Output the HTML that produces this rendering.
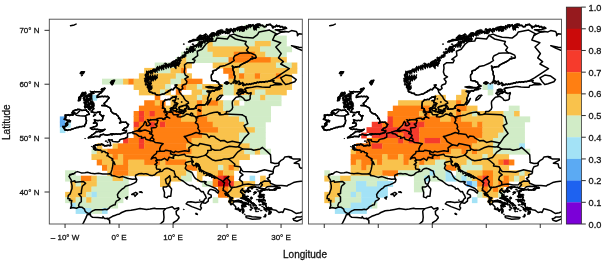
<!DOCTYPE html>
<html><head><meta charset="utf-8"><title>Map</title><style>html,body{margin:0;padding:0;background:#fff;overflow:hidden}body{width:602px;height:261px}</style></head><body>
<svg width="602" height="261" viewBox="0 0 602 261" style="display:block">
<defs><clipPath id="cp"><rect x="49.30" y="19.20" width="253.00" height="204.80"/></clipPath></defs>
<rect width="602" height="261" fill="#fff"/>
<g clip-path="url(#cp)" transform="translate(0.00,0)">
<g><rect x="244.32" y="24.79" width="21.38" height="5.89" fill="#D1ECC7"/>
<rect x="233.78" y="30.18" width="42.47" height="5.89" fill="#D1ECC7"/>
<rect x="212.70" y="35.57" width="74.09" height="5.89" fill="#D1ECC7"/>
<rect x="196.88" y="40.96" width="10.84" height="5.89" fill="#D1ECC7"/>
<rect x="207.43" y="40.96" width="5.57" height="5.89" fill="#F9C24C"/>
<rect x="212.70" y="40.96" width="42.47" height="5.89" fill="#D1ECC7"/>
<rect x="254.86" y="40.96" width="16.11" height="5.89" fill="#F9C24C"/>
<rect x="270.68" y="40.96" width="16.11" height="5.89" fill="#D1ECC7"/>
<rect x="186.34" y="46.34" width="21.38" height="5.89" fill="#D1ECC7"/>
<rect x="207.43" y="46.34" width="53.01" height="5.89" fill="#F9C24C"/>
<rect x="260.13" y="46.34" width="31.93" height="5.89" fill="#D1ECC7"/>
<rect x="181.07" y="51.73" width="31.93" height="5.89" fill="#D1ECC7"/>
<rect x="212.70" y="51.73" width="21.38" height="5.89" fill="#F9C24C"/>
<rect x="233.78" y="51.73" width="21.38" height="5.89" fill="#FF7F12"/>
<rect x="254.86" y="51.73" width="10.84" height="5.89" fill="#F9C24C"/>
<rect x="265.40" y="51.73" width="21.38" height="5.89" fill="#D1ECC7"/>
<rect x="175.80" y="57.12" width="5.57" height="5.89" fill="#D1ECC7"/>
<rect x="181.07" y="57.12" width="5.57" height="5.89" fill="#F9C24C"/>
<rect x="186.34" y="57.12" width="42.47" height="5.89" fill="#D1ECC7"/>
<rect x="228.51" y="57.12" width="42.47" height="5.89" fill="#FF7F12"/>
<rect x="270.68" y="57.12" width="16.11" height="5.89" fill="#F9C24C"/>
<rect x="154.72" y="62.51" width="21.38" height="5.89" fill="#D1ECC7"/>
<rect x="175.80" y="62.51" width="16.11" height="5.89" fill="#F9C24C"/>
<rect x="212.70" y="62.51" width="63.55" height="5.89" fill="#F9C24C"/>
<rect x="275.95" y="62.51" width="16.11" height="5.89" fill="#D1ECC7"/>
<rect x="291.76" y="62.51" width="5.57" height="5.89" fill="#F9C24C"/>
<rect x="144.18" y="67.90" width="10.84" height="5.89" fill="#F9C24C"/>
<rect x="154.72" y="67.90" width="16.11" height="5.89" fill="#D1ECC7"/>
<rect x="170.53" y="67.90" width="10.84" height="5.89" fill="#F9C24C"/>
<rect x="181.07" y="67.90" width="5.57" height="5.89" fill="#FF7F12"/>
<rect x="223.24" y="67.90" width="10.84" height="5.89" fill="#FF7F12"/>
<rect x="233.78" y="67.90" width="5.57" height="5.89" fill="#F9C24C"/>
<rect x="239.05" y="67.90" width="5.57" height="5.89" fill="#D1ECC7"/>
<rect x="244.32" y="67.90" width="53.01" height="5.89" fill="#F9C24C"/>
<rect x="138.90" y="73.29" width="37.20" height="5.89" fill="#F9C24C"/>
<rect x="175.80" y="73.29" width="10.84" height="5.89" fill="#D1ECC7"/>
<rect x="186.34" y="73.29" width="5.57" height="5.89" fill="#F9C24C"/>
<rect x="228.51" y="73.29" width="5.57" height="5.89" fill="#FF7F12"/>
<rect x="233.78" y="73.29" width="5.57" height="5.89" fill="#F9C24C"/>
<rect x="239.05" y="73.29" width="5.57" height="5.89" fill="#FF7F12"/>
<rect x="244.32" y="73.29" width="10.84" height="5.89" fill="#F9C24C"/>
<rect x="254.86" y="73.29" width="5.57" height="5.89" fill="#FF7F12"/>
<rect x="260.13" y="73.29" width="16.11" height="5.89" fill="#F9C24C"/>
<rect x="275.95" y="73.29" width="5.57" height="5.89" fill="#FF7F12"/>
<rect x="281.22" y="73.29" width="10.84" height="5.89" fill="#F9C24C"/>
<rect x="102.01" y="78.68" width="21.38" height="5.89" fill="#D1ECC7"/>
<rect x="123.09" y="78.68" width="5.57" height="5.89" fill="#F9C24C"/>
<rect x="128.36" y="78.68" width="5.57" height="5.89" fill="#FF7F12"/>
<rect x="133.63" y="78.68" width="37.20" height="5.89" fill="#F9C24C"/>
<rect x="170.53" y="78.68" width="10.84" height="5.89" fill="#D1ECC7"/>
<rect x="181.07" y="78.68" width="5.57" height="5.89" fill="#F9C24C"/>
<rect x="186.34" y="78.68" width="16.11" height="5.89" fill="#FF7F12"/>
<rect x="228.51" y="78.68" width="63.55" height="5.89" fill="#F9C24C"/>
<rect x="133.63" y="84.07" width="31.93" height="5.89" fill="#F9C24C"/>
<rect x="165.26" y="84.07" width="5.57" height="5.89" fill="#D1ECC7"/>
<rect x="175.80" y="84.07" width="5.57" height="5.89" fill="#F9C24C"/>
<rect x="181.07" y="84.07" width="5.57" height="5.89" fill="#FF7F12"/>
<rect x="186.34" y="84.07" width="10.84" height="5.89" fill="#F9C24C"/>
<rect x="196.88" y="84.07" width="5.57" height="5.89" fill="#D1ECC7"/>
<rect x="202.15" y="84.07" width="21.38" height="5.89" fill="#F9C24C"/>
<rect x="223.24" y="84.07" width="10.84" height="5.89" fill="#D1ECC7"/>
<rect x="233.78" y="84.07" width="58.28" height="5.89" fill="#F9C24C"/>
<rect x="138.90" y="89.46" width="21.38" height="5.89" fill="#F9C24C"/>
<rect x="159.99" y="89.46" width="5.57" height="5.89" fill="#D1ECC7"/>
<rect x="165.26" y="89.46" width="5.57" height="5.89" fill="#F9C24C"/>
<rect x="175.80" y="89.46" width="5.57" height="5.89" fill="#FF7F12"/>
<rect x="191.61" y="89.46" width="10.84" height="5.89" fill="#F9C24C"/>
<rect x="202.15" y="89.46" width="5.57" height="5.89" fill="#D1ECC7"/>
<rect x="207.43" y="89.46" width="16.11" height="5.89" fill="#F9C24C"/>
<rect x="223.24" y="89.46" width="10.84" height="5.89" fill="#D1ECC7"/>
<rect x="233.78" y="89.46" width="5.57" height="5.89" fill="#F9C24C"/>
<rect x="239.05" y="89.46" width="5.57" height="5.89" fill="#FF7F12"/>
<rect x="244.32" y="89.46" width="10.84" height="5.89" fill="#F9C24C"/>
<rect x="254.86" y="89.46" width="10.84" height="5.89" fill="#D1ECC7"/>
<rect x="265.40" y="89.46" width="21.38" height="5.89" fill="#F9C24C"/>
<rect x="91.47" y="94.85" width="5.57" height="5.89" fill="#A3E2F6"/>
<rect x="154.72" y="94.85" width="5.57" height="5.89" fill="#FF7F12"/>
<rect x="170.53" y="94.85" width="26.65" height="5.89" fill="#F9C24C"/>
<rect x="196.88" y="94.85" width="5.57" height="5.89" fill="#D1ECC7"/>
<rect x="202.15" y="94.85" width="16.11" height="5.89" fill="#F9C24C"/>
<rect x="239.05" y="94.85" width="21.38" height="5.89" fill="#D1ECC7"/>
<rect x="260.13" y="94.85" width="5.57" height="5.89" fill="#F9C24C"/>
<rect x="265.40" y="94.85" width="16.11" height="5.89" fill="#D1ECC7"/>
<rect x="144.18" y="100.24" width="10.84" height="5.89" fill="#FF7F12"/>
<rect x="154.72" y="100.24" width="5.57" height="5.89" fill="#F9C24C"/>
<rect x="159.99" y="100.24" width="5.57" height="5.89" fill="#FF7F12"/>
<rect x="170.53" y="100.24" width="26.65" height="5.89" fill="#F9C24C"/>
<rect x="196.88" y="100.24" width="5.57" height="5.89" fill="#FF7F12"/>
<rect x="202.15" y="100.24" width="5.57" height="5.89" fill="#F9C24C"/>
<rect x="207.43" y="100.24" width="10.84" height="5.89" fill="#FF7F12"/>
<rect x="217.97" y="100.24" width="5.57" height="5.89" fill="#F9C24C"/>
<rect x="223.24" y="100.24" width="10.84" height="5.89" fill="#D1ECC7"/>
<rect x="233.78" y="100.24" width="5.57" height="5.89" fill="#F9C24C"/>
<rect x="244.32" y="100.24" width="37.20" height="5.89" fill="#D1ECC7"/>
<rect x="138.90" y="105.62" width="26.65" height="5.89" fill="#FF7F12"/>
<rect x="165.26" y="105.62" width="31.93" height="5.89" fill="#F9C24C"/>
<rect x="196.88" y="105.62" width="5.57" height="5.89" fill="#FF7F12"/>
<rect x="202.15" y="105.62" width="21.38" height="5.89" fill="#F9C24C"/>
<rect x="223.24" y="105.62" width="47.74" height="5.89" fill="#D1ECC7"/>
<rect x="133.63" y="111.01" width="5.57" height="5.89" fill="#FF7F12"/>
<rect x="138.90" y="111.01" width="5.57" height="5.89" fill="#F63B2C"/>
<rect x="144.18" y="111.01" width="5.57" height="5.89" fill="#FF7F12"/>
<rect x="149.45" y="111.01" width="5.57" height="5.89" fill="#F63B2C"/>
<rect x="154.72" y="111.01" width="26.65" height="5.89" fill="#FF7F12"/>
<rect x="181.07" y="111.01" width="16.11" height="5.89" fill="#F9C24C"/>
<rect x="196.88" y="111.01" width="5.57" height="5.89" fill="#FF7F12"/>
<rect x="202.15" y="111.01" width="26.65" height="5.89" fill="#F9C24C"/>
<rect x="228.51" y="111.01" width="42.47" height="5.89" fill="#D1ECC7"/>
<rect x="59.84" y="116.40" width="5.57" height="5.89" fill="#5BAAF3"/>
<rect x="133.63" y="116.40" width="5.57" height="5.89" fill="#FF7F12"/>
<rect x="138.90" y="116.40" width="5.57" height="5.89" fill="#F63B2C"/>
<rect x="144.18" y="116.40" width="37.20" height="5.89" fill="#FF7F12"/>
<rect x="181.07" y="116.40" width="16.11" height="5.89" fill="#F9C24C"/>
<rect x="196.88" y="116.40" width="10.84" height="5.89" fill="#FF7F12"/>
<rect x="207.43" y="116.40" width="31.93" height="5.89" fill="#F9C24C"/>
<rect x="239.05" y="116.40" width="31.93" height="5.89" fill="#D1ECC7"/>
<rect x="59.84" y="121.79" width="5.57" height="5.89" fill="#5BAAF3"/>
<rect x="65.11" y="121.79" width="5.57" height="5.89" fill="#A3E2F6"/>
<rect x="133.63" y="121.79" width="5.57" height="5.89" fill="#F63B2C"/>
<rect x="138.90" y="121.79" width="10.84" height="5.89" fill="#FF7F12"/>
<rect x="149.45" y="121.79" width="5.57" height="5.89" fill="#F63B2C"/>
<rect x="154.72" y="121.79" width="5.57" height="5.89" fill="#FF7F12"/>
<rect x="159.99" y="121.79" width="5.57" height="5.89" fill="#F63B2C"/>
<rect x="165.26" y="121.79" width="47.74" height="5.89" fill="#FF7F12"/>
<rect x="212.70" y="121.79" width="31.93" height="5.89" fill="#F9C24C"/>
<rect x="244.32" y="121.79" width="21.38" height="5.89" fill="#D1ECC7"/>
<rect x="59.84" y="127.18" width="5.57" height="5.89" fill="#A3E2F6"/>
<rect x="133.63" y="127.18" width="84.63" height="5.89" fill="#FF7F12"/>
<rect x="217.97" y="127.18" width="37.20" height="5.89" fill="#F9C24C"/>
<rect x="254.86" y="127.18" width="10.84" height="5.89" fill="#D1ECC7"/>
<rect x="133.63" y="132.57" width="68.82" height="5.89" fill="#FF7F12"/>
<rect x="202.15" y="132.57" width="37.20" height="5.89" fill="#F9C24C"/>
<rect x="239.05" y="132.57" width="26.65" height="5.89" fill="#D1ECC7"/>
<rect x="123.09" y="137.96" width="5.57" height="5.89" fill="#F63B2C"/>
<rect x="128.36" y="137.96" width="10.84" height="5.89" fill="#FF7F12"/>
<rect x="138.90" y="137.96" width="5.57" height="5.89" fill="#F63B2C"/>
<rect x="144.18" y="137.96" width="47.74" height="5.89" fill="#FF7F12"/>
<rect x="191.61" y="137.96" width="47.74" height="5.89" fill="#F9C24C"/>
<rect x="239.05" y="137.96" width="26.65" height="5.89" fill="#D1ECC7"/>
<rect x="96.74" y="143.35" width="5.57" height="5.89" fill="#F9C24C"/>
<rect x="112.55" y="143.35" width="5.57" height="5.89" fill="#F9C24C"/>
<rect x="117.82" y="143.35" width="21.38" height="5.89" fill="#FF7F12"/>
<rect x="138.90" y="143.35" width="5.57" height="5.89" fill="#F63B2C"/>
<rect x="144.18" y="143.35" width="42.47" height="5.89" fill="#FF7F12"/>
<rect x="186.34" y="143.35" width="63.55" height="5.89" fill="#F9C24C"/>
<rect x="249.59" y="143.35" width="16.11" height="5.89" fill="#D1ECC7"/>
<rect x="91.47" y="148.74" width="5.57" height="5.89" fill="#D1ECC7"/>
<rect x="96.74" y="148.74" width="10.84" height="5.89" fill="#F9C24C"/>
<rect x="107.28" y="148.74" width="84.63" height="5.89" fill="#FF7F12"/>
<rect x="191.61" y="148.74" width="53.01" height="5.89" fill="#F9C24C"/>
<rect x="244.32" y="148.74" width="10.84" height="5.89" fill="#D1ECC7"/>
<rect x="254.86" y="148.74" width="5.57" height="5.89" fill="#F9C24C"/>
<rect x="260.13" y="148.74" width="10.84" height="5.89" fill="#D1ECC7"/>
<rect x="91.47" y="154.12" width="21.38" height="5.89" fill="#F9C24C"/>
<rect x="112.55" y="154.12" width="5.57" height="5.89" fill="#FF7F12"/>
<rect x="117.82" y="154.12" width="5.57" height="5.89" fill="#F9C24C"/>
<rect x="123.09" y="154.12" width="47.74" height="5.89" fill="#FF7F12"/>
<rect x="170.53" y="154.12" width="79.36" height="5.89" fill="#F9C24C"/>
<rect x="96.74" y="159.51" width="5.57" height="5.89" fill="#FF7F12"/>
<rect x="102.01" y="159.51" width="21.38" height="5.89" fill="#F9C24C"/>
<rect x="123.09" y="159.51" width="5.57" height="5.89" fill="#FF7F12"/>
<rect x="128.36" y="159.51" width="16.11" height="5.89" fill="#F9C24C"/>
<rect x="144.18" y="159.51" width="16.11" height="5.89" fill="#FF7F12"/>
<rect x="159.99" y="159.51" width="5.57" height="5.89" fill="#F9C24C"/>
<rect x="165.26" y="159.51" width="21.38" height="5.89" fill="#FF7F12"/>
<rect x="186.34" y="159.51" width="53.01" height="5.89" fill="#F9C24C"/>
<rect x="102.01" y="164.90" width="5.57" height="5.89" fill="#FF7F12"/>
<rect x="107.28" y="164.90" width="5.57" height="5.89" fill="#F9C24C"/>
<rect x="112.55" y="164.90" width="16.11" height="5.89" fill="#FF7F12"/>
<rect x="128.36" y="164.90" width="58.28" height="5.89" fill="#F9C24C"/>
<rect x="186.34" y="164.90" width="10.84" height="5.89" fill="#FF7F12"/>
<rect x="196.88" y="164.90" width="21.38" height="5.89" fill="#F9C24C"/>
<rect x="217.97" y="164.90" width="5.57" height="5.89" fill="#D1ECC7"/>
<rect x="223.24" y="164.90" width="5.57" height="5.89" fill="#F9C24C"/>
<rect x="228.51" y="164.90" width="5.57" height="5.89" fill="#FF7F12"/>
<rect x="233.78" y="164.90" width="5.57" height="5.89" fill="#F9C24C"/>
<rect x="65.11" y="170.29" width="10.84" height="5.89" fill="#D1ECC7"/>
<rect x="107.28" y="170.29" width="5.57" height="5.89" fill="#F9C24C"/>
<rect x="112.55" y="170.29" width="16.11" height="5.89" fill="#FF7F12"/>
<rect x="128.36" y="170.29" width="58.28" height="5.89" fill="#F9C24C"/>
<rect x="186.34" y="170.29" width="5.57" height="5.89" fill="#D1ECC7"/>
<rect x="196.88" y="170.29" width="21.38" height="5.89" fill="#F9C24C"/>
<rect x="217.97" y="170.29" width="5.57" height="5.89" fill="#FF7F12"/>
<rect x="223.24" y="170.29" width="10.84" height="5.89" fill="#F9C24C"/>
<rect x="65.11" y="175.68" width="16.11" height="5.89" fill="#D1ECC7"/>
<rect x="80.92" y="175.68" width="10.84" height="5.89" fill="#FF7F12"/>
<rect x="91.47" y="175.68" width="5.57" height="5.89" fill="#F9C24C"/>
<rect x="96.74" y="175.68" width="16.11" height="5.89" fill="#D1ECC7"/>
<rect x="112.55" y="175.68" width="10.84" height="5.89" fill="#F9C24C"/>
<rect x="123.09" y="175.68" width="5.57" height="5.89" fill="#D1ECC7"/>
<rect x="159.99" y="175.68" width="21.38" height="5.89" fill="#F9C24C"/>
<rect x="181.07" y="175.68" width="10.84" height="5.89" fill="#D1ECC7"/>
<rect x="196.88" y="175.68" width="5.57" height="5.89" fill="#F9C24C"/>
<rect x="212.70" y="175.68" width="5.57" height="5.89" fill="#FF7F12"/>
<rect x="217.97" y="175.68" width="5.57" height="5.89" fill="#F63B2C"/>
<rect x="223.24" y="175.68" width="5.57" height="5.89" fill="#CB0A0A"/>
<rect x="228.51" y="175.68" width="5.57" height="5.89" fill="#FF7F12"/>
<rect x="249.59" y="175.68" width="5.57" height="5.89" fill="#A3E2F6"/>
<rect x="260.13" y="175.68" width="5.57" height="5.89" fill="#F9C24C"/>
<rect x="70.38" y="181.07" width="5.57" height="5.89" fill="#F9C24C"/>
<rect x="75.65" y="181.07" width="5.57" height="5.89" fill="#D1ECC7"/>
<rect x="80.92" y="181.07" width="16.11" height="5.89" fill="#F9C24C"/>
<rect x="96.74" y="181.07" width="31.93" height="5.89" fill="#D1ECC7"/>
<rect x="159.99" y="181.07" width="10.84" height="5.89" fill="#F9C24C"/>
<rect x="202.15" y="181.07" width="10.84" height="5.89" fill="#D1ECC7"/>
<rect x="212.70" y="181.07" width="5.57" height="5.89" fill="#FF7F12"/>
<rect x="217.97" y="181.07" width="10.84" height="5.89" fill="#CB0A0A"/>
<rect x="228.51" y="181.07" width="5.57" height="5.89" fill="#F63B2C"/>
<rect x="233.78" y="181.07" width="21.38" height="5.89" fill="#F9C24C"/>
<rect x="260.13" y="181.07" width="10.84" height="5.89" fill="#F9C24C"/>
<rect x="70.38" y="186.46" width="21.38" height="5.89" fill="#F9C24C"/>
<rect x="91.47" y="186.46" width="37.20" height="5.89" fill="#D1ECC7"/>
<rect x="217.97" y="186.46" width="10.84" height="5.89" fill="#FF7F12"/>
<rect x="228.51" y="186.46" width="16.11" height="5.89" fill="#F9C24C"/>
<rect x="65.11" y="191.85" width="21.38" height="5.89" fill="#F9C24C"/>
<rect x="86.20" y="191.85" width="5.57" height="5.89" fill="#D1ECC7"/>
<rect x="91.47" y="191.85" width="5.57" height="5.89" fill="#A3E2F6"/>
<rect x="96.74" y="191.85" width="31.93" height="5.89" fill="#D1ECC7"/>
<rect x="217.97" y="191.85" width="10.84" height="5.89" fill="#FF7F12"/>
<rect x="228.51" y="191.85" width="16.11" height="5.89" fill="#F9C24C"/>
<rect x="65.11" y="197.24" width="5.57" height="5.89" fill="#D1ECC7"/>
<rect x="70.38" y="197.24" width="5.57" height="5.89" fill="#F9C24C"/>
<rect x="75.65" y="197.24" width="10.84" height="5.89" fill="#D1ECC7"/>
<rect x="86.20" y="197.24" width="5.57" height="5.89" fill="#F9C24C"/>
<rect x="91.47" y="197.24" width="31.93" height="5.89" fill="#D1ECC7"/>
<rect x="212.70" y="197.24" width="5.57" height="5.89" fill="#D1ECC7"/>
<rect x="228.51" y="197.24" width="5.57" height="5.89" fill="#F9C24C"/>
<rect x="70.38" y="202.63" width="5.57" height="5.89" fill="#A3E2F6"/>
<rect x="75.65" y="202.63" width="42.47" height="5.89" fill="#D1ECC7"/>
<rect x="75.65" y="208.02" width="16.11" height="5.89" fill="#A3E2F6"/>
<rect x="91.47" y="208.02" width="10.84" height="5.89" fill="#D1ECC7"/>
<rect x="102.01" y="208.02" width="5.57" height="5.89" fill="#A3E2F6"/></g>
<g fill="none" stroke="#000" stroke-width="1.5" stroke-linejoin="round" stroke-linecap="round"><path d="M136.1 178.9 L136.8 179.6 L136.2 181.8 L134.1 183.1 L130.9 184.6 L125.5 186.2 L123.9 188.1 L122.2 189.0 L119.0 192.0 L117.4 194.7 L117.9 197.4 L120.1 198.7 L118.5 200.1 L116.3 201.2 L115.5 203.0 L115.1 204.8 L113.6 205.0 L110.4 206.6 L108.8 208.4 L107.1 209.7 L105.0 209.2 L102.8 209.7 L100.1 209.8 L95.3 209.8 L92.6 210.9 L90.4 212.5 L90.2 212.9 L88.8 213.6 L86.4 212.5 L85.0 210.9 L84.5 209.2 L81.8 207.2 L79.1 207.1 L76.4 208.2 L72.6 207.6 L70.5 208.2 L71.6 205.5 L71.3 203.0 L71.8 200.6 L69.4 200.5 L70.0 199.0 L67.8 198.6 L68.3 195.5 L70.2 193.9 L71.0 191.2 L72.0 188.5 L72.1 185.8 L71.2 181.9 L71.3 180.1 L70.2 178.3 L69.0 176.4 L70.0 174.8 L73.7 173.8 L75.9 172.1 L77.5 171.6 L81.3 172.9 L85.0 172.8 L87.5 172.3 L91.0 173.2 L94.7 173.7 L98.5 173.3 L102.8 173.9 L108.2 174.1 L109.4 173.8 L110.9 172.9 L112.0 169.4 L112.5 166.9 L112.8 165.1 L113.1 162.1 L115.0 164.5 L113.9 161.8 L112.5 160.7 L112.8 158.9 L110.9 157.8 L109.3 157.0 L107.4 155.1 L108.2 153.7 L107.1 152.8 L105.3 152.4 L105.0 151.5 L102.3 151.3 L100.7 150.5 L96.9 149.7 L95.4 150.0 L93.5 148.7 L95.8 148.1 L94.7 147.0 L93.3 147.1 L93.7 145.8 L97.4 145.0 L100.1 144.4 L102.8 144.3 L104.4 145.9 L106.6 145.4 L108.2 145.4 L110.9 145.5 L110.4 144.4 L110.4 142.4 L109.0 140.8 L108.5 139.6 L110.4 140.0 L112.2 139.7 L112.0 140.8 L113.1 141.5 L117.7 142.0 L119.5 141.1 L119.5 140.8 L119.9 139.8 L122.2 138.9 L124.8 138.5 L127.6 137.0 L127.5 134.2 L127.5 133.4 L129.0 132.9 L131.8 132.5 L134.6 131.5 L136.2 130.9 L137.9 130.6 L141.6 130.7 L138.4 129.5 L140.0 128.4 L141.1 127.3 L143.3 125.2 L144.6 122.2 L145.9 122.3 L146.5 123.6 L146.2 125.2 L147.6 125.7 L149.2 125.2 L150.5 124.1 L149.2 122.8 L148.1 121.4 L148.1 121.0 L150.8 119.9 L152.4 119.8 L156.2 119.5 L157.8 120.3 L156.7 120.1 L157.0 118.7 L159.4 118.3 L162.1 118.2 L162.7 119.2 L163.7 119.5 L163.7 118.7 L165.1 119.0 L164.8 118.2 L165.9 117.3 L167.5 117.1 L169.7 118.2 L167.5 117.0 L166.7 115.9 L165.4 114.9 L167.5 113.9 L165.6 111.7 L165.6 110.1 L164.5 108.6 L162.6 108.1 L162.9 105.8 L162.8 103.6 L163.2 102.0 L165.4 99.7 L169.7 99.5 L172.6 97.2 L176.1 96.3 L175.9 98.0 L175.3 100.4 L172.9 100.4 L174.5 100.9 L174.5 102.5 L177.9 103.6 L176.7 105.0 L174.2 105.0 L174.0 106.6 L171.6 108.2 L170.2 108.5 L171.3 109.8 L170.2 110.9 L171.8 111.7 L169.9 112.2 L172.6 112.5 L172.9 113.9 L173.7 114.7 L176.7 114.7 L178.8 114.4 L177.2 116.3 L177.8 116.8 L180.7 117.0 L184.2 115.7 L186.4 114.1 L188.5 114.3 L189.6 114.9 L191.2 115.7 L193.1 115.7 L194.5 116.3 L195.8 117.0 L197.7 117.9 L196.1 117.1 L198.8 116.3 L202.8 115.6 L206.3 114.9 L209.8 113.4 L213.6 112.5 L217.6 112.1 L220.3 113.3 L218.4 112.5 L219.0 113.9 L219.5 114.7 L221.1 114.7 L223.6 114.5 L224.9 114.1 L226.3 113.1 L226.5 111.4 L229.5 111.4 L231.9 109.5 L232.7 107.4 L232.5 106.3 L232.2 103.1 L232.5 101.2 L235.2 98.2 L236.2 97.2 L240.8 96.3 L243.8 98.5 L244.6 100.1 L246.2 100.5 L248.6 100.1 L250.2 98.8 L250.2 95.7 L251.1 93.7 L251.1 93.0 L248.9 93.4 L247.0 93.1 L245.7 91.9 L245.7 90.7 L245.7 89.9 L245.1 88.5 L248.6 87.7 L252.4 87.2 L256.4 86.4 L258.1 86.4 L261.8 86.9 L265.6 87.2 L269.9 87.2 L270.5 85.6 L272.6 85.3 L275.3 84.5 L279.1 84.8 L281.8 84.6 L280.2 83.4 L275.3 83.1 L273.2 82.1 L274.0 80.4 L271.5 81.0 L268.8 81.3 L264.3 81.8 L261.3 82.1 L257.3 82.6 L253.5 83.3 L250.5 84.2 L245.7 84.5 L242.7 85.2 L244.0 84.0 L240.8 83.4 L238.9 81.8 L235.4 81.3 L234.3 79.9 L234.9 78.1 L234.9 76.1 L233.8 74.0 L234.1 72.0 L233.0 70.2 L232.7 68.1 L235.4 67.0 L239.2 66.4 L241.4 64.4 L243.5 63.5 L248.4 61.0 L250.8 59.0 L255.4 58.1 L256.2 57.3 L255.4 55.1 L251.3 53.2 L249.2 52.7 L246.7 53.1 L243.8 53.0 L239.7 53.2 L238.4 54.1 L234.9 55.7 L233.8 57.3 L233.5 58.9 L234.3 60.5 L231.1 62.7 L228.4 64.0 L225.2 65.4 L220.1 66.5 L217.6 68.6 L215.8 70.0 L212.5 71.3 L213.1 72.9 L211.4 75.0 L211.2 77.2 L211.7 79.1 L211.7 80.6 L213.9 80.7 L215.8 81.0 L218.2 82.3 L218.7 83.7 L220.3 85.5 L221.7 85.6 L218.2 87.2 L216.6 87.8 L219.3 88.3 L217.6 89.3 L215.8 90.1 L212.8 91.0 L210.6 91.0 L206.9 91.5 L210.1 92.0 L209.3 93.9 L208.7 96.3 L207.9 97.7 L207.7 98.9 L207.9 100.4 L207.2 102.2 L205.5 104.7 L203.1 105.0 L199.0 104.9 L197.4 105.5 L196.1 106.2 L195.5 107.4 L196.3 108.2 L193.4 108.8 L189.9 109.2 L188.1 109.1 L189.1 107.9 L188.5 106.9 L187.5 105.5 L186.1 104.2 L188.5 103.4 L188.3 102.2 L185.6 100.4 L184.2 98.5 L183.4 96.6 L181.8 95.0 L180.6 93.5 L179.4 92.0 L179.2 90.0 L178.8 89.1 L178.0 88.5 L176.4 87.3 L176.1 85.6 L176.9 84.8 L175.6 85.0 L175.6 86.6 L174.5 88.3 L173.2 89.4 L171.3 89.6 L169.7 90.3 L166.3 92.6 L164.3 93.7 L162.1 94.2 L159.4 94.9 L157.0 95.1 L154.8 93.7 L151.3 92.6 L148.9 91.1 L149.2 89.6 L150.8 89.6 L151.9 88.0 L149.7 88.0 L147.3 87.5 L147.6 85.6 L149.2 85.0 L151.3 83.7 L148.6 83.4 L147.6 82.1 L145.9 80.7 L145.9 78.8 L148.6 78.6 L154.0 78.0 L157.3 77.8 L151.3 77.5 L145.9 77.5 L145.9 75.6 L146.8 74.0 L146.8 72.4 L149.2 72.1 L152.1 70.9 L154.6 70.5 L157.5 69.4 L156.7 68.1 L160.8 67.5 L163.7 66.4 L166.4 65.4 L169.1 64.8 L171.6 64.6 L173.4 65.6 L175.1 65.7 L177.8 64.8 L179.9 63.2 L176.7 64.0 L172.9 64.0 L170.7 64.0 L172.9 62.1 L176.1 60.2 L181.0 60.1 L178.3 58.9 L179.6 58.0 L183.7 56.5 L184.8 54.7 L186.9 53.0 L186.9 51.9 L189.1 50.8 L195.0 50.3 L189.1 49.2 L191.8 47.0 L194.5 46.0 L196.6 45.0 L202.0 45.1 L198.8 43.0 L202.5 41.4 L206.9 41.1 L205.2 39.8 L212.8 38.8 L207.4 38.4 L207.9 36.8 L211.7 35.7 L214.9 34.9 L217.1 33.6 L221.1 32.2 L224.1 31.4 L227.9 33.6 L226.8 30.1 L232.2 30.3 L233.8 29.3 L237.6 29.3 L242.4 30.1 L244.3 30.5 L243.0 28.4 L246.7 26.8 L251.6 25.2 L255.4 26.0 L253.8 28.7 L257.5 27.4 L258.1 24.4 L262.4 25.5 L264.5 27.1 L268.3 24.4 L271.5 25.2 L272.6 27.6 L276.4 25.7 L281.8 26.8 L286.6 28.3 L281.8 29.8 L275.3 29.8 L278.5 30.9 L281.0 31.8 L285.0 31.4 L288.8 31.9 L291.5 30.6 L296.3 31.4 L297.4 33.3 L297.4 35.7 L299.0 33.8 L305.0 34.6"/>
<path d="M136.1 178.9 L135.4 176.4 L135.7 175.3 L137.9 174.3 L138.9 173.7 L141.6 173.4 L143.8 173.9 L145.1 173.8 L146.2 173.7 L147.8 174.2 L149.2 174.9 L151.1 175.4 L152.4 175.6 L154.8 174.8 L156.7 172.9 L158.2 172.1 L159.4 171.6 L161.0 171.5 L162.4 171.1 L163.5 169.6 L164.8 168.8 L167.1 168.3 L169.1 168.8 L172.0 170.2 L174.1 171.1 L174.5 172.9 L175.6 176.2 L178.3 177.7 L179.1 179.1 L182.5 180.7 L184.9 182.5 L187.0 184.2 L189.3 185.4 L192.2 185.5 L194.5 186.9 L195.8 187.5 L196.2 188.9 L198.6 188.4 L199.8 190.1 L201.4 191.8 L203.2 191.6 L204.2 193.6 L205.4 195.5 L206.3 197.9 L204.7 199.1 L203.4 201.7 L203.6 203.0 L205.6 203.2 L208.2 201.2 L208.5 198.5 L211.3 197.0 L211.2 195.2 L207.9 193.6 L208.5 191.5 L210.1 189.6 L211.7 189.5 L215.5 190.7 L216.0 191.7 L218.0 193.1 L218.7 191.2 L215.8 188.5 L209.9 185.9 L206.7 184.9 L204.8 183.3 L206.2 181.9 L204.7 181.5 L201.5 181.7 L199.8 181.2 L195.6 178.7 L193.9 176.4 L191.9 172.5 L186.8 170.1 L185.2 168.2 L186.4 165.3 L185.3 164.0 L185.8 162.6 L189.6 161.6 L191.9 160.9 L193.2 161.6 L193.0 162.1 L191.8 162.4 L192.3 164.5 L193.7 165.8 L195.3 165.1 L195.8 163.4 L196.8 163.3 L199.3 165.1 L199.3 166.7 L201.0 169.8 L204.7 171.9 L207.7 173.1 L210.6 174.2 L212.9 175.6 L216.6 177.7 L219.0 179.1 L221.9 180.7 L223.3 181.9 L224.6 182.8 L223.8 184.9 L223.8 187.1 L223.0 189.0 L223.8 190.1 L223.0 190.4 L225.5 191.5 L226.8 192.7 L226.8 193.6 L228.1 194.7 L229.5 196.6 L230.8 197.7 L232.7 198.2 L230.8 198.2 L232.2 200.6 L234.1 201.2 L236.7 200.6 L239.7 200.6 L242.4 201.7 L243.5 202.5 L243.0 203.2 L239.7 202.0 L236.1 201.4 L234.1 201.7 L232.7 203.6 L233.8 204.7 L235.7 206.8 L235.7 208.7 L236.0 209.2 L237.3 209.5 L238.1 208.1 L239.5 209.8 L240.2 211.4 L240.7 209.5 L241.9 209.2 L244.0 211.1 L243.2 209.8 L242.4 207.6 L241.6 205.5 L241.9 205.2 L243.8 206.3 L245.7 205.7 L245.1 204.9 L243.8 204.7 L243.0 203.3 L244.9 202.9 L246.4 203.2 L248.5 204.7 L248.4 202.7 L248.6 202.0 L246.2 200.4 L244.6 199.3 L241.9 198.5 L240.5 198.1 L242.7 197.4 L242.7 195.5 L244.9 196.6 L244.0 197.4 L244.6 195.2 L242.4 193.6 L240.8 192.0 L240.8 190.5 L242.6 188.8 L242.2 189.8 L244.9 192.4 L246.7 190.9 L248.3 192.3 L247.8 190.4 L250.5 191.3 L248.4 190.1 L247.6 188.5 L250.5 187.0 L253.8 186.9 L258.4 187.5 L259.4 188.1 L263.5 188.8 L260.2 190.4 L260.2 191.7 L261.3 191.2 L262.8 189.8 L265.1 188.8 L267.2 186.8 L271.3 186.2 L275.1 186.6 L275.8 185.4 L270.5 183.2 L269.9 181.9 L270.1 181.3 L267.2 178.5 L268.5 177.7 L269.4 177.4 L269.5 174.8 L272.5 173.8 L273.2 172.9 L273.2 171.4 L273.4 169.5 L274.8 166.7 L278.5 165.6 L279.1 164.2 L278.8 162.6 L280.7 160.7 L283.4 159.1 L284.7 157.1 L288.8 156.4 L291.5 157.0 L289.3 157.2 L293.1 158.9 L296.3 159.1 L300.1 159.1 L300.1 160.2 L294.2 163.2 L296.9 163.4 L298.9 164.0 L299.6 167.2 L300.9 168.3 L303.1 167.7 L305.5 166.1"/>
<path d="M305.0 181.2 L301.0 181.3 L296.9 181.8 L293.5 182.6 L290.4 184.2 L288.2 185.0 L286.9 186.1 L281.8 185.5 L278.5 185.6 L276.1 185.4 L275.4 186.5 L280.2 188.0 L277.5 188.1 L276.8 188.5 L274.2 189.1 L276.1 189.7 L274.7 190.0 L269.8 190.1 L269.1 189.3 L266.1 189.8 L262.9 190.1 L261.3 191.2 L260.2 192.0 L259.5 194.8 L264.0 194.4 L262.9 195.7 L263.9 197.0 L263.2 199.2 L265.3 200.5 L262.9 200.4 L261.0 199.3 L260.8 201.1 L262.4 202.2 L265.9 203.5 L265.9 206.3 L266.8 208.0 L271.5 207.9 L266.4 209.8 L271.4 209.0 L273.2 209.8 L275.8 210.2 L278.8 212.5 L281.5 211.9 L282.9 212.5 L284.5 208.8 L287.7 209.5 L291.5 210.6 L296.0 213.4 L300.1 212.7 L302.3 211.9 L305.5 209.8"/>
<path d="M82.1 224.9 L83.4 222.9 L85.9 217.9 L86.5 216.4 L87.1 214.7 L87.7 214.7 L90.4 214.1 L90.4 215.7 L92.6 217.3 L97.8 217.6 L102.8 217.9 L103.1 217.3 L103.0 216.6 L104.4 218.4 L107.1 218.4 L109.0 218.4 L112.5 216.3 L115.5 215.2 L117.4 214.4 L119.5 213.9 L121.7 212.5 L126.0 210.8 L130.9 210.3 L135.4 209.4 L140.0 208.6 L146.5 209.5 L150.1 209.1 L154.4 208.2 L156.2 208.8 L160.9 208.7 L164.5 208.7 L166.2 208.4 L172.2 206.7 L174.5 209.0 L178.6 207.7 L178.8 209.0 L176.1 211.4 L176.4 214.5 L178.6 216.3 L179.1 217.7 L177.1 220.4 L173.4 222.7 L173.2 225.4"/>
<path d="M88.3 137.7 L92.0 137.3 L96.4 136.2 L99.6 136.8 L100.4 134.9 L103.4 134.3 L105.8 135.1 L108.5 134.9 L112.0 133.8 L114.7 134.1 L120.3 134.1 L124.1 133.1 L126.5 131.9 L126.5 130.7 L122.8 130.3 L123.9 128.7 L126.0 127.6 L127.6 126.8 L128.4 124.6 L126.0 122.3 L121.7 122.2 L119.5 123.0 L120.9 121.4 L120.1 119.2 L118.5 118.4 L119.8 118.7 L117.9 116.0 L115.8 113.9 L112.5 113.1 L111.2 111.2 L110.4 108.2 L108.2 106.9 L105.0 105.5 L101.8 105.8 L103.9 105.2 L105.0 104.2 L103.9 103.4 L105.8 102.0 L107.7 99.6 L109.3 97.7 L107.7 96.6 L100.7 96.5 L96.9 97.4 L97.4 95.5 L102.8 91.5 L100.7 91.8 L92.0 91.7 L91.5 93.7 L87.7 95.8 L88.3 98.8 L85.6 102.0 L89.4 103.4 L88.3 105.8 L88.8 109.3 L91.2 106.9 L92.9 106.0 L93.7 108.5 L91.2 111.7 L95.3 112.8 L100.1 111.7 L99.6 113.9 L101.8 116.0 L103.6 115.5 L102.6 118.7 L102.3 120.3 L96.4 120.6 L94.2 119.8 L95.3 121.4 L93.4 123.0 L96.9 123.0 L96.9 125.7 L93.7 127.1 L90.4 127.9 L91.8 129.2 L95.8 129.2 L98.5 129.5 L102.3 130.3 L105.0 129.2 L103.4 130.6 L101.2 131.6 L96.4 131.6 L94.5 133.3 L92.0 135.1 L88.3 137.7"/>
<path d="M85.6 116.0 L86.1 119.2 L86.4 121.9 L84.5 126.3 L81.5 126.5 L78.0 127.3 L74.3 128.4 L70.5 129.8 L66.2 130.3 L64.0 128.7 L62.9 126.8 L66.2 126.0 L67.8 124.1 L65.6 124.1 L68.6 121.1 L70.5 121.1 L64.6 119.5 L65.6 117.4 L65.1 115.2 L72.6 114.9 L74.8 113.3 L71.8 112.8 L74.3 110.4 L79.1 109.3 L81.8 110.4 L86.1 110.1 L88.0 112.0 L89.4 114.1 L87.2 114.9 L85.6 116.0"/>
<path d="M85.3 116.0 L82.9 116.0 L79.7 115.7 L76.4 115.2 L75.1 114.1 L77.5 113.1 L78.8 111.7 L79.7 110.9"/>
<path d="M112.0 84.8 L113.1 83.1 L114.7 80.2 L112.0 81.0 L110.4 82.6 L112.0 84.8"/>
<path d="M101.2 89.9 L103.9 90.1 L105.0 88.3 L101.8 88.8 L101.2 89.9"/>
<path d="M81.3 96.3 L85.6 93.7 L85.6 92.3 L81.8 93.7 L80.7 95.3 L81.3 96.3"/>
<path d="M79.1 99.8 L80.2 98.2 L80.2 96.9 L78.8 97.4 L79.1 99.8"/>
<path d="M86.7 100.1 L86.1 97.7 L83.4 98.0 L85.0 99.6 L86.7 100.1"/>
<path d="M85.0 104.2 L88.3 103.4 L85.6 102.5 L85.0 104.2"/>
<path d="M85.0 107.9 L86.4 106.3 L84.5 106.6 L85.0 107.9"/>
<path d="M93.4 116.2 L95.6 114.9 L94.7 114.4 L93.4 116.2"/>
<path d="M110.6 134.5 L113.1 134.3 L112.0 135.0 L110.6 134.5"/>
<path d="M80.2 73.4 L82.9 73.4 L84.5 71.8 L81.3 71.8 L80.2 73.4"/>
<path d="M70.5 25.7 L74.3 24.9 L76.1 24.1"/>
<path d="M131.7 194.4 L135.7 192.3 L137.6 193.6 L135.4 195.8 L133.6 194.4 L131.7 194.4"/>
<path d="M139.5 192.0 L142.2 192.5 L141.1 191.7 L139.5 192.0"/>
<path d="M125.5 197.9 L127.6 196.9 L126.8 198.2 L125.5 197.9"/>
<path d="M169.7 175.8 L170.5 180.1 L168.6 184.5 L166.4 183.6 L165.4 179.3 L168.0 177.4 L169.4 176.1 L169.7 175.8"/>
<path d="M168.6 185.3 L171.6 189.0 L170.7 196.3 L168.0 196.3 L167.0 197.9 L164.3 196.9 L164.5 192.5 L163.2 188.8 L163.2 186.9 L166.4 186.9 L168.6 185.3"/>
<path d="M203.4 201.3 L200.9 204.4 L200.4 206.6 L201.5 207.9 L200.4 209.9 L196.6 208.4 L191.8 206.6 L186.1 203.9 L187.7 202.0 L191.0 201.7 L195.5 202.5 L199.8 202.0 L203.4 201.3"/>
<path d="M196.1 214.1 L197.4 214.4 L196.6 213.6 L196.1 214.1"/>
<path d="M245.9 216.0 L248.9 216.0 L252.1 216.7 L257.8 217.2 L260.8 217.6 L259.7 218.7 L252.4 219.3 L246.2 217.6 L245.9 216.0"/>
<path d="M243.0 197.9 L245.4 197.4 L249.2 199.5 L251.3 202.0 L251.3 203.0 L248.4 200.6 L246.2 200.1 L243.0 197.9"/>
<path d="M268.6 214.1 L271.0 211.1 L270.5 213.0 L268.6 214.1"/>
<path d="M258.3 196.3 L261.3 195.5 L262.4 197.1 L259.7 197.4 L258.3 196.3"/>
<path d="M258.6 199.5 L259.9 199.8 L259.1 201.7 L258.6 199.5"/>
<path d="M262.4 204.1 L264.8 204.1 L263.5 204.7 L262.4 204.1"/>
<path d="M254.0 192.8 L256.2 192.3 L255.4 193.1 L254.0 192.8"/>
<path d="M251.3 188.2 L252.4 188.0 L252.1 188.8 L251.3 188.2"/>
<path d="M255.9 207.6 L257.0 207.4 L256.4 208.4 L255.9 207.6"/>
<path d="M252.1 203.0 L253.5 203.9 L252.7 203.6 L252.1 203.0"/>
<path d="M264.3 209.5 L266.1 208.8 L265.1 209.2 L264.3 209.5"/>
<path d="M265.1 216.5 L265.6 214.4 L265.3 215.7 L265.1 216.5"/>
<path d="M229.0 201.7 L230.6 202.2 L229.8 200.4 L229.0 201.7"/>
<path d="M224.9 193.3 L226.5 193.1 L227.3 195.2 L226.0 194.7 L224.9 193.3"/>
<path d="M230.3 203.6 L231.9 204.3 L231.1 204.7 L230.3 203.6"/>
<path d="M242.4 211.9 L243.2 212.7 L242.7 213.0 L242.4 211.9"/>
<path d="M293.1 218.7 L295.3 218.1 L296.3 217.1 L300.1 217.1 L305.0 215.4 L302.3 218.9 L300.1 219.9 L296.9 221.3 L293.9 220.3 L293.1 218.7"/>
<path d="M171.8 108.5 L175.6 107.9 L177.2 109.5 L176.1 110.9 L173.4 110.6 L171.8 108.5"/>
<path d="M178.8 107.4 L182.1 106.0 L185.3 105.2 L186.9 106.0 L186.9 107.9 L184.8 109.0 L185.8 109.8 L183.7 110.6 L182.1 110.1 L179.4 110.1 L178.8 107.4"/>
<path d="M178.3 112.0 L182.6 111.4 L184.5 112.2 L183.1 113.5 L180.4 113.1 L178.3 112.0"/>
<path d="M198.2 110.6 L198.5 109.5 L200.7 110.4 L200.4 111.2 L198.2 110.6"/>
<path d="M189.9 114.4 L191.2 112.9 L192.6 113.6 L192.8 114.9 L191.0 115.2 L189.9 114.4"/>
<path d="M207.4 104.7 L208.7 102.5 L211.2 98.5 L209.8 101.5 L207.4 104.7"/>
<path d="M216.6 100.4 L217.1 98.2 L219.8 95.5 L222.2 95.3 L220.3 98.2 L218.2 99.8 L216.6 100.4"/>
<path d="M236.8 93.4 L237.6 92.3 L240.8 91.5 L244.6 92.0 L243.0 93.1 L240.8 93.7 L238.4 95.1 L238.7 93.9 L236.8 93.4"/>
<path d="M238.1 90.1 L240.8 89.1 L243.2 90.1 L240.8 91.2 L238.1 90.1"/>
<path d="M224.4 83.1 L226.8 82.1 L229.0 82.9 L226.8 84.0 L224.4 83.1"/>
<path d="M164.3 65.4 L167.5 64.6 L168.6 65.4 L165.4 65.9 L164.3 65.4"/>
<path d="M188.5 41.9 L192.3 40.3 L196.1 39.5 L199.8 38.7 L203.1 38.4 L204.7 39.0 L199.8 40.0 L194.5 40.6 L190.7 41.6 L188.5 41.9"/>
<path d="M197.2 37.9 L199.8 35.7 L203.1 35.7 L205.8 34.1 L205.2 36.3 L203.6 37.9 L200.9 37.6 L197.2 37.9"/>
<path d="M203.1 38.4 L206.3 36.3 L209.6 37.1 L207.9 38.4 L203.1 38.4"/>
<path d="M209.6 35.2 L213.3 32.8 L216.0 33.6 L213.9 34.9 L209.6 35.2"/>
<path d="M216.6 32.2 L219.8 30.3 L221.9 31.4 L219.3 32.5 L216.6 32.2"/>
<path d="M237.6 27.6 L241.9 26.6 L244.6 27.4 L240.8 28.2 L237.6 27.6"/>
<path d="M255.4 24.9 L258.1 24.0 L260.2 25.1 L257.0 25.3 L255.4 24.9"/>
<path d="M305.5 47.8 L299.0 47.3 L291.5 45.7 L296.9 48.4 L302.3 50.5 L305.5 51.1"/>
<path d="M285.6 84.5 L288.8 83.7 L294.7 81.8 L296.3 79.6 L291.5 76.1 L285.6 75.1 L280.7 77.8 L282.9 81.5 L285.6 84.5"/>
<path d="M305.0 77.8 L303.3 75.6 L305.5 72.4"/>
<path d="M217.6 87.7 L213.9 87.2 L210.1 86.6 L205.8 86.9 L208.5 87.7 L212.2 88.0 L216.0 88.0"/>
<path d="M71.2 181.9 L74.8 180.7 L75.3 182.3 L80.2 181.8 L83.4 181.5 L85.6 183.4 L82.3 186.3 L81.5 190.4 L81.3 193.6 L78.6 193.9 L81.3 196.9 L81.3 201.7 L79.7 202.8 L78.6 205.2 L79.1 207.1"/>
<path d="M109.4 173.8 L111.5 174.5 L111.2 175.6 L115.0 176.1 L119.0 177.4 L122.8 176.6 L126.8 178.0 L128.4 178.5 L132.5 179.3 L136.1 178.9"/>
<path d="M159.4 171.6 L160.5 169.6 L156.7 169.1 L156.2 167.2 L156.7 165.1 L154.8 164.5 L157.3 162.6 L155.7 160.7 L157.0 160.1"/>
<path d="M157.0 160.1 L155.7 157.5 L152.7 158.0 L151.1 159.0 L151.9 157.5 L153.8 155.4 L156.2 153.7 L156.7 152.4 L156.7 151.6 L160.0 151.2"/>
<path d="M160.0 151.2 L159.7 148.9 L161.0 145.7 L163.2 143.7 L159.4 143.0 L155.4 142.6 L153.3 141.0"/>
<path d="M153.3 141.0 L150.3 140.5 L150.0 139.2 L151.9 137.3 L154.0 139.2 L153.3 141.0"/>
<path d="M150.3 140.5 L145.9 139.2 L145.1 137.3 L141.4 138.2 L141.6 136.5 L138.9 136.2 L136.2 134.1 L133.0 133.5 L132.7 132.3"/>
<path d="M137.2 130.7 L140.0 131.6 L141.9 130.7 L144.9 130.0 L145.9 130.3 L150.3 131.9 L149.5 133.5 L151.3 134.1"/>
<path d="M151.3 134.1 L153.0 135.4 L152.1 137.4"/>
<path d="M151.3 134.1 L151.9 131.6 L151.3 128.1 L155.7 127.6 L157.0 126.0 L155.1 124.1 L157.0 123.8 L157.8 120.6"/>
<path d="M165.6 111.7 L169.9 112.2"/>
<path d="M195.8 117.0 L196.6 120.3 L195.3 122.8 L197.7 124.1 L198.5 127.1 L197.7 128.4 L199.8 131.1 L198.9 133.4"/>
<path d="M198.9 133.4 L196.1 132.5 L191.8 134.3 L186.4 136.0 L184.2 136.5 L186.4 138.6 L188.0 141.6 L193.4 144.8"/>
<path d="M193.4 144.8 L191.5 145.9 L188.8 147.8 L189.1 149.7 L189.1 151.6 L184.8 150.8 L178.3 152.1 L175.3 151.3 L174.0 152.7 L170.7 151.3"/>
<path d="M170.7 151.3 L167.5 150.5 L165.4 150.2 L164.3 151.2 L160.0 151.2"/>
<path d="M170.7 151.3 L170.5 153.7 L173.7 155.1 L175.4 155.0"/>
<path d="M175.4 155.0 L173.2 156.7 L173.7 158.3 L169.1 157.2 L167.5 160.5 L164.5 158.3 L161.3 160.0 L157.0 160.1"/>
<path d="M175.4 155.0 L178.3 155.5 L184.5 154.3 L185.8 155.9 L192.8 156.9"/>
<path d="M192.8 156.9 L191.2 158.6 L192.3 160.5 L193.2 161.8"/>
<path d="M192.8 156.9 L197.4 157.5 L203.4 155.9 L205.8 155.0"/>
<path d="M205.8 155.0 L207.9 152.1 L207.7 150.5 L211.2 150.2 L211.4 148.9"/>
<path d="M211.4 148.9 L210.4 145.7"/>
<path d="M210.4 145.7 L205.8 144.8 L199.8 143.5 L198.2 145.7 L193.4 144.8"/>
<path d="M198.9 133.4 L201.5 133.8 L206.9 134.6 L209.0 137.6 L210.6 136.0 L214.4 136.5 L216.0 138.1 L220.6 140.8"/>
<path d="M220.6 140.8 L224.1 140.5 L227.3 142.4 L232.2 141.3 L240.5 143.1"/>
<path d="M211.4 148.9 L214.9 150.2 L220.3 150.0 L224.6 147.8 L229.5 146.2 L236.0 147.0 L238.4 146.7"/>
<path d="M238.4 146.7 L240.5 143.1"/>
<path d="M238.4 146.7 L242.4 148.9"/>
<path d="M242.4 148.9 L237.6 152.1 L233.3 157.5 L228.4 158.9"/>
<path d="M228.4 158.9 L224.1 158.9 L220.9 160.1"/>
<path d="M220.9 160.1 L215.5 160.7 L212.2 159.7 L208.5 157.1"/>
<path d="M208.5 157.1 L205.8 155.0"/>
<path d="M228.7 176.6 L225.7 178.5 L223.6 180.7 L223.4 182.0"/>
<path d="M228.7 176.6 L227.3 178.0 L229.8 181.2 L230.0 182.0"/>
<path d="M230.0 182.0 L229.2 183.9 L230.6 187.1 L232.2 187.4"/>
<path d="M232.2 187.4 L230.6 190.4 L228.4 192.3 L226.8 193.6"/>
<path d="M232.2 187.4 L236.5 186.9 L240.8 185.8 L242.7 184.7"/>
<path d="M242.7 184.7 L242.4 181.8 L239.5 179.6"/>
<path d="M239.5 179.6 L240.3 176.6 L243.0 174.8 L239.7 172.1 L241.2 169.4"/>
<path d="M241.2 169.4 L240.0 166.7 L234.3 166.1 L234.9 164.2 L231.1 161.0 L228.4 158.9"/>
<path d="M241.2 169.4 L243.0 171.5 L251.1 171.8 L256.4 172.3 L264.5 169.7 L273.2 171.8"/>
<path d="M242.7 184.7 L248.4 183.9 L253.8 185.0 L259.1 184.7 L261.0 182.8"/>
<path d="M261.0 182.8 L264.5 181.0 L270.1 181.3"/>
<path d="M261.0 182.8 L262.4 184.7 L260.8 186.6 L259.4 188.1"/>
<path d="M242.4 148.9 L251.1 149.2 L253.8 150.2 L260.2 148.9 L262.4 147.5"/>
<path d="M262.4 147.5 L267.2 151.6 L270.5 154.8 L271.0 162.5"/>
<path d="M271.0 162.5 L274.8 163.4 L278.8 163.2"/>
<path d="M224.9 114.1 L241.9 114.7"/>
<path d="M241.9 114.7 L245.7 116.8"/>
<path d="M245.7 116.8 L247.8 123.6 L244.0 125.7 L246.5 130.0"/>
<path d="M246.5 130.0 L248.9 133.5 L244.6 137.6 L241.4 142.4 L240.5 143.1"/>
<path d="M268.8 81.3 L275.3 77.8 L289.3 68.6 L280.7 64.0 L283.4 61.6 L278.5 57.8 L281.2 53.5 L275.8 47.0 L280.7 42.7 L272.6 40.0 L274.8 35.4"/>
<path d="M274.8 35.4 L281.2 32.2 L285.0 31.4"/>
<path d="M274.8 35.4 L276.9 34.1 L269.9 30.3 L269.4 29.9 L259.1 31.9 L257.5 34.6 L253.2 37.9 L243.0 37.3 L237.6 35.7 L233.8 34.1 L229.8 35.4"/>
<path d="M229.8 35.4 L235.4 39.0 L246.2 41.4 L245.1 44.1 L248.4 47.6 L246.5 50.3 L249.2 53.0"/>
<path d="M229.8 35.4 L227.3 39.0 L216.8 38.1 L215.5 41.1 L209.0 41.6 L205.8 44.3 L202.0 49.2 L197.2 51.3 L197.7 55.7 L192.6 59.4 L195.0 60.2 L193.9 62.7 L187.5 62.7 L184.5 64.8 L184.8 68.1 L184.2 72.1 L185.3 75.1 L188.3 76.9 L184.8 78.8 L186.9 81.5 L186.4 83.7 L182.9 85.0 L182.1 86.4 L182.9 88.3 L180.7 90.1 L179.4 89.1"/>
<path d="M107.1 218.4 L109.6 220.3 L109.8 224.9"/>
<path d="M165.4 208.7 L163.5 211.1 L164.0 217.3 L163.5 221.1 L159.4 224.9"/>
<path d="M149.2 91.6 L150.1 89.1 L151.9 85.8 L150.8 89.0 L150.3 85.4 L148.5 87.9 L148.9 87.7 L147.1 84.3 L150.3 86.8 L150.0 84.0 L151.7 80.5 L149.9 84.3 L150.9 81.6 L147.1 82.7 L148.4 79.4 L145.7 80.7 L146.2 81.4 L147.2 77.3 L148.9 81.0 L149.6 77.3 L151.1 81.0 L151.9 78.1 L153.2 80.9 L154.0 77.1 L155.3 80.0 L156.2 77.8 L157.4 74.8 L156.0 78.5 L155.0 74.9 L153.6 79.0 L152.7 74.8 L151.3 79.0 L150.3 75.2 L149.2 78.8 L148.1 75.2 L147.0 79.0 L149.0 77.5 L145.8 75.5 L148.6 74.0 L146.7 72.0 L148.3 75.4 L148.9 71.4 L151.1 74.1 L151.0 70.8 L152.6 73.3 L153.2 70.1 L155.3 72.5 L155.2 69.2 L157.4 72.2 L156.3 70.1 L157.1 70.7 L157.5 66.4 L159.1 70.7 L159.6 66.1 L161.7 70.0 L161.7 66.9 L163.8 69.6 L163.2 65.0 L166.2 68.7 L166.3 64.4 L168.3 67.8 L169.1 64.5 L170.7 67.6 L172.0 63.7 L171.5 66.9 L173.4 65.5 L176.0 68.5 L175.9 63.8 L178.8 66.2 L178.1 63.0 L179.4 61.0 L178.9 63.7 L177.2 61.7 L176.7 65.3 L175.4 61.0 L174.2 64.1 L172.9 61.4 L171.8 64.1 L172.6 66.1 L171.5 62.6 L172.9 62.1" stroke-width="1.25"/>
<path d="M149.2 90.2 L149.7 88.9 L151.9 87.1 L150.8 89.0 L149.9 87.3 L148.2 89.2 L148.2 87.6 L147.3 84.7 L149.6 85.6 L149.6 83.3 L151.4 83.1 L149.8 85.1 L149.1 83.0 L146.8 82.9 L147.4 80.7 L144.7 80.7 L146.0 79.2 L147.2 77.7 L148.7 79.1 L149.6 77.7 L150.9 79.0 L151.7 76.9 L153.0 78.6 L153.9 76.6 L155.2 78.9 L156.1 76.6 L157.3 77.0 L156.0 78.6 L154.9 77.4 L153.6 79.2 L152.5 77.1 L151.3 78.4 L150.3 76.6 L149.2 78.9 L148.1 77.2 L147.0 78.5 L146.3 77.5 L145.1 75.2 L146.9 74.0 L146.6 71.2 L148.0 72.6 L148.8 71.1 L150.3 72.0 L150.8 70.5 L152.2 71.1 L153.1 69.2 L154.8 71.2 L155.1 69.0 L156.6 70.0 L156.8 69.9 L156.8 68.3 L157.6 66.9 L158.8 68.0 L159.6 66.7 L160.9 67.8 L161.4 66.3 L163.0 67.5 L163.3 65.4 L165.3 66.4 L166.2 64.3 L167.9 65.7 L169.0 63.4 L170.4 65.1 L172.0 63.8 L172.2 65.6 L173.5 64.6 L175.3 66.5 L176.1 64.5 L178.3 65.5 L178.4 63.4 L179.8 62.6 L179.1 64.6 L177.6 63.3 L176.7 65.5 L175.4 63.3 L174.2 64.9 L172.9 63.4 L171.8 65.3 L170.9 64.1 L171.3 62.4 L172.9 62.1" stroke-width="1.25"/>
<path d="M173.5 63.2 L174.0 61.5 L175.8 62.1 L176.1 60.3 L177.4 61.3 L178.6 60.0 L179.8 62.0 L180.8 60.6 L180.3 58.0 L178.3 58.9 L180.2 59.4 L180.6 57.5 L182.1 58.3 L182.7 56.9 L184.7 57.1 L183.7 55.3 L185.9 56.1 L185.5 53.4 L188.6 53.0 L186.9 51.9 L188.6 52.5 L189.0 50.4 L190.4 52.4 L191.4 50.0 L192.8 52.3 L193.8 50.4 L195.3 48.7 L193.9 50.5 L193.3 48.5 L192.0 49.7 L191.3 48.1 L190.1 49.3 L190.2 50.6 L189.6 48.0 L191.8 48.9 L191.7 46.9 L193.8 48.2 L194.3 45.6 L196.3 47.1 L196.6 45.0" stroke-width="1.25"/>
<path d="M173.1 62.5 L173.7 61.0 L175.3 61.3 L176.1 59.5 L177.4 60.8 L178.5 59.7 L179.8 60.7 L180.8 60.6 L179.8 59.3 L178.1 58.6 L179.8 58.3 L180.5 57.2 L181.8 57.5 L182.5 56.3 L184.1 56.7 L183.6 55.2 L184.9 54.9 L185.6 53.6 L187.2 53.0 L186.6 51.4 L188.2 51.8 L189.0 50.1 L190.3 51.3 L191.4 50.0 L192.7 50.9 L193.8 49.9 L195.1 50.0 L193.9 50.5 L193.1 49.5 L191.9 50.3 L191.1 49.2 L190.0 49.9 L189.3 49.5 L189.7 48.1 L191.2 48.2 L191.5 46.5 L193.3 46.9 L194.2 45.3 L195.6 45.7 L196.6 45.0" stroke-width="1.25"/>
<path d="M196.6 47.1 L197.7 44.0 L198.7 47.4 L199.9 43.8 L200.9 47.4 L201.3 46.2 L201.7 43.3 L199.5 44.3 L199.8 45.3 L199.3 41.7 L201.6 44.5 L201.5 41.6 L202.7 43.3 L203.6 40.9 L204.8 43.2 L205.7 40.3 L207.7 40.1 L205.8 40.7 L205.5 41.4 L206.2 38.3 L207.7 41.8 L208.4 39.0 L209.8 41.5 L210.6 38.8 L212.0 41.0 L212.8 39.1 L211.8 37.4 L210.5 39.9 L209.7 37.0 L208.4 38.9 L209.8 39.2 L207.6 35.6 L209.7 38.0 L210.1 34.8 L212.2 37.7 L212.5 34.5 L214.2 36.7 L214.2 33.8 L217.2 36.1 L216.7 32.3 L218.9 35.6 L219.0 32.4 L220.7 34.2 L221.1 31.9 L222.5 33.4 L223.1 31.5 L223.3 32.9 L225.5 31.2 L225.3 33.6 L227.4 32.2 L229.5 33.1 L227.0 32.5 L229.4 30.5 L226.8 29.3 L227.8 31.8 L229.0 29.4 L229.9 32.4 L231.1 30.1 L233.6 32.5 L233.8 29.1 L235.1 31.5 L236.3 28.1 L237.4 30.6 L239.0 28.3 L239.7 31.4 L241.4 29.0 L242.1 31.3 L244.2 30.6 L244.9 28.6 L242.4 27.2 L244.5 29.4 L244.4 26.6 L246.8 29.5 L246.3 25.5 L248.2 28.1 L248.5 25.6 L250.3 27.7 L250.3 24.5 L251.3 26.6 L253.1 24.4 L253.6 28.0 L256.4 26.6 L253.7 26.2 L255.4 28.5 L254.2 30.0 L254.5 27.9 L256.3 30.0 L256.1 26.5 L259.2 27.7 L256.4 26.1 L259.9 25.7 L258.1 24.4" stroke-width="1.25"/>
<path d="M196.6 45.5 L197.7 44.0 L198.8 45.7 L199.9 44.0 L200.9 45.5 L201.4 46.1 L201.2 44.0 L199.3 44.6 L199.0 43.6 L199.3 41.5 L200.8 42.5 L201.3 41.1 L202.6 42.0 L203.6 40.4 L204.7 41.9 L205.7 40.4 L207.4 40.5 L205.7 40.9 L205.3 40.4 L206.2 38.8 L207.4 39.6 L208.3 38.4 L209.6 39.4 L210.5 38.4 L211.8 39.3 L212.7 39.4 L211.7 38.5 L210.6 39.2 L209.6 37.9 L208.4 39.1 L207.6 38.5 L207.8 36.2 L209.4 37.2 L210.2 35.2 L211.9 36.4 L212.5 34.3 L214.0 35.6 L214.5 34.2 L216.2 34.6 L216.9 32.9 L218.3 33.7 L218.7 31.8 L220.3 33.0 L220.9 31.2 L222.3 32.6 L222.8 30.6 L223.8 31.9 L225.5 31.2 L225.9 32.7 L227.3 32.3 L228.6 33.4 L226.7 32.6 L227.7 31.1 L226.8 29.3 L227.9 30.6 L229.0 29.5 L230.0 30.9 L231.2 29.2 L232.3 30.5 L233.8 28.3 L235.1 29.5 L236.3 28.1 L237.5 29.5 L238.9 28.8 L239.9 30.4 L241.4 28.9 L242.4 30.2 L243.6 31.0 L244.2 29.1 L242.7 27.8 L244.2 28.6 L244.6 26.9 L246.0 27.6 L246.5 26.0 L247.8 26.6 L248.4 25.4 L249.8 26.3 L250.3 24.6 L251.5 25.7 L253.0 24.8 L254.0 26.3 L256.0 26.4 L254.2 26.5 L254.8 28.1 L254.0 29.3 L254.5 27.8 L255.8 28.5 L256.3 27.0 L258.0 27.4 L256.7 26.2 L258.5 25.5 L258.1 24.4" stroke-width="1.25"/>
<path d="M257.8 25.4 L259.8 23.7 L260.7 25.9 L262.7 25.0 L263.2 26.6 L264.0 26.3 L266.2 26.8 L266.5 24.5 L268.1 25.1 L270.2 23.8 L271.0 25.5 L273.0 26.0 L273.1 28.5 L273.5 26.3 L275.5 27.1 L276.6 24.8 L277.6 26.6 L279.3 25.5 L280.2 27.6 L282.0 26.2 L283.1 28.3 L285.3 26.9 L286.6 28.3" stroke-width="1.25"/>
<path d="M157.3 94.6 L155.7 94.7 L155.1 92.9 L153.0 93.5 L151.7 92.0 L149.8 92.3 L149.3 91.2 L149.2 89.6" stroke-width="1.25"/>
<path d="M179.6 89.8 L178.4 89.7 L178.2 88.3 L175.8 87.4 L176.4 85.8 L177.0 85.2 L174.8 85.0 L175.9 86.9 L174.1 87.8 L173.2 90.0 L171.1 89.1 L170.0 90.8 L168.3 90.7 L167.8 92.4 L166.1 92.3 L164.4 94.0 L162.1 94.2" stroke-width="1.25"/>
<path d="M90.1 91.1 L93.0 93.0 L90.8 92.4 L91.6 96.0 L89.0 93.7 L89.4 96.5 L85.1 96.3 L88.7 96.7 L86.0 98.2 L89.5 99.8 L86.6 98.8 L87.9 101.2 L84.4 99.7 L86.0 100.7 L85.7 104.6 L87.8 101.9 L87.9 104.5 L90.1 103.7 L86.9 103.7 L90.4 105.4 L86.3 107.3 L90.5 107.8 L90.1 110.6 L88.3 107.1 L91.4 108.6 L90.7 105.9 L92.9 106.0" stroke-width="1.25"/>
<path d="M92.5 91.8 L94.2 93.3 L91.6 93.8 L91.8 96.3 L89.9 95.2 L89.9 97.5 L88.3 95.7 L91.0 96.2 L89.0 97.6 L90.3 100.4 L88.2 100.1 L88.9 102.0 L86.3 101.2 L86.4 99.6 L86.7 102.0 L88.3 100.2 L88.5 102.8 L91.8 104.4 L89.6 104.9 L90.9 105.4 L89.1 106.8 L91.6 107.7 L88.5 109.0 L88.0 106.8 L90.2 107.4 L90.1 104.6 L92.9 106.0" stroke-width="1.25"/>
<path d="M66.6 129.7 L64.7 130.0 L64.7 128.3 L62.8 126.3 L64.8 127.2 L65.5 125.4 L67.8 123.3 L65.3 123.8 L67.1 123.6 L67.2 121.7 L68.6 121.6 L70.2 122.1 L69.3 119.8 L67.4 120.7 L66.3 119.0 L63.9 119.2 L66.2 117.2 L65.1 114.7 L66.6 115.9 L68.1 114.5 L69.7 115.8 L71.1 114.2 L72.9 115.3 L73.2 113.4 L75.0 112.3 L73.1 114.0 L72.4 113.3 L72.8 111.3 L74.3 110.4" stroke-width="1.25"/>
<path d="M243.4 85.9 L243.9 85.0 L242.7 82.3 L240.2 84.2 L239.1 80.8 L237.0 82.6 L236.0 80.8 L234.3 79.9" stroke-width="1.25"/>
<path d="M220.3 86.1 L222.0 86.3 L219.6 85.7 L218.3 87.6 L216.5 88.2 L218.0 87.5 L219.0 87.8 L218.0 90.1 L215.5 89.4 L214.5 91.3 L212.8 90.2 L210.7 91.7 L208.7 90.8 L207.0 90.9 L208.4 92.2 L211.0 92.4 L209.3 93.9" stroke-width="1.25"/>
<path d="M195.7 164.8 L198.2 163.9 L197.0 165.1 L199.7 166.5 L198.6 169.1 L200.9 170.0 L201.4 172.0 L203.4 171.4 L203.8 174.0 L206.1 172.8 L206.9 175.1 L209.1 173.9 L209.7 175.8 L211.8 174.9 L211.7 177.7 L214.3 176.1 L214.5 178.4 L216.6 177.7" stroke-width="1.25"/>
<path d="M259.5 195.2 L260.9 194.0 L262.6 195.2 L264.6 195.0 L262.5 195.9 L264.3 197.2 L262.8 199.8 L265.3 201.2 L263.2 199.9 L261.7 199.4 L260.4 201.5 L262.6 201.5 L264.0 203.2 L266.3 203.5 L265.0 204.9 L266.3 206.0 L266.9 208.5 L268.4 207.2 L270.0 208.6 L271.7 208.3 L270.0 207.8 L269.2 209.5 L267.6 208.9 L266.3 209.1 L268.1 209.9 L269.6 208.7 L271.4 209.0" stroke-width="1.25"/>
<path d="M100.8 149.8 L98.7 150.3 L96.8 149.1 L95.3 150.2 L93.7 149.3 L95.6 148.3 L94.7 146.4 L92.8 147.0 L93.8 146.4 L95.4 144.7 L97.5 145.4 L98.7 144.3 L100.2 145.0 L101.5 144.0 L102.6 144.6 L104.4 145.6 L106.6 146.0 L108.2 145.4" stroke-width="1.25"/>
<path d="M243.2 197.4 L242.9 195.0 L244.5 196.2 L243.6 197.3 L244.9 194.8 L243.1 194.9 L242.7 193.3 L240.2 192.0 L241.0 190.7 L242.6 188.8" stroke-width="1.25"/>
<path d="M235.1 209.0 L236.1 208.5 L238.1 209.9 L238.5 207.8 L238.8 210.1 L239.5 211.2 L240.8 210.2 L242.1 209.0 L242.8 210.4 L243.6 211.4 L243.9 209.5 L242.0 207.8 L242.1 205.9 L242.1 204.8 L244.0 207.1 L244.9 206.2 L245.2 204.4 L243.0 205.1 L243.0 203.7 L245.0 202.1 L245.9 203.8 L247.7 203.6 L248.5 204.7" stroke-width="1.25"/>
<path d="M243.1 198.3 L245.7 196.8 L246.4 198.5 L248.1 198.5 L248.8 199.9 L250.6 200.4 L250.8 202.0 L251.3 203.0" stroke-width="1.25"/>
<path d="M85.2 116.1 L86.1 117.6 L85.8 119.3 L86.8 120.5 L86.0 121.8 L86.2 123.6 L84.7 124.6 L84.5 126.6 L83.0 125.9 L81.6 126.9 L79.7 126.4 L78.2 127.8 L76.6 127.2 L75.6 128.4 L74.2 128.2 L73.1 129.1 L71.6 128.8 L70.5 130.0 L69.0 129.5 L67.7 130.6 L66.3 130.1 L64.8 129.9 L64.2 128.6 L62.8 126.3 L64.7 126.9 L66.0 125.8 L67.4 125.4 L67.8 124.6 L65.8 124.3 L66.3 122.8 L67.8 122.3 L68.6 120.6 L70.6 120.7 L69.1 121.4 L68.2 120.3 L66.8 120.5 L65.9 119.4 L64.2 119.3 L65.4 118.6 L65.1 117.5 L65.1 115.7 L66.3 114.8 L67.6 115.4 L68.9 114.6 L70.1 115.4 L71.4 114.5 L72.9 115.3 L73.5 113.8 L74.8 113.1 L73.3 113.3 L72.1 113.1 L72.7 111.2 L74.3 110.7 L75.4 109.6 L76.8 110.2 L77.8 109.0 L78.9 109.7 L80.6 109.5 L81.8 110.6 L83.2 110.0 L84.7 110.4 L86.5 109.7 L86.7 111.4 L88.4 111.7 L88.5 113.2 L89.5 114.6 L87.1 114.7 L85.6 116.0" stroke-width="1.25"/>
<path d="M88.3 138.2 L89.5 137.4 L90.8 137.7 L92.0 137.0 L93.6 137.4 L94.8 136.2 L96.3 136.7 L98.0 136.3 L99.9 136.9 L100.4 134.7 L101.9 134.9 L103.5 134.0 L104.5 134.9 L105.8 134.9 L107.2 135.4 L108.4 134.5 L109.7 134.8 L110.7 133.8 L111.9 134.3 L113.4 133.7 L114.7 134.5 L116.1 133.6 L117.5 134.4 L118.9 133.8 L120.5 134.6 L121.5 133.4 L122.9 133.6 L124.0 132.9 L125.6 133.0 L126.1 131.9 L126.6 130.2 L125.2 131.0 L124.1 130.0 L122.3 130.0 L124.0 129.0 L124.8 127.8 L126.2 128.0 L127.2 126.6 L128.8 124.3 L126.9 123.8 L126.0 121.9 L124.6 122.5 L123.1 122.0 L121.8 122.5 L119.7 123.2 L120.6 121.5 L120.2 119.0 L118.5 118.2 L120.2 118.5 L118.6 117.5 L118.2 115.8 L116.7 115.1 L115.8 113.6 L114.0 114.0 L112.9 112.8 L110.8 111.3 L111.0 109.6 L110.1 108.6 L109.4 107.3 L108.1 107.2 L106.8 105.7 L105.0 105.9 L103.3 105.3 L101.6 105.4 L104.3 105.6 L104.7 104.5 L104.1 103.6 L105.6 101.9 L107.0 101.0 L107.5 99.4 L108.7 98.8 L109.0 98.1 L107.7 96.1 L106.3 96.9 L104.9 96.1 L103.5 96.9 L102.1 96.0 L100.8 96.9 L99.3 96.5 L98.2 97.4 L97.3 97.5 L97.3 95.3 L98.8 95.0 L99.3 93.5 L100.9 93.4 L101.6 92.1 L102.8 91.0 L100.7 92.1 L99.4 91.5 L98.2 91.9 L97.0 91.5 L95.7 92.1 L94.5 91.2 L93.3 92.0 L91.8 91.6 L91.7 93.9 L90.0 93.9 L89.2 95.4 L87.2 95.9 L88.5 97.2 L88.1 98.6 L87.7 100.1 L86.1 100.6 L85.7 101.6 L86.7 102.7 L88.2 102.5 L89.1 103.3 L89.1 104.7 L87.9 105.8 L89.1 107.4 L89.2 109.6 L89.8 107.9 L91.4 107.2 L93.1 106.0 L92.8 107.4 L94.1 108.8 L92.6 109.4 L92.4 110.9 L91.1 112.1 L92.7 111.8 L93.8 112.9 L95.2 112.4 L96.6 113.0 L97.6 111.9 L99.0 112.2 L100.4 111.8 L99.5 114.0 L101.0 114.6 L101.9 116.5 L104.1 115.6 L102.8 117.0 L102.8 118.7 L102.3 119.8 L100.8 120.9 L99.3 120.2 L97.9 120.9 L96.4 120.4 L94.6 119.5 L95.0 121.1 L94.5 122.4 L93.4 123.4 L95.1 122.6 L96.6 123.0 L97.4 124.4 L96.8 125.4 L95.4 126.6 L93.6 126.7 L92.2 127.9 L90.2 128.1 L91.8 128.9 L93.1 129.8 L94.5 128.8 L95.8 129.6 L97.2 129.0 L98.5 129.7 L99.8 129.5 L101.0 130.3 L102.1 129.9 L103.7 130.0 L105.2 129.4 L103.3 130.4 L102.5 131.5 L101.2 131.4 L100.0 132.2 L98.8 131.1 L97.6 131.9 L96.2 131.4 L95.7 132.8 L94.3 133.0 L93.4 134.4 L91.8 134.7 L91.0 136.3 L89.3 136.6 L88.3 137.7" stroke-width="1.25"/>
<path d="M165.8 111.7 L165.2 110.4 L164.6 108.4 L162.2 108.1 L163.2 107.0 L162.4 105.8 L163.1 103.7 L162.9 101.7 L164.4 101.0 L165.3 99.4 L166.8 100.0 L168.2 99.0 L169.9 99.8 L170.3 98.3 L171.9 98.2 L172.6 96.9 L174.5 97.3 L176.7 96.4 L175.5 97.9 L175.8 99.2 L175.3 100.0 L174.1 100.8 L172.7 100.9 L175.0 100.9 L174.4 102.9 L176.3 102.7 L177.6 103.4 L176.7 105.2 L175.5 104.7 L174.8 105.1 L173.7 106.1 L172.9 107.7 L171.4 107.7 L170.5 108.2 L171.1 109.6 L170.4 110.4 L171.7 111.3 L169.9 112.2" stroke-width="1.25"/>
<path d="M179.0 107.7 L180.3 106.3 L182.2 106.6 L183.6 105.4 L185.2 105.5 L187.1 106.0 L186.8 107.7 L185.9 108.7 L184.6 109.2 L186.0 110.2 L183.9 110.1 L182.1 110.6 L180.7 109.7 L179.0 110.2 L179.6 108.6 L178.8 107.4" stroke-width="1.25"/>
<path d="M171.9 108.8 L173.0 107.9 L174.4 108.4 L175.8 107.7 L177.0 109.4 L176.1 111.1 L174.8 110.4 L173.2 110.8 L172.9 109.3 L171.8 108.5" stroke-width="1.25"/>
<path d="M178.3 112.4 L179.7 111.5 L181.2 112.0 L182.8 111.0 L184.3 112.1 L183.1 113.8 L181.9 112.9 L180.2 113.5 L179.5 112.3 L178.3 112.0" stroke-width="1.25"/>
<path d="M219.9 66.3 L219.1 67.8 L217.4 68.3 L215.9 70.3 L214.0 70.3 L212.8 71.2 L212.9 72.8 L212.5 74.1 L211.3 74.9 L211.4 77.2 L211.4 79.1 L211.7 80.1 L213.8 81.0 L215.9 80.7 L216.7 82.1 L218.6 82.2 L218.4 83.9 L219.7 84.4 L220.3 85.5" stroke-width="1.25"/>
<path d="M209.0 93.9 L209.2 95.2 L208.5 96.2 L208.1 97.7 L207.3 99.0 L208.1 100.5 L207.0 102.0 L206.5 103.5 L205.5 104.3 L204.3 105.2 L203.1 104.8 L201.7 105.2 L200.4 104.7 L199.1 105.1 L197.3 105.2 L196.2 106.2 L195.4 107.5 L196.4 108.4 L194.8 108.4 L193.4 109.1 L191.6 108.8 L189.9 109.3 L188.1 109.1" stroke-width="1.25"/>
<path d="M234.5 80.0 L234.6 78.1 L235.1 76.0 L234.0 75.2 L234.1 74.0 L233.9 72.1 L233.2 70.2 L232.6 67.7 L234.2 67.7 L235.4 66.6 L236.7 67.2 L237.9 66.3 L239.5 66.8 L240.0 65.1 L241.5 64.7 L243.4 63.2 L244.8 63.1 L245.8 62.1 L247.3 61.9 L248.2 60.8 L249.8 60.3 L250.7 58.7 L252.4 59.0 L253.7 57.9 L255.6 58.3 L256.2 57.3" stroke-width="1.25"/>
<path d="M251.0 92.5 L248.8 93.7 L247.4 92.7 L245.3 91.9 L246.1 90.7 L245.0 90.1 L245.2 88.8 L246.8 87.7 L248.6 87.7" stroke-width="1.25"/>
<path d="M268.8 80.9 L267.4 81.9 L265.8 81.3 L264.3 82.4 L262.7 81.6 L261.4 82.6 L259.9 81.6 L258.7 82.8 L257.1 81.9 L256.1 83.4 L254.6 82.6 L253.6 83.8 L251.8 83.3 L250.5 84.6 L249.3 83.6 L248.1 84.8 L246.8 83.7 L245.8 85.1 L244.1 84.6 L242.7 85.2" stroke-width="1.25"/>
<path d="M93.8 147.2 L93.6 145.6 L95.0 145.9 L96.1 145.0 L97.5 145.5 L98.7 144.4 L100.2 144.9 L101.5 144.1 L102.5 144.7 L104.4 145.6 L106.6 145.6 L108.2 145.1 L109.6 145.8 L110.9 145.5" stroke-width="1.25"/>
<path d="M69.4 176.6 L69.8 174.3 L71.3 174.7 L72.4 173.7 L73.7 173.8" stroke-width="1.25"/>
<path d="M237.1 93.7 L237.5 92.1 L239.3 92.2 L240.9 91.2 L242.0 92.2 L243.4 91.6 L244.4 91.8 L243.1 93.5 L240.7 93.4 L239.8 94.8 L238.8 95.2 L238.5 94.3 L236.8 93.4" stroke-width="1.25"/>
<path d="M238.2 90.3 L239.3 89.2 L240.7 89.3 L242.2 89.2 L243.1 89.7 L242.2 91.1 L240.9 91.0 L239.4 91.0 L238.1 90.1" stroke-width="1.25"/>
<path d="M226.4 194.1 L228.5 194.4 L229.2 196.9 L231.0 197.3 L232.7 197.7 L231.4 197.9 L231.2 199.6 L232.3 200.3 L234.1 201.5 L235.3 200.7 L236.7 201.1 L238.2 200.0 L239.6 200.9 L241.3 200.7 L242.3 201.9 L243.5 202.5" stroke-width="1.25"/>
<path d="M242.4 188.7 L242.5 189.5 L242.9 190.8 L244.2 191.2 L245.2 192.8 L247.0 190.7 L248.8 192.1 L248.0 189.9 L249.0 191.4 L250.4 191.5 L249.7 190.3 L248.0 190.3 L247.8 188.9 L248.9 187.4 L250.5 187.6 L252.1 186.5 L253.7 187.4 L255.4 186.6 L256.8 187.7 L258.7 187.0 L259.4 188.1" stroke-width="1.25"/>
<path d="M275.3 186.9 L276.7 186.6 L277.7 187.7 L279.1 187.0 L280.1 187.7 L278.8 188.4 L277.3 187.8 L276.8 188.8 L275.4 188.3 L274.4 188.6 L276.0 189.2 L274.7 190.4 L273.4 189.5 L272.2 190.3 L271.0 189.7 L269.5 190.4 L269.1 189.1 L267.7 190.0 L266.1 189.5 L264.6 190.3 L262.8 189.9 L261.6 191.6 L260.0 191.9 L260.1 193.5 L259.5 194.8" stroke-width="1.25"/>
<g fill="#000" stroke-width="0.7"><ellipse cx="245.4" cy="196.5" rx="0.8" ry="0.6"/><ellipse cx="246.7" cy="196.7" rx="0.9" ry="0.6"/><ellipse cx="247.8" cy="196.3" rx="0.7" ry="0.6"/><ellipse cx="251.3" cy="198.1" rx="1.1" ry="1.3"/><ellipse cx="252.9" cy="203.6" rx="1.5" ry="1.0"/><ellipse cx="254.6" cy="204.9" rx="1.0" ry="0.8"/><ellipse cx="255.8" cy="205.7" rx="0.7" ry="0.6"/><ellipse cx="253.2" cy="205.8" rx="0.7" ry="0.7"/><ellipse cx="250.1" cy="204.8" rx="0.7" ry="0.8"/><ellipse cx="250.6" cy="206.0" rx="0.6" ry="0.8"/><ellipse cx="251.1" cy="207.4" rx="0.6" ry="0.6"/><ellipse cx="252.1" cy="208.3" rx="0.6" ry="0.7"/><ellipse cx="250.6" cy="209.8" rx="0.9" ry="0.7"/><ellipse cx="254.7" cy="207.9" rx="0.9" ry="0.9"/><ellipse cx="256.4" cy="207.9" rx="1.0" ry="1.2"/><ellipse cx="255.5" cy="209.7" rx="0.6" ry="0.7"/><ellipse cx="258.6" cy="209.1" rx="1.1" ry="0.6"/><ellipse cx="256.1" cy="211.4" rx="0.7" ry="0.7"/><ellipse cx="257.9" cy="211.6" rx="0.5" ry="0.4"/><ellipse cx="261.0" cy="210.6" rx="0.9" ry="0.5"/><ellipse cx="259.9" cy="204.9" rx="1.3" ry="0.6"/><ellipse cx="263.5" cy="204.2" rx="1.4" ry="0.7"/><ellipse cx="262.1" cy="206.4" rx="0.5" ry="0.5"/><ellipse cx="263.7" cy="207.4" rx="0.5" ry="0.6"/><ellipse cx="264.4" cy="208.2" rx="0.6" ry="0.6"/><ellipse cx="265.1" cy="209.1" rx="1.3" ry="0.6"/><ellipse cx="265.4" cy="210.4" rx="0.5" ry="0.5"/><ellipse cx="266.4" cy="211.2" rx="0.5" ry="0.5"/><ellipse cx="269.0" cy="210.3" rx="0.5" ry="0.5"/><ellipse cx="269.9" cy="212.5" rx="1.3" ry="1.9"/><ellipse cx="265.3" cy="215.7" rx="0.6" ry="1.5"/><ellipse cx="264.0" cy="216.8" rx="0.6" ry="0.4"/><ellipse cx="259.4" cy="200.6" rx="1.0" ry="1.7"/><ellipse cx="256.9" cy="199.7" rx="0.5" ry="0.4"/><ellipse cx="260.5" cy="196.3" rx="2.0" ry="1.3"/><ellipse cx="255.1" cy="192.5" rx="1.3" ry="1.0"/><ellipse cx="253.8" cy="194.6" rx="0.4" ry="0.4"/><ellipse cx="257.0" cy="189.5" rx="0.8" ry="0.6"/><ellipse cx="251.9" cy="188.2" rx="0.9" ry="0.9"/><ellipse cx="258.3" cy="191.1" rx="1.0" ry="0.6"/><ellipse cx="259.4" cy="192.9" rx="0.5" ry="0.5"/><ellipse cx="242.9" cy="212.2" rx="0.7" ry="1.0"/><ellipse cx="244.6" cy="214.3" rx="0.4" ry="0.4"/><ellipse cx="245.7" cy="204.2" rx="0.6" ry="0.6"/><ellipse cx="245.5" cy="206.4" rx="0.8" ry="0.4"/><ellipse cx="243.8" cy="206.8" rx="0.4" ry="0.4"/><ellipse cx="230.3" cy="198.9" rx="0.7" ry="1.2"/><ellipse cx="229.8" cy="201.4" rx="1.2" ry="1.4"/><ellipse cx="230.6" cy="200.6" rx="0.4" ry="0.8"/><ellipse cx="231.1" cy="204.0" rx="0.9" ry="0.8"/><ellipse cx="226.0" cy="194.2" rx="1.0" ry="1.6"/><ellipse cx="227.9" cy="196.3" rx="0.4" ry="0.4"/><ellipse cx="197.7" cy="164.7" rx="0.9" ry="1.0"/><ellipse cx="196.6" cy="165.9" rx="0.7" ry="1.8"/><ellipse cx="198.5" cy="166.3" rx="0.6" ry="0.6"/><ellipse cx="199.8" cy="167.7" rx="0.7" ry="1.4"/><ellipse cx="199.8" cy="170.4" rx="0.6" ry="1.5"/><ellipse cx="208.7" cy="174.1" rx="1.4" ry="0.6"/><ellipse cx="209.0" cy="175.0" rx="1.8" ry="0.5"/><ellipse cx="210.1" cy="176.1" rx="1.4" ry="0.5"/><ellipse cx="206.0" cy="175.6" rx="0.6" ry="0.5"/><ellipse cx="213.6" cy="177.2" rx="1.2" ry="0.4"/><ellipse cx="85.0" cy="98.8" rx="1.6" ry="1.6"/><ellipse cx="82.9" cy="94.2" rx="1.6" ry="2.2"/><ellipse cx="79.7" cy="98.5" rx="1.0" ry="2.2"/><ellipse cx="86.7" cy="103.4" rx="1.4" ry="1.0"/><ellipse cx="85.6" cy="107.1" rx="1.0" ry="1.0"/><ellipse cx="90.7" cy="108.0" rx="0.7" ry="1.0"/><ellipse cx="84.0" cy="100.7" rx="0.6" ry="0.5"/><ellipse cx="85.0" cy="105.5" rx="0.5" ry="0.6"/><ellipse cx="78.6" cy="100.5" rx="0.5" ry="0.5"/><ellipse cx="82.1" cy="72.9" rx="1.8" ry="1.5"/><ellipse cx="81.8" cy="75.6" rx="0.6" ry="0.6"/><ellipse cx="102.3" cy="89.6" rx="1.3" ry="1.0"/><ellipse cx="104.4" cy="88.3" rx="0.8" ry="0.6"/><ellipse cx="112.3" cy="82.6" rx="1.3" ry="2.4"/><ellipse cx="113.9" cy="80.7" rx="0.6" ry="0.9"/><ellipse cx="145.9" cy="84.2" rx="0.8" ry="1.3"/><ellipse cx="145.4" cy="81.5" rx="0.7" ry="1.2"/><ellipse cx="144.9" cy="78.8" rx="0.7" ry="0.8"/><ellipse cx="145.9" cy="74.5" rx="0.8" ry="0.8"/><ellipse cx="149.2" cy="71.8" rx="0.9" ry="0.6"/><ellipse cx="154.0" cy="69.4" rx="1.0" ry="0.6"/><ellipse cx="162.1" cy="65.9" rx="1.2" ry="0.7"/><ellipse cx="166.4" cy="65.1" rx="1.6" ry="0.8"/><ellipse cx="165.4" cy="63.5" rx="1.2" ry="0.6"/><ellipse cx="178.3" cy="57.8" rx="0.8" ry="0.8"/><ellipse cx="182.6" cy="55.7" rx="0.7" ry="0.8"/><ellipse cx="184.8" cy="52.4" rx="0.8" ry="1.0"/><ellipse cx="186.9" cy="49.2" rx="0.9" ry="0.9"/><ellipse cx="190.7" cy="47.0" rx="0.8" ry="0.8"/><ellipse cx="192.8" cy="44.3" rx="0.7" ry="0.7"/><ellipse cx="183.7" cy="44.1" rx="0.5" ry="0.4"/><ellipse cx="190.1" cy="41.4" rx="1.3" ry="0.8"/><ellipse cx="193.9" cy="40.0" rx="1.6" ry="0.9"/><ellipse cx="198.2" cy="39.2" rx="1.7" ry="1.0"/><ellipse cx="200.4" cy="36.5" rx="1.7" ry="1.8"/><ellipse cx="204.7" cy="37.1" rx="1.8" ry="1.6"/><ellipse cx="205.8" cy="34.6" rx="1.0" ry="0.9"/><ellipse cx="212.8" cy="33.8" rx="2.2" ry="1.3"/><ellipse cx="218.7" cy="31.4" rx="1.6" ry="1.0"/><ellipse cx="221.4" cy="30.1" rx="1.3" ry="0.7"/><ellipse cx="226.8" cy="29.3" rx="1.2" ry="0.7"/><ellipse cx="230.6" cy="29.0" rx="0.9" ry="0.6"/><ellipse cx="238.7" cy="28.2" rx="1.2" ry="0.7"/><ellipse cx="242.4" cy="27.1" rx="1.8" ry="0.8"/><ellipse cx="247.8" cy="26.6" rx="1.0" ry="0.7"/><ellipse cx="248.9" cy="24.9" rx="0.8" ry="0.5"/><ellipse cx="257.5" cy="24.7" rx="1.6" ry="0.7"/><ellipse cx="176.1" cy="106.3" rx="0.6" ry="0.8"/><ellipse cx="176.7" cy="111.7" rx="0.8" ry="0.7"/><ellipse cx="175.6" cy="111.4" rx="0.4" ry="0.4"/><ellipse cx="185.3" cy="111.2" rx="0.8" ry="0.6"/><ellipse cx="181.5" cy="102.0" rx="0.6" ry="0.5"/><ellipse cx="178.0" cy="98.9" rx="0.5" ry="0.4"/><ellipse cx="164.8" cy="108.7" rx="0.3" ry="0.5"/><ellipse cx="236.0" cy="83.1" rx="1.3" ry="0.9"/><ellipse cx="233.3" cy="82.6" rx="1.0" ry="0.8"/><ellipse cx="231.1" cy="83.7" rx="0.8" ry="0.6"/><ellipse cx="239.2" cy="84.2" rx="1.2" ry="0.7"/><ellipse cx="226.8" cy="82.9" rx="2.0" ry="1.4"/><ellipse cx="233.8" cy="81.3" rx="0.7" ry="0.6"/><ellipse cx="232.7" cy="66.7" rx="0.8" ry="0.6"/><ellipse cx="232.2" cy="65.9" rx="0.5" ry="0.4"/><ellipse cx="252.1" cy="57.0" rx="0.6" ry="0.5"/><ellipse cx="219.8" cy="86.9" rx="0.7" ry="0.8"/><ellipse cx="220.9" cy="88.5" rx="0.6" ry="0.7"/><ellipse cx="219.3" cy="89.6" rx="0.5" ry="0.5"/><ellipse cx="213.9" cy="91.2" rx="0.5" ry="0.4"/><ellipse cx="222.5" cy="95.3" rx="0.4" ry="0.4"/><ellipse cx="244.0" cy="91.8" rx="0.6" ry="0.5"/><ellipse cx="244.9" cy="89.6" rx="0.4" ry="0.4"/><ellipse cx="174.5" cy="177.0" rx="1.0" ry="0.5"/><ellipse cx="183.7" cy="209.4" rx="0.4" ry="0.3"/><ellipse cx="199.6" cy="200.1" rx="0.4" ry="0.3"/><ellipse cx="195.8" cy="213.3" rx="0.4" ry="0.3"/><ellipse cx="126.8" cy="199.0" rx="0.4" ry="0.3"/><ellipse cx="134.9" cy="196.6" rx="0.3" ry="0.2"/><ellipse cx="106.6" cy="141.1" rx="0.4" ry="0.3"/><ellipse cx="107.4" cy="142.4" rx="0.5" ry="0.3"/><ellipse cx="105.3" cy="141.1" rx="0.3" ry="0.3"/><ellipse cx="101.8" cy="152.5" rx="0.5" ry="0.3"/><ellipse cx="112.0" cy="158.6" rx="0.5" ry="0.3"/><ellipse cx="112.0" cy="160.0" rx="0.5" ry="0.4"/><ellipse cx="106.9" cy="155.9" rx="0.3" ry="0.3"/><ellipse cx="91.5" cy="146.5" rx="0.3" ry="0.2"/><ellipse cx="85.0" cy="138.5" rx="0.3" ry="0.2"/><ellipse cx="145.1" cy="121.4" rx="0.4" ry="0.6"/><ellipse cx="147.6" cy="119.8" rx="0.8" ry="0.3"/><ellipse cx="150.3" cy="119.5" rx="0.5" ry="0.3"/><ellipse cx="164.0" cy="111.7" rx="0.3" ry="0.7"/><ellipse cx="164.8" cy="112.8" rx="0.4" ry="0.4"/><ellipse cx="164.3" cy="110.4" rx="0.3" ry="0.4"/><path d="M85.6 95.0 L90.4 94.2 L92.0 97.2 L92.3 100.4 L94.2 103.1 L94.5 106.3 L92.0 108.7 L88.3 109.0 L87.2 106.3 L84.5 104.2 L83.4 102.5 L86.1 100.4 L82.9 98.8 L84.0 96.6Z"/><path d="M80.2 96.3 L82.3 93.4 L85.6 92.0 L86.4 93.9 L84.0 95.8Z"/><path d="M78.0 100.9 L78.8 96.9 L81.3 96.9 L80.5 100.4Z"/><path d="M242.7 197.7 L245.1 197.1 L247.8 198.7 L250.0 200.4 L251.6 202.0 L251.6 203.0 L249.4 201.7 L246.7 200.4 L244.6 199.3Z"/><path d="M242.7 195.0 L244.0 194.7 L245.1 196.3 L243.8 197.5 L243.2 196.3Z"/><path d="M244.6 190.9 L245.4 192.3 L247.0 191.2 L248.1 192.3 L248.6 190.4 L250.5 191.3 L248.9 189.6 L246.7 189.8Z"/><path d="M245.9 203.0 L247.0 202.5 L248.9 204.7 L247.8 204.4Z"/></g>
<g fill="#fff" stroke="none"><circle cx="88.8" cy="97.4" r="0.5"/><circle cx="89.4" cy="101.7" r="0.5"/><circle cx="90.7" cy="105.2" r="0.5"/><circle cx="85.6" cy="98.0" r="0.4"/><circle cx="87.2" cy="103.1" r="0.4"/><circle cx="91.2" cy="100.1" r="0.4"/></g></g>
</g>
<rect x="49.30" y="19.20" width="253.00" height="204.80" fill="none" stroke="#4a4a4a" stroke-width="0.9"/>
<g clip-path="url(#cp)" transform="translate(259.20,0)">
<g><rect x="223.24" y="84.07" width="5.57" height="5.89" fill="#D1ECC7"/>
<rect x="228.51" y="84.07" width="5.57" height="5.89" fill="#A3E2F6"/>
<rect x="202.15" y="89.46" width="5.57" height="5.89" fill="#F9C24C"/>
<rect x="228.51" y="89.46" width="5.57" height="5.89" fill="#D1ECC7"/>
<rect x="175.80" y="94.85" width="10.84" height="5.89" fill="#F9C24C"/>
<rect x="196.88" y="94.85" width="10.84" height="5.89" fill="#F9C24C"/>
<rect x="138.90" y="100.24" width="58.28" height="5.89" fill="#F9C24C"/>
<rect x="196.88" y="100.24" width="5.57" height="5.89" fill="#FF7F12"/>
<rect x="202.15" y="100.24" width="5.57" height="5.89" fill="#F9C24C"/>
<rect x="133.63" y="105.62" width="37.20" height="5.89" fill="#FF7F12"/>
<rect x="170.53" y="105.62" width="26.65" height="5.89" fill="#F9C24C"/>
<rect x="196.88" y="105.62" width="10.84" height="5.89" fill="#FF7F12"/>
<rect x="207.43" y="105.62" width="10.84" height="5.89" fill="#F9C24C"/>
<rect x="249.59" y="105.62" width="10.84" height="5.89" fill="#D1ECC7"/>
<rect x="128.36" y="111.01" width="31.93" height="5.89" fill="#FF7F12"/>
<rect x="159.99" y="111.01" width="5.57" height="5.89" fill="#F9C24C"/>
<rect x="165.26" y="111.01" width="5.57" height="5.89" fill="#FF7F12"/>
<rect x="170.53" y="111.01" width="26.65" height="5.89" fill="#F9C24C"/>
<rect x="196.88" y="111.01" width="5.57" height="5.89" fill="#FF7F12"/>
<rect x="202.15" y="111.01" width="10.84" height="5.89" fill="#F9C24C"/>
<rect x="212.70" y="111.01" width="5.57" height="5.89" fill="#D1ECC7"/>
<rect x="217.97" y="111.01" width="26.65" height="5.89" fill="#F9C24C"/>
<rect x="244.32" y="111.01" width="10.84" height="5.89" fill="#D1ECC7"/>
<rect x="254.86" y="111.01" width="5.57" height="5.89" fill="#F9C24C"/>
<rect x="128.36" y="116.40" width="5.57" height="5.89" fill="#F63B2C"/>
<rect x="133.63" y="116.40" width="47.74" height="5.89" fill="#FF7F12"/>
<rect x="181.07" y="116.40" width="10.84" height="5.89" fill="#F9C24C"/>
<rect x="191.61" y="116.40" width="10.84" height="5.89" fill="#FF7F12"/>
<rect x="202.15" y="116.40" width="42.47" height="5.89" fill="#F9C24C"/>
<rect x="244.32" y="116.40" width="26.65" height="5.89" fill="#D1ECC7"/>
<rect x="112.55" y="121.79" width="10.84" height="5.89" fill="#F63B2C"/>
<rect x="123.09" y="121.79" width="5.57" height="5.89" fill="#FF7F12"/>
<rect x="128.36" y="121.79" width="5.57" height="5.89" fill="#F63B2C"/>
<rect x="133.63" y="121.79" width="10.84" height="5.89" fill="#FF7F12"/>
<rect x="144.18" y="121.79" width="21.38" height="5.89" fill="#F63B2C"/>
<rect x="165.26" y="121.79" width="47.74" height="5.89" fill="#FF7F12"/>
<rect x="212.70" y="121.79" width="5.57" height="5.89" fill="#F9C24C"/>
<rect x="217.97" y="121.79" width="5.57" height="5.89" fill="#FF7F12"/>
<rect x="223.24" y="121.79" width="21.38" height="5.89" fill="#F9C24C"/>
<rect x="244.32" y="121.79" width="21.38" height="5.89" fill="#D1ECC7"/>
<rect x="107.28" y="127.18" width="53.01" height="5.89" fill="#F63B2C"/>
<rect x="159.99" y="127.18" width="63.55" height="5.89" fill="#FF7F12"/>
<rect x="223.24" y="127.18" width="21.38" height="5.89" fill="#F9C24C"/>
<rect x="244.32" y="127.18" width="21.38" height="5.89" fill="#D1ECC7"/>
<rect x="102.01" y="132.57" width="5.57" height="5.89" fill="#F63B2C"/>
<rect x="112.55" y="132.57" width="26.65" height="5.89" fill="#F63B2C"/>
<rect x="138.90" y="132.57" width="5.57" height="5.89" fill="#FF7F12"/>
<rect x="144.18" y="132.57" width="16.11" height="5.89" fill="#F63B2C"/>
<rect x="159.99" y="132.57" width="63.55" height="5.89" fill="#FF7F12"/>
<rect x="223.24" y="132.57" width="16.11" height="5.89" fill="#F9C24C"/>
<rect x="239.05" y="132.57" width="26.65" height="5.89" fill="#D1ECC7"/>
<rect x="107.28" y="137.96" width="31.93" height="5.89" fill="#FF7F12"/>
<rect x="138.90" y="137.96" width="5.57" height="5.89" fill="#F63B2C"/>
<rect x="144.18" y="137.96" width="5.57" height="5.89" fill="#FF7F12"/>
<rect x="149.45" y="137.96" width="10.84" height="5.89" fill="#F63B2C"/>
<rect x="159.99" y="137.96" width="5.57" height="5.89" fill="#FF7F12"/>
<rect x="165.26" y="137.96" width="16.11" height="5.89" fill="#F63B2C"/>
<rect x="181.07" y="137.96" width="37.20" height="5.89" fill="#FF7F12"/>
<rect x="217.97" y="137.96" width="16.11" height="5.89" fill="#F9C24C"/>
<rect x="233.78" y="137.96" width="31.93" height="5.89" fill="#D1ECC7"/>
<rect x="96.74" y="143.35" width="16.11" height="5.89" fill="#FF7F12"/>
<rect x="112.55" y="143.35" width="10.84" height="5.89" fill="#F63B2C"/>
<rect x="123.09" y="143.35" width="89.90" height="5.89" fill="#FF7F12"/>
<rect x="212.70" y="143.35" width="21.38" height="5.89" fill="#F9C24C"/>
<rect x="233.78" y="143.35" width="26.65" height="5.89" fill="#D1ECC7"/>
<rect x="260.13" y="143.35" width="5.57" height="5.89" fill="#A3E2F6"/>
<rect x="91.47" y="148.74" width="5.57" height="5.89" fill="#F9C24C"/>
<rect x="96.74" y="148.74" width="95.17" height="5.89" fill="#FF7F12"/>
<rect x="191.61" y="148.74" width="10.84" height="5.89" fill="#F9C24C"/>
<rect x="202.15" y="148.74" width="5.57" height="5.89" fill="#FF7F12"/>
<rect x="207.43" y="148.74" width="5.57" height="5.89" fill="#F9C24C"/>
<rect x="212.70" y="148.74" width="5.57" height="5.89" fill="#FF7F12"/>
<rect x="217.97" y="148.74" width="16.11" height="5.89" fill="#F9C24C"/>
<rect x="233.78" y="148.74" width="37.20" height="5.89" fill="#D1ECC7"/>
<rect x="91.47" y="154.12" width="31.93" height="5.89" fill="#FF7F12"/>
<rect x="123.09" y="154.12" width="5.57" height="5.89" fill="#F9C24C"/>
<rect x="128.36" y="154.12" width="10.84" height="5.89" fill="#FF7F12"/>
<rect x="138.90" y="154.12" width="5.57" height="5.89" fill="#F9C24C"/>
<rect x="144.18" y="154.12" width="37.20" height="5.89" fill="#FF7F12"/>
<rect x="181.07" y="154.12" width="42.47" height="5.89" fill="#F9C24C"/>
<rect x="223.24" y="154.12" width="5.57" height="5.89" fill="#D1ECC7"/>
<rect x="228.51" y="154.12" width="21.38" height="5.89" fill="#F9C24C"/>
<rect x="91.47" y="159.51" width="5.57" height="5.89" fill="#FF7F12"/>
<rect x="96.74" y="159.51" width="5.57" height="5.89" fill="#F9C24C"/>
<rect x="102.01" y="159.51" width="10.84" height="5.89" fill="#FF7F12"/>
<rect x="112.55" y="159.51" width="5.57" height="5.89" fill="#F9C24C"/>
<rect x="117.82" y="159.51" width="5.57" height="5.89" fill="#FF7F12"/>
<rect x="123.09" y="159.51" width="21.38" height="5.89" fill="#F9C24C"/>
<rect x="144.18" y="159.51" width="5.57" height="5.89" fill="#FF7F12"/>
<rect x="149.45" y="159.51" width="10.84" height="5.89" fill="#F9C24C"/>
<rect x="159.99" y="159.51" width="5.57" height="5.89" fill="#FF7F12"/>
<rect x="165.26" y="159.51" width="10.84" height="5.89" fill="#F9C24C"/>
<rect x="175.80" y="159.51" width="10.84" height="5.89" fill="#D1ECC7"/>
<rect x="186.34" y="159.51" width="21.38" height="5.89" fill="#F9C24C"/>
<rect x="207.43" y="159.51" width="5.57" height="5.89" fill="#D1ECC7"/>
<rect x="212.70" y="159.51" width="26.65" height="5.89" fill="#F9C24C"/>
<rect x="239.05" y="159.51" width="5.57" height="5.89" fill="#FF7F12"/>
<rect x="244.32" y="159.51" width="5.57" height="5.89" fill="#F63B2C"/>
<rect x="249.59" y="159.51" width="5.57" height="5.89" fill="#FF7F12"/>
<rect x="91.47" y="164.90" width="10.84" height="5.89" fill="#F9C24C"/>
<rect x="102.01" y="164.90" width="5.57" height="5.89" fill="#FF7F12"/>
<rect x="107.28" y="164.90" width="53.01" height="5.89" fill="#F9C24C"/>
<rect x="159.99" y="164.90" width="26.65" height="5.89" fill="#D1ECC7"/>
<rect x="186.34" y="164.90" width="10.84" height="5.89" fill="#FF7F12"/>
<rect x="196.88" y="164.90" width="5.57" height="5.89" fill="#F9C24C"/>
<rect x="202.15" y="164.90" width="21.38" height="5.89" fill="#D1ECC7"/>
<rect x="223.24" y="164.90" width="26.65" height="5.89" fill="#F9C24C"/>
<rect x="65.11" y="170.29" width="5.57" height="5.89" fill="#D1ECC7"/>
<rect x="91.47" y="170.29" width="31.93" height="5.89" fill="#F9C24C"/>
<rect x="123.09" y="170.29" width="16.11" height="5.89" fill="#FF7F12"/>
<rect x="138.90" y="170.29" width="31.93" height="5.89" fill="#D1ECC7"/>
<rect x="170.53" y="170.29" width="5.57" height="5.89" fill="#A3E2F6"/>
<rect x="175.80" y="170.29" width="10.84" height="5.89" fill="#D1ECC7"/>
<rect x="186.34" y="170.29" width="5.57" height="5.89" fill="#A3E2F6"/>
<rect x="196.88" y="170.29" width="10.84" height="5.89" fill="#D1ECC7"/>
<rect x="207.43" y="170.29" width="16.11" height="5.89" fill="#F9C24C"/>
<rect x="223.24" y="170.29" width="10.84" height="5.89" fill="#FF7F12"/>
<rect x="233.78" y="170.29" width="26.65" height="5.89" fill="#F9C24C"/>
<rect x="260.13" y="170.29" width="5.57" height="5.89" fill="#D1ECC7"/>
<rect x="265.40" y="170.29" width="5.57" height="5.89" fill="#F9C24C"/>
<rect x="65.11" y="175.68" width="5.57" height="5.89" fill="#F9C24C"/>
<rect x="70.38" y="175.68" width="10.84" height="5.89" fill="#D1ECC7"/>
<rect x="80.92" y="175.68" width="10.84" height="5.89" fill="#F9C24C"/>
<rect x="91.47" y="175.68" width="37.20" height="5.89" fill="#D1ECC7"/>
<rect x="154.72" y="175.68" width="10.84" height="5.89" fill="#D1ECC7"/>
<rect x="165.26" y="175.68" width="5.57" height="5.89" fill="#A3E2F6"/>
<rect x="170.53" y="175.68" width="16.11" height="5.89" fill="#D1ECC7"/>
<rect x="186.34" y="175.68" width="10.84" height="5.89" fill="#A3E2F6"/>
<rect x="196.88" y="175.68" width="5.57" height="5.89" fill="#D1ECC7"/>
<rect x="202.15" y="175.68" width="5.57" height="5.89" fill="#A3E2F6"/>
<rect x="207.43" y="175.68" width="5.57" height="5.89" fill="#D1ECC7"/>
<rect x="212.70" y="175.68" width="5.57" height="5.89" fill="#F9C24C"/>
<rect x="217.97" y="175.68" width="5.57" height="5.89" fill="#FF7F12"/>
<rect x="223.24" y="175.68" width="5.57" height="5.89" fill="#F63B2C"/>
<rect x="228.51" y="175.68" width="5.57" height="5.89" fill="#FF7F12"/>
<rect x="233.78" y="175.68" width="10.84" height="5.89" fill="#F9C24C"/>
<rect x="244.32" y="175.68" width="5.57" height="5.89" fill="#FF7F12"/>
<rect x="249.59" y="175.68" width="5.57" height="5.89" fill="#F9C24C"/>
<rect x="254.86" y="175.68" width="5.57" height="5.89" fill="#D1ECC7"/>
<rect x="260.13" y="175.68" width="5.57" height="5.89" fill="#F9C24C"/>
<rect x="70.38" y="181.07" width="10.84" height="5.89" fill="#F9C24C"/>
<rect x="80.92" y="181.07" width="16.11" height="5.89" fill="#D1ECC7"/>
<rect x="96.74" y="181.07" width="10.84" height="5.89" fill="#A3E2F6"/>
<rect x="107.28" y="181.07" width="10.84" height="5.89" fill="#D1ECC7"/>
<rect x="117.82" y="181.07" width="16.11" height="5.89" fill="#A3E2F6"/>
<rect x="154.72" y="181.07" width="10.84" height="5.89" fill="#D1ECC7"/>
<rect x="207.43" y="181.07" width="5.57" height="5.89" fill="#5BAAF3"/>
<rect x="212.70" y="181.07" width="5.57" height="5.89" fill="#A3E2F6"/>
<rect x="217.97" y="181.07" width="5.57" height="5.89" fill="#FF7F12"/>
<rect x="223.24" y="181.07" width="5.57" height="5.89" fill="#F63B2C"/>
<rect x="228.51" y="181.07" width="5.57" height="5.89" fill="#FF7F12"/>
<rect x="233.78" y="181.07" width="5.57" height="5.89" fill="#F9C24C"/>
<rect x="239.05" y="181.07" width="10.84" height="5.89" fill="#FF7F12"/>
<rect x="260.13" y="181.07" width="10.84" height="5.89" fill="#F9C24C"/>
<rect x="70.38" y="186.46" width="10.84" height="5.89" fill="#F9C24C"/>
<rect x="80.92" y="186.46" width="16.11" height="5.89" fill="#D1ECC7"/>
<rect x="96.74" y="186.46" width="31.93" height="5.89" fill="#A3E2F6"/>
<rect x="154.72" y="186.46" width="10.84" height="5.89" fill="#D1ECC7"/>
<rect x="217.97" y="186.46" width="5.57" height="5.89" fill="#F9C24C"/>
<rect x="223.24" y="186.46" width="5.57" height="5.89" fill="#FF7F12"/>
<rect x="228.51" y="186.46" width="5.57" height="5.89" fill="#F9C24C"/>
<rect x="233.78" y="186.46" width="5.57" height="5.89" fill="#FF7F12"/>
<rect x="239.05" y="186.46" width="5.57" height="5.89" fill="#F9C24C"/>
<rect x="65.11" y="191.85" width="16.11" height="5.89" fill="#F9C24C"/>
<rect x="80.92" y="191.85" width="10.84" height="5.89" fill="#D1ECC7"/>
<rect x="91.47" y="191.85" width="5.57" height="5.89" fill="#A3E2F6"/>
<rect x="96.74" y="191.85" width="5.57" height="5.89" fill="#D1ECC7"/>
<rect x="102.01" y="191.85" width="26.65" height="5.89" fill="#A3E2F6"/>
<rect x="217.97" y="191.85" width="5.57" height="5.89" fill="#D1ECC7"/>
<rect x="223.24" y="191.85" width="16.11" height="5.89" fill="#F9C24C"/>
<rect x="239.05" y="191.85" width="5.57" height="5.89" fill="#D1ECC7"/>
<rect x="65.11" y="197.24" width="10.84" height="5.89" fill="#F9C24C"/>
<rect x="75.65" y="197.24" width="26.65" height="5.89" fill="#D1ECC7"/>
<rect x="102.01" y="197.24" width="16.11" height="5.89" fill="#A3E2F6"/>
<rect x="212.70" y="197.24" width="5.57" height="5.89" fill="#A3E2F6"/>
<rect x="228.51" y="197.24" width="5.57" height="5.89" fill="#F9C24C"/>
<rect x="70.38" y="202.63" width="21.38" height="5.89" fill="#D1ECC7"/>
<rect x="91.47" y="202.63" width="21.38" height="5.89" fill="#A3E2F6"/>
<rect x="112.55" y="202.63" width="5.57" height="5.89" fill="#D1ECC7"/>
<rect x="75.65" y="208.02" width="31.93" height="5.89" fill="#A3E2F6"/></g>
<g fill="none" stroke="#000" stroke-width="1.5" stroke-linejoin="round" stroke-linecap="round"><path d="M136.1 178.9 L136.8 179.6 L136.2 181.8 L134.1 183.1 L130.9 184.6 L125.5 186.2 L123.9 188.1 L122.2 189.0 L119.0 192.0 L117.4 194.7 L117.9 197.4 L120.1 198.7 L118.5 200.1 L116.3 201.2 L115.5 203.0 L115.1 204.8 L113.6 205.0 L110.4 206.6 L108.8 208.4 L107.1 209.7 L105.0 209.2 L102.8 209.7 L100.1 209.8 L95.3 209.8 L92.6 210.9 L90.4 212.5 L90.2 212.9 L88.8 213.6 L86.4 212.5 L85.0 210.9 L84.5 209.2 L81.8 207.2 L79.1 207.1 L76.4 208.2 L72.6 207.6 L70.5 208.2 L71.6 205.5 L71.3 203.0 L71.8 200.6 L69.4 200.5 L70.0 199.0 L67.8 198.6 L68.3 195.5 L70.2 193.9 L71.0 191.2 L72.0 188.5 L72.1 185.8 L71.2 181.9 L71.3 180.1 L70.2 178.3 L69.0 176.4 L70.0 174.8 L73.7 173.8 L75.9 172.1 L77.5 171.6 L81.3 172.9 L85.0 172.8 L87.5 172.3 L91.0 173.2 L94.7 173.7 L98.5 173.3 L102.8 173.9 L108.2 174.1 L109.4 173.8 L110.9 172.9 L112.0 169.4 L112.5 166.9 L112.8 165.1 L113.1 162.1 L115.0 164.5 L113.9 161.8 L112.5 160.7 L112.8 158.9 L110.9 157.8 L109.3 157.0 L107.4 155.1 L108.2 153.7 L107.1 152.8 L105.3 152.4 L105.0 151.5 L102.3 151.3 L100.7 150.5 L96.9 149.7 L95.4 150.0 L93.5 148.7 L95.8 148.1 L94.7 147.0 L93.3 147.1 L93.7 145.8 L97.4 145.0 L100.1 144.4 L102.8 144.3 L104.4 145.9 L106.6 145.4 L108.2 145.4 L110.9 145.5 L110.4 144.4 L110.4 142.4 L109.0 140.8 L108.5 139.6 L110.4 140.0 L112.2 139.7 L112.0 140.8 L113.1 141.5 L117.7 142.0 L119.5 141.1 L119.5 140.8 L119.9 139.8 L122.2 138.9 L124.8 138.5 L127.6 137.0 L127.5 134.2 L127.5 133.4 L129.0 132.9 L131.8 132.5 L134.6 131.5 L136.2 130.9 L137.9 130.6 L141.6 130.7 L138.4 129.5 L140.0 128.4 L141.1 127.3 L143.3 125.2 L144.6 122.2 L145.9 122.3 L146.5 123.6 L146.2 125.2 L147.6 125.7 L149.2 125.2 L150.5 124.1 L149.2 122.8 L148.1 121.4 L148.1 121.0 L150.8 119.9 L152.4 119.8 L156.2 119.5 L157.8 120.3 L156.7 120.1 L157.0 118.7 L159.4 118.3 L162.1 118.2 L162.7 119.2 L163.7 119.5 L163.7 118.7 L165.1 119.0 L164.8 118.2 L165.9 117.3 L167.5 117.1 L169.7 118.2 L167.5 117.0 L166.7 115.9 L165.4 114.9 L167.5 113.9 L165.6 111.7 L165.6 110.1 L164.5 108.6 L162.6 108.1 L162.9 105.8 L162.8 103.6 L163.2 102.0 L165.4 99.7 L169.7 99.5 L172.6 97.2 L176.1 96.3 L175.9 98.0 L175.3 100.4 L172.9 100.4 L174.5 100.9 L174.5 102.5 L177.9 103.6 L176.7 105.0 L174.2 105.0 L174.0 106.6 L171.6 108.2 L170.2 108.5 L171.3 109.8 L170.2 110.9 L171.8 111.7 L169.9 112.2 L172.6 112.5 L172.9 113.9 L173.7 114.7 L176.7 114.7 L178.8 114.4 L177.2 116.3 L177.8 116.8 L180.7 117.0 L184.2 115.7 L186.4 114.1 L188.5 114.3 L189.6 114.9 L191.2 115.7 L193.1 115.7 L194.5 116.3 L195.8 117.0 L197.7 117.9 L196.1 117.1 L198.8 116.3 L202.8 115.6 L206.3 114.9 L209.8 113.4 L213.6 112.5 L217.6 112.1 L220.3 113.3 L218.4 112.5 L219.0 113.9 L219.5 114.7 L221.1 114.7 L223.6 114.5 L224.9 114.1 L226.3 113.1 L226.5 111.4 L229.5 111.4 L231.9 109.5 L232.7 107.4 L232.5 106.3 L232.2 103.1 L232.5 101.2 L235.2 98.2 L236.2 97.2 L240.8 96.3 L243.8 98.5 L244.6 100.1 L246.2 100.5 L248.6 100.1 L250.2 98.8 L250.2 95.7 L251.1 93.7 L251.1 93.0 L248.9 93.4 L247.0 93.1 L245.7 91.9 L245.7 90.7 L245.7 89.9 L245.1 88.5 L248.6 87.7 L252.4 87.2 L256.4 86.4 L258.1 86.4 L261.8 86.9 L265.6 87.2 L269.9 87.2 L270.5 85.6 L272.6 85.3 L275.3 84.5 L279.1 84.8 L281.8 84.6 L280.2 83.4 L275.3 83.1 L273.2 82.1 L274.0 80.4 L271.5 81.0 L268.8 81.3 L264.3 81.8 L261.3 82.1 L257.3 82.6 L253.5 83.3 L250.5 84.2 L245.7 84.5 L242.7 85.2 L244.0 84.0 L240.8 83.4 L238.9 81.8 L235.4 81.3 L234.3 79.9 L234.9 78.1 L234.9 76.1 L233.8 74.0 L234.1 72.0 L233.0 70.2 L232.7 68.1 L235.4 67.0 L239.2 66.4 L241.4 64.4 L243.5 63.5 L248.4 61.0 L250.8 59.0 L255.4 58.1 L256.2 57.3 L255.4 55.1 L251.3 53.2 L249.2 52.7 L246.7 53.1 L243.8 53.0 L239.7 53.2 L238.4 54.1 L234.9 55.7 L233.8 57.3 L233.5 58.9 L234.3 60.5 L231.1 62.7 L228.4 64.0 L225.2 65.4 L220.1 66.5 L217.6 68.6 L215.8 70.0 L212.5 71.3 L213.1 72.9 L211.4 75.0 L211.2 77.2 L211.7 79.1 L211.7 80.6 L213.9 80.7 L215.8 81.0 L218.2 82.3 L218.7 83.7 L220.3 85.5 L221.7 85.6 L218.2 87.2 L216.6 87.8 L219.3 88.3 L217.6 89.3 L215.8 90.1 L212.8 91.0 L210.6 91.0 L206.9 91.5 L210.1 92.0 L209.3 93.9 L208.7 96.3 L207.9 97.7 L207.7 98.9 L207.9 100.4 L207.2 102.2 L205.5 104.7 L203.1 105.0 L199.0 104.9 L197.4 105.5 L196.1 106.2 L195.5 107.4 L196.3 108.2 L193.4 108.8 L189.9 109.2 L188.1 109.1 L189.1 107.9 L188.5 106.9 L187.5 105.5 L186.1 104.2 L188.5 103.4 L188.3 102.2 L185.6 100.4 L184.2 98.5 L183.4 96.6 L181.8 95.0 L180.6 93.5 L179.4 92.0 L179.2 90.0 L178.8 89.1 L178.0 88.5 L176.4 87.3 L176.1 85.6 L176.9 84.8 L175.6 85.0 L175.6 86.6 L174.5 88.3 L173.2 89.4 L171.3 89.6 L169.7 90.3 L166.3 92.6 L164.3 93.7 L162.1 94.2 L159.4 94.9 L157.0 95.1 L154.8 93.7 L151.3 92.6 L148.9 91.1 L149.2 89.6 L150.8 89.6 L151.9 88.0 L149.7 88.0 L147.3 87.5 L147.6 85.6 L149.2 85.0 L151.3 83.7 L148.6 83.4 L147.6 82.1 L145.9 80.7 L145.9 78.8 L148.6 78.6 L154.0 78.0 L157.3 77.8 L151.3 77.5 L145.9 77.5 L145.9 75.6 L146.8 74.0 L146.8 72.4 L149.2 72.1 L152.1 70.9 L154.6 70.5 L157.5 69.4 L156.7 68.1 L160.8 67.5 L163.7 66.4 L166.4 65.4 L169.1 64.8 L171.6 64.6 L173.4 65.6 L175.1 65.7 L177.8 64.8 L179.9 63.2 L176.7 64.0 L172.9 64.0 L170.7 64.0 L172.9 62.1 L176.1 60.2 L181.0 60.1 L178.3 58.9 L179.6 58.0 L183.7 56.5 L184.8 54.7 L186.9 53.0 L186.9 51.9 L189.1 50.8 L195.0 50.3 L189.1 49.2 L191.8 47.0 L194.5 46.0 L196.6 45.0 L202.0 45.1 L198.8 43.0 L202.5 41.4 L206.9 41.1 L205.2 39.8 L212.8 38.8 L207.4 38.4 L207.9 36.8 L211.7 35.7 L214.9 34.9 L217.1 33.6 L221.1 32.2 L224.1 31.4 L227.9 33.6 L226.8 30.1 L232.2 30.3 L233.8 29.3 L237.6 29.3 L242.4 30.1 L244.3 30.5 L243.0 28.4 L246.7 26.8 L251.6 25.2 L255.4 26.0 L253.8 28.7 L257.5 27.4 L258.1 24.4 L262.4 25.5 L264.5 27.1 L268.3 24.4 L271.5 25.2 L272.6 27.6 L276.4 25.7 L281.8 26.8 L286.6 28.3 L281.8 29.8 L275.3 29.8 L278.5 30.9 L281.0 31.8 L285.0 31.4 L288.8 31.9 L291.5 30.6 L296.3 31.4 L297.4 33.3 L297.4 35.7 L299.0 33.8 L305.0 34.6"/>
<path d="M136.1 178.9 L135.4 176.4 L135.7 175.3 L137.9 174.3 L138.9 173.7 L141.6 173.4 L143.8 173.9 L145.1 173.8 L146.2 173.7 L147.8 174.2 L149.2 174.9 L151.1 175.4 L152.4 175.6 L154.8 174.8 L156.7 172.9 L158.2 172.1 L159.4 171.6 L161.0 171.5 L162.4 171.1 L163.5 169.6 L164.8 168.8 L167.1 168.3 L169.1 168.8 L172.0 170.2 L174.1 171.1 L174.5 172.9 L175.6 176.2 L178.3 177.7 L179.1 179.1 L182.5 180.7 L184.9 182.5 L187.0 184.2 L189.3 185.4 L192.2 185.5 L194.5 186.9 L195.8 187.5 L196.2 188.9 L198.6 188.4 L199.8 190.1 L201.4 191.8 L203.2 191.6 L204.2 193.6 L205.4 195.5 L206.3 197.9 L204.7 199.1 L203.4 201.7 L203.6 203.0 L205.6 203.2 L208.2 201.2 L208.5 198.5 L211.3 197.0 L211.2 195.2 L207.9 193.6 L208.5 191.5 L210.1 189.6 L211.7 189.5 L215.5 190.7 L216.0 191.7 L218.0 193.1 L218.7 191.2 L215.8 188.5 L209.9 185.9 L206.7 184.9 L204.8 183.3 L206.2 181.9 L204.7 181.5 L201.5 181.7 L199.8 181.2 L195.6 178.7 L193.9 176.4 L191.9 172.5 L186.8 170.1 L185.2 168.2 L186.4 165.3 L185.3 164.0 L185.8 162.6 L189.6 161.6 L191.9 160.9 L193.2 161.6 L193.0 162.1 L191.8 162.4 L192.3 164.5 L193.7 165.8 L195.3 165.1 L195.8 163.4 L196.8 163.3 L199.3 165.1 L199.3 166.7 L201.0 169.8 L204.7 171.9 L207.7 173.1 L210.6 174.2 L212.9 175.6 L216.6 177.7 L219.0 179.1 L221.9 180.7 L223.3 181.9 L224.6 182.8 L223.8 184.9 L223.8 187.1 L223.0 189.0 L223.8 190.1 L223.0 190.4 L225.5 191.5 L226.8 192.7 L226.8 193.6 L228.1 194.7 L229.5 196.6 L230.8 197.7 L232.7 198.2 L230.8 198.2 L232.2 200.6 L234.1 201.2 L236.7 200.6 L239.7 200.6 L242.4 201.7 L243.5 202.5 L243.0 203.2 L239.7 202.0 L236.1 201.4 L234.1 201.7 L232.7 203.6 L233.8 204.7 L235.7 206.8 L235.7 208.7 L236.0 209.2 L237.3 209.5 L238.1 208.1 L239.5 209.8 L240.2 211.4 L240.7 209.5 L241.9 209.2 L244.0 211.1 L243.2 209.8 L242.4 207.6 L241.6 205.5 L241.9 205.2 L243.8 206.3 L245.7 205.7 L245.1 204.9 L243.8 204.7 L243.0 203.3 L244.9 202.9 L246.4 203.2 L248.5 204.7 L248.4 202.7 L248.6 202.0 L246.2 200.4 L244.6 199.3 L241.9 198.5 L240.5 198.1 L242.7 197.4 L242.7 195.5 L244.9 196.6 L244.0 197.4 L244.6 195.2 L242.4 193.6 L240.8 192.0 L240.8 190.5 L242.6 188.8 L242.2 189.8 L244.9 192.4 L246.7 190.9 L248.3 192.3 L247.8 190.4 L250.5 191.3 L248.4 190.1 L247.6 188.5 L250.5 187.0 L253.8 186.9 L258.4 187.5 L259.4 188.1 L263.5 188.8 L260.2 190.4 L260.2 191.7 L261.3 191.2 L262.8 189.8 L265.1 188.8 L267.2 186.8 L271.3 186.2 L275.1 186.6 L275.8 185.4 L270.5 183.2 L269.9 181.9 L270.1 181.3 L267.2 178.5 L268.5 177.7 L269.4 177.4 L269.5 174.8 L272.5 173.8 L273.2 172.9 L273.2 171.4 L273.4 169.5 L274.8 166.7 L278.5 165.6 L279.1 164.2 L278.8 162.6 L280.7 160.7 L283.4 159.1 L284.7 157.1 L288.8 156.4 L291.5 157.0 L289.3 157.2 L293.1 158.9 L296.3 159.1 L300.1 159.1 L300.1 160.2 L294.2 163.2 L296.9 163.4 L298.9 164.0 L299.6 167.2 L300.9 168.3 L303.1 167.7 L305.5 166.1"/>
<path d="M305.0 181.2 L301.0 181.3 L296.9 181.8 L293.5 182.6 L290.4 184.2 L288.2 185.0 L286.9 186.1 L281.8 185.5 L278.5 185.6 L276.1 185.4 L275.4 186.5 L280.2 188.0 L277.5 188.1 L276.8 188.5 L274.2 189.1 L276.1 189.7 L274.7 190.0 L269.8 190.1 L269.1 189.3 L266.1 189.8 L262.9 190.1 L261.3 191.2 L260.2 192.0 L259.5 194.8 L264.0 194.4 L262.9 195.7 L263.9 197.0 L263.2 199.2 L265.3 200.5 L262.9 200.4 L261.0 199.3 L260.8 201.1 L262.4 202.2 L265.9 203.5 L265.9 206.3 L266.8 208.0 L271.5 207.9 L266.4 209.8 L271.4 209.0 L273.2 209.8 L275.8 210.2 L278.8 212.5 L281.5 211.9 L282.9 212.5 L284.5 208.8 L287.7 209.5 L291.5 210.6 L296.0 213.4 L300.1 212.7 L302.3 211.9 L305.5 209.8"/>
<path d="M82.1 224.9 L83.4 222.9 L85.9 217.9 L86.5 216.4 L87.1 214.7 L87.7 214.7 L90.4 214.1 L90.4 215.7 L92.6 217.3 L97.8 217.6 L102.8 217.9 L103.1 217.3 L103.0 216.6 L104.4 218.4 L107.1 218.4 L109.0 218.4 L112.5 216.3 L115.5 215.2 L117.4 214.4 L119.5 213.9 L121.7 212.5 L126.0 210.8 L130.9 210.3 L135.4 209.4 L140.0 208.6 L146.5 209.5 L150.1 209.1 L154.4 208.2 L156.2 208.8 L160.9 208.7 L164.5 208.7 L166.2 208.4 L172.2 206.7 L174.5 209.0 L178.6 207.7 L178.8 209.0 L176.1 211.4 L176.4 214.5 L178.6 216.3 L179.1 217.7 L177.1 220.4 L173.4 222.7 L173.2 225.4"/>
<path d="M88.3 137.7 L92.0 137.3 L96.4 136.2 L99.6 136.8 L100.4 134.9 L103.4 134.3 L105.8 135.1 L108.5 134.9 L112.0 133.8 L114.7 134.1 L120.3 134.1 L124.1 133.1 L126.5 131.9 L126.5 130.7 L122.8 130.3 L123.9 128.7 L126.0 127.6 L127.6 126.8 L128.4 124.6 L126.0 122.3 L121.7 122.2 L119.5 123.0 L120.9 121.4 L120.1 119.2 L118.5 118.4 L119.8 118.7 L117.9 116.0 L115.8 113.9 L112.5 113.1 L111.2 111.2 L110.4 108.2 L108.2 106.9 L105.0 105.5 L101.8 105.8 L103.9 105.2 L105.0 104.2 L103.9 103.4 L105.8 102.0 L107.7 99.6 L109.3 97.7 L107.7 96.6 L100.7 96.5 L96.9 97.4 L97.4 95.5 L102.8 91.5 L100.7 91.8 L92.0 91.7 L91.5 93.7 L87.7 95.8 L88.3 98.8 L85.6 102.0 L89.4 103.4 L88.3 105.8 L88.8 109.3 L91.2 106.9 L92.9 106.0 L93.7 108.5 L91.2 111.7 L95.3 112.8 L100.1 111.7 L99.6 113.9 L101.8 116.0 L103.6 115.5 L102.6 118.7 L102.3 120.3 L96.4 120.6 L94.2 119.8 L95.3 121.4 L93.4 123.0 L96.9 123.0 L96.9 125.7 L93.7 127.1 L90.4 127.9 L91.8 129.2 L95.8 129.2 L98.5 129.5 L102.3 130.3 L105.0 129.2 L103.4 130.6 L101.2 131.6 L96.4 131.6 L94.5 133.3 L92.0 135.1 L88.3 137.7"/>
<path d="M85.6 116.0 L86.1 119.2 L86.4 121.9 L84.5 126.3 L81.5 126.5 L78.0 127.3 L74.3 128.4 L70.5 129.8 L66.2 130.3 L64.0 128.7 L62.9 126.8 L66.2 126.0 L67.8 124.1 L65.6 124.1 L68.6 121.1 L70.5 121.1 L64.6 119.5 L65.6 117.4 L65.1 115.2 L72.6 114.9 L74.8 113.3 L71.8 112.8 L74.3 110.4 L79.1 109.3 L81.8 110.4 L86.1 110.1 L88.0 112.0 L89.4 114.1 L87.2 114.9 L85.6 116.0"/>
<path d="M85.3 116.0 L82.9 116.0 L79.7 115.7 L76.4 115.2 L75.1 114.1 L77.5 113.1 L78.8 111.7 L79.7 110.9"/>
<path d="M112.0 84.8 L113.1 83.1 L114.7 80.2 L112.0 81.0 L110.4 82.6 L112.0 84.8"/>
<path d="M101.2 89.9 L103.9 90.1 L105.0 88.3 L101.8 88.8 L101.2 89.9"/>
<path d="M81.3 96.3 L85.6 93.7 L85.6 92.3 L81.8 93.7 L80.7 95.3 L81.3 96.3"/>
<path d="M79.1 99.8 L80.2 98.2 L80.2 96.9 L78.8 97.4 L79.1 99.8"/>
<path d="M86.7 100.1 L86.1 97.7 L83.4 98.0 L85.0 99.6 L86.7 100.1"/>
<path d="M85.0 104.2 L88.3 103.4 L85.6 102.5 L85.0 104.2"/>
<path d="M85.0 107.9 L86.4 106.3 L84.5 106.6 L85.0 107.9"/>
<path d="M93.4 116.2 L95.6 114.9 L94.7 114.4 L93.4 116.2"/>
<path d="M110.6 134.5 L113.1 134.3 L112.0 135.0 L110.6 134.5"/>
<path d="M80.2 73.4 L82.9 73.4 L84.5 71.8 L81.3 71.8 L80.2 73.4"/>
<path d="M70.5 25.7 L74.3 24.9 L76.1 24.1"/>
<path d="M131.7 194.4 L135.7 192.3 L137.6 193.6 L135.4 195.8 L133.6 194.4 L131.7 194.4"/>
<path d="M139.5 192.0 L142.2 192.5 L141.1 191.7 L139.5 192.0"/>
<path d="M125.5 197.9 L127.6 196.9 L126.8 198.2 L125.5 197.9"/>
<path d="M169.7 175.8 L170.5 180.1 L168.6 184.5 L166.4 183.6 L165.4 179.3 L168.0 177.4 L169.4 176.1 L169.7 175.8"/>
<path d="M168.6 185.3 L171.6 189.0 L170.7 196.3 L168.0 196.3 L167.0 197.9 L164.3 196.9 L164.5 192.5 L163.2 188.8 L163.2 186.9 L166.4 186.9 L168.6 185.3"/>
<path d="M203.4 201.3 L200.9 204.4 L200.4 206.6 L201.5 207.9 L200.4 209.9 L196.6 208.4 L191.8 206.6 L186.1 203.9 L187.7 202.0 L191.0 201.7 L195.5 202.5 L199.8 202.0 L203.4 201.3"/>
<path d="M196.1 214.1 L197.4 214.4 L196.6 213.6 L196.1 214.1"/>
<path d="M245.9 216.0 L248.9 216.0 L252.1 216.7 L257.8 217.2 L260.8 217.6 L259.7 218.7 L252.4 219.3 L246.2 217.6 L245.9 216.0"/>
<path d="M243.0 197.9 L245.4 197.4 L249.2 199.5 L251.3 202.0 L251.3 203.0 L248.4 200.6 L246.2 200.1 L243.0 197.9"/>
<path d="M268.6 214.1 L271.0 211.1 L270.5 213.0 L268.6 214.1"/>
<path d="M258.3 196.3 L261.3 195.5 L262.4 197.1 L259.7 197.4 L258.3 196.3"/>
<path d="M258.6 199.5 L259.9 199.8 L259.1 201.7 L258.6 199.5"/>
<path d="M262.4 204.1 L264.8 204.1 L263.5 204.7 L262.4 204.1"/>
<path d="M254.0 192.8 L256.2 192.3 L255.4 193.1 L254.0 192.8"/>
<path d="M251.3 188.2 L252.4 188.0 L252.1 188.8 L251.3 188.2"/>
<path d="M255.9 207.6 L257.0 207.4 L256.4 208.4 L255.9 207.6"/>
<path d="M252.1 203.0 L253.5 203.9 L252.7 203.6 L252.1 203.0"/>
<path d="M264.3 209.5 L266.1 208.8 L265.1 209.2 L264.3 209.5"/>
<path d="M265.1 216.5 L265.6 214.4 L265.3 215.7 L265.1 216.5"/>
<path d="M229.0 201.7 L230.6 202.2 L229.8 200.4 L229.0 201.7"/>
<path d="M224.9 193.3 L226.5 193.1 L227.3 195.2 L226.0 194.7 L224.9 193.3"/>
<path d="M230.3 203.6 L231.9 204.3 L231.1 204.7 L230.3 203.6"/>
<path d="M242.4 211.9 L243.2 212.7 L242.7 213.0 L242.4 211.9"/>
<path d="M293.1 218.7 L295.3 218.1 L296.3 217.1 L300.1 217.1 L305.0 215.4 L302.3 218.9 L300.1 219.9 L296.9 221.3 L293.9 220.3 L293.1 218.7"/>
<path d="M171.8 108.5 L175.6 107.9 L177.2 109.5 L176.1 110.9 L173.4 110.6 L171.8 108.5"/>
<path d="M178.8 107.4 L182.1 106.0 L185.3 105.2 L186.9 106.0 L186.9 107.9 L184.8 109.0 L185.8 109.8 L183.7 110.6 L182.1 110.1 L179.4 110.1 L178.8 107.4"/>
<path d="M178.3 112.0 L182.6 111.4 L184.5 112.2 L183.1 113.5 L180.4 113.1 L178.3 112.0"/>
<path d="M198.2 110.6 L198.5 109.5 L200.7 110.4 L200.4 111.2 L198.2 110.6"/>
<path d="M189.9 114.4 L191.2 112.9 L192.6 113.6 L192.8 114.9 L191.0 115.2 L189.9 114.4"/>
<path d="M207.4 104.7 L208.7 102.5 L211.2 98.5 L209.8 101.5 L207.4 104.7"/>
<path d="M216.6 100.4 L217.1 98.2 L219.8 95.5 L222.2 95.3 L220.3 98.2 L218.2 99.8 L216.6 100.4"/>
<path d="M236.8 93.4 L237.6 92.3 L240.8 91.5 L244.6 92.0 L243.0 93.1 L240.8 93.7 L238.4 95.1 L238.7 93.9 L236.8 93.4"/>
<path d="M238.1 90.1 L240.8 89.1 L243.2 90.1 L240.8 91.2 L238.1 90.1"/>
<path d="M224.4 83.1 L226.8 82.1 L229.0 82.9 L226.8 84.0 L224.4 83.1"/>
<path d="M164.3 65.4 L167.5 64.6 L168.6 65.4 L165.4 65.9 L164.3 65.4"/>
<path d="M188.5 41.9 L192.3 40.3 L196.1 39.5 L199.8 38.7 L203.1 38.4 L204.7 39.0 L199.8 40.0 L194.5 40.6 L190.7 41.6 L188.5 41.9"/>
<path d="M197.2 37.9 L199.8 35.7 L203.1 35.7 L205.8 34.1 L205.2 36.3 L203.6 37.9 L200.9 37.6 L197.2 37.9"/>
<path d="M203.1 38.4 L206.3 36.3 L209.6 37.1 L207.9 38.4 L203.1 38.4"/>
<path d="M209.6 35.2 L213.3 32.8 L216.0 33.6 L213.9 34.9 L209.6 35.2"/>
<path d="M216.6 32.2 L219.8 30.3 L221.9 31.4 L219.3 32.5 L216.6 32.2"/>
<path d="M237.6 27.6 L241.9 26.6 L244.6 27.4 L240.8 28.2 L237.6 27.6"/>
<path d="M255.4 24.9 L258.1 24.0 L260.2 25.1 L257.0 25.3 L255.4 24.9"/>
<path d="M305.5 47.8 L299.0 47.3 L291.5 45.7 L296.9 48.4 L302.3 50.5 L305.5 51.1"/>
<path d="M285.6 84.5 L288.8 83.7 L294.7 81.8 L296.3 79.6 L291.5 76.1 L285.6 75.1 L280.7 77.8 L282.9 81.5 L285.6 84.5"/>
<path d="M305.0 77.8 L303.3 75.6 L305.5 72.4"/>
<path d="M217.6 87.7 L213.9 87.2 L210.1 86.6 L205.8 86.9 L208.5 87.7 L212.2 88.0 L216.0 88.0"/>
<path d="M71.2 181.9 L74.8 180.7 L75.3 182.3 L80.2 181.8 L83.4 181.5 L85.6 183.4 L82.3 186.3 L81.5 190.4 L81.3 193.6 L78.6 193.9 L81.3 196.9 L81.3 201.7 L79.7 202.8 L78.6 205.2 L79.1 207.1"/>
<path d="M109.4 173.8 L111.5 174.5 L111.2 175.6 L115.0 176.1 L119.0 177.4 L122.8 176.6 L126.8 178.0 L128.4 178.5 L132.5 179.3 L136.1 178.9"/>
<path d="M159.4 171.6 L160.5 169.6 L156.7 169.1 L156.2 167.2 L156.7 165.1 L154.8 164.5 L157.3 162.6 L155.7 160.7 L157.0 160.1"/>
<path d="M157.0 160.1 L155.7 157.5 L152.7 158.0 L151.1 159.0 L151.9 157.5 L153.8 155.4 L156.2 153.7 L156.7 152.4 L156.7 151.6 L160.0 151.2"/>
<path d="M160.0 151.2 L159.7 148.9 L161.0 145.7 L163.2 143.7 L159.4 143.0 L155.4 142.6 L153.3 141.0"/>
<path d="M153.3 141.0 L150.3 140.5 L150.0 139.2 L151.9 137.3 L154.0 139.2 L153.3 141.0"/>
<path d="M150.3 140.5 L145.9 139.2 L145.1 137.3 L141.4 138.2 L141.6 136.5 L138.9 136.2 L136.2 134.1 L133.0 133.5 L132.7 132.3"/>
<path d="M137.2 130.7 L140.0 131.6 L141.9 130.7 L144.9 130.0 L145.9 130.3 L150.3 131.9 L149.5 133.5 L151.3 134.1"/>
<path d="M151.3 134.1 L153.0 135.4 L152.1 137.4"/>
<path d="M151.3 134.1 L151.9 131.6 L151.3 128.1 L155.7 127.6 L157.0 126.0 L155.1 124.1 L157.0 123.8 L157.8 120.6"/>
<path d="M165.6 111.7 L169.9 112.2"/>
<path d="M195.8 117.0 L196.6 120.3 L195.3 122.8 L197.7 124.1 L198.5 127.1 L197.7 128.4 L199.8 131.1 L198.9 133.4"/>
<path d="M198.9 133.4 L196.1 132.5 L191.8 134.3 L186.4 136.0 L184.2 136.5 L186.4 138.6 L188.0 141.6 L193.4 144.8"/>
<path d="M193.4 144.8 L191.5 145.9 L188.8 147.8 L189.1 149.7 L189.1 151.6 L184.8 150.8 L178.3 152.1 L175.3 151.3 L174.0 152.7 L170.7 151.3"/>
<path d="M170.7 151.3 L167.5 150.5 L165.4 150.2 L164.3 151.2 L160.0 151.2"/>
<path d="M170.7 151.3 L170.5 153.7 L173.7 155.1 L175.4 155.0"/>
<path d="M175.4 155.0 L173.2 156.7 L173.7 158.3 L169.1 157.2 L167.5 160.5 L164.5 158.3 L161.3 160.0 L157.0 160.1"/>
<path d="M175.4 155.0 L178.3 155.5 L184.5 154.3 L185.8 155.9 L192.8 156.9"/>
<path d="M192.8 156.9 L191.2 158.6 L192.3 160.5 L193.2 161.8"/>
<path d="M192.8 156.9 L197.4 157.5 L203.4 155.9 L205.8 155.0"/>
<path d="M205.8 155.0 L207.9 152.1 L207.7 150.5 L211.2 150.2 L211.4 148.9"/>
<path d="M211.4 148.9 L210.4 145.7"/>
<path d="M210.4 145.7 L205.8 144.8 L199.8 143.5 L198.2 145.7 L193.4 144.8"/>
<path d="M198.9 133.4 L201.5 133.8 L206.9 134.6 L209.0 137.6 L210.6 136.0 L214.4 136.5 L216.0 138.1 L220.6 140.8"/>
<path d="M220.6 140.8 L224.1 140.5 L227.3 142.4 L232.2 141.3 L240.5 143.1"/>
<path d="M211.4 148.9 L214.9 150.2 L220.3 150.0 L224.6 147.8 L229.5 146.2 L236.0 147.0 L238.4 146.7"/>
<path d="M238.4 146.7 L240.5 143.1"/>
<path d="M238.4 146.7 L242.4 148.9"/>
<path d="M242.4 148.9 L237.6 152.1 L233.3 157.5 L228.4 158.9"/>
<path d="M228.4 158.9 L224.1 158.9 L220.9 160.1"/>
<path d="M220.9 160.1 L215.5 160.7 L212.2 159.7 L208.5 157.1"/>
<path d="M208.5 157.1 L205.8 155.0"/>
<path d="M228.7 176.6 L225.7 178.5 L223.6 180.7 L223.4 182.0"/>
<path d="M228.7 176.6 L227.3 178.0 L229.8 181.2 L230.0 182.0"/>
<path d="M230.0 182.0 L229.2 183.9 L230.6 187.1 L232.2 187.4"/>
<path d="M232.2 187.4 L230.6 190.4 L228.4 192.3 L226.8 193.6"/>
<path d="M232.2 187.4 L236.5 186.9 L240.8 185.8 L242.7 184.7"/>
<path d="M242.7 184.7 L242.4 181.8 L239.5 179.6"/>
<path d="M239.5 179.6 L240.3 176.6 L243.0 174.8 L239.7 172.1 L241.2 169.4"/>
<path d="M241.2 169.4 L240.0 166.7 L234.3 166.1 L234.9 164.2 L231.1 161.0 L228.4 158.9"/>
<path d="M241.2 169.4 L243.0 171.5 L251.1 171.8 L256.4 172.3 L264.5 169.7 L273.2 171.8"/>
<path d="M242.7 184.7 L248.4 183.9 L253.8 185.0 L259.1 184.7 L261.0 182.8"/>
<path d="M261.0 182.8 L264.5 181.0 L270.1 181.3"/>
<path d="M261.0 182.8 L262.4 184.7 L260.8 186.6 L259.4 188.1"/>
<path d="M242.4 148.9 L251.1 149.2 L253.8 150.2 L260.2 148.9 L262.4 147.5"/>
<path d="M262.4 147.5 L267.2 151.6 L270.5 154.8 L271.0 162.5"/>
<path d="M271.0 162.5 L274.8 163.4 L278.8 163.2"/>
<path d="M224.9 114.1 L241.9 114.7"/>
<path d="M241.9 114.7 L245.7 116.8"/>
<path d="M245.7 116.8 L247.8 123.6 L244.0 125.7 L246.5 130.0"/>
<path d="M246.5 130.0 L248.9 133.5 L244.6 137.6 L241.4 142.4 L240.5 143.1"/>
<path d="M268.8 81.3 L275.3 77.8 L289.3 68.6 L280.7 64.0 L283.4 61.6 L278.5 57.8 L281.2 53.5 L275.8 47.0 L280.7 42.7 L272.6 40.0 L274.8 35.4"/>
<path d="M274.8 35.4 L281.2 32.2 L285.0 31.4"/>
<path d="M274.8 35.4 L276.9 34.1 L269.9 30.3 L269.4 29.9 L259.1 31.9 L257.5 34.6 L253.2 37.9 L243.0 37.3 L237.6 35.7 L233.8 34.1 L229.8 35.4"/>
<path d="M229.8 35.4 L235.4 39.0 L246.2 41.4 L245.1 44.1 L248.4 47.6 L246.5 50.3 L249.2 53.0"/>
<path d="M229.8 35.4 L227.3 39.0 L216.8 38.1 L215.5 41.1 L209.0 41.6 L205.8 44.3 L202.0 49.2 L197.2 51.3 L197.7 55.7 L192.6 59.4 L195.0 60.2 L193.9 62.7 L187.5 62.7 L184.5 64.8 L184.8 68.1 L184.2 72.1 L185.3 75.1 L188.3 76.9 L184.8 78.8 L186.9 81.5 L186.4 83.7 L182.9 85.0 L182.1 86.4 L182.9 88.3 L180.7 90.1 L179.4 89.1"/>
<path d="M107.1 218.4 L109.6 220.3 L109.8 224.9"/>
<path d="M165.4 208.7 L163.5 211.1 L164.0 217.3 L163.5 221.1 L159.4 224.9"/>
<path d="M149.2 91.6 L150.1 89.1 L151.9 85.8 L150.8 89.0 L150.3 85.4 L148.5 87.9 L148.9 87.7 L147.1 84.3 L150.3 86.8 L150.0 84.0 L151.7 80.5 L149.9 84.3 L150.9 81.6 L147.1 82.7 L148.4 79.4 L145.7 80.7 L146.2 81.4 L147.2 77.3 L148.9 81.0 L149.6 77.3 L151.1 81.0 L151.9 78.1 L153.2 80.9 L154.0 77.1 L155.3 80.0 L156.2 77.8 L157.4 74.8 L156.0 78.5 L155.0 74.9 L153.6 79.0 L152.7 74.8 L151.3 79.0 L150.3 75.2 L149.2 78.8 L148.1 75.2 L147.0 79.0 L149.0 77.5 L145.8 75.5 L148.6 74.0 L146.7 72.0 L148.3 75.4 L148.9 71.4 L151.1 74.1 L151.0 70.8 L152.6 73.3 L153.2 70.1 L155.3 72.5 L155.2 69.2 L157.4 72.2 L156.3 70.1 L157.1 70.7 L157.5 66.4 L159.1 70.7 L159.6 66.1 L161.7 70.0 L161.7 66.9 L163.8 69.6 L163.2 65.0 L166.2 68.7 L166.3 64.4 L168.3 67.8 L169.1 64.5 L170.7 67.6 L172.0 63.7 L171.5 66.9 L173.4 65.5 L176.0 68.5 L175.9 63.8 L178.8 66.2 L178.1 63.0 L179.4 61.0 L178.9 63.7 L177.2 61.7 L176.7 65.3 L175.4 61.0 L174.2 64.1 L172.9 61.4 L171.8 64.1 L172.6 66.1 L171.5 62.6 L172.9 62.1" stroke-width="1.25"/>
<path d="M149.2 90.2 L149.7 88.9 L151.9 87.1 L150.8 89.0 L149.9 87.3 L148.2 89.2 L148.2 87.6 L147.3 84.7 L149.6 85.6 L149.6 83.3 L151.4 83.1 L149.8 85.1 L149.1 83.0 L146.8 82.9 L147.4 80.7 L144.7 80.7 L146.0 79.2 L147.2 77.7 L148.7 79.1 L149.6 77.7 L150.9 79.0 L151.7 76.9 L153.0 78.6 L153.9 76.6 L155.2 78.9 L156.1 76.6 L157.3 77.0 L156.0 78.6 L154.9 77.4 L153.6 79.2 L152.5 77.1 L151.3 78.4 L150.3 76.6 L149.2 78.9 L148.1 77.2 L147.0 78.5 L146.3 77.5 L145.1 75.2 L146.9 74.0 L146.6 71.2 L148.0 72.6 L148.8 71.1 L150.3 72.0 L150.8 70.5 L152.2 71.1 L153.1 69.2 L154.8 71.2 L155.1 69.0 L156.6 70.0 L156.8 69.9 L156.8 68.3 L157.6 66.9 L158.8 68.0 L159.6 66.7 L160.9 67.8 L161.4 66.3 L163.0 67.5 L163.3 65.4 L165.3 66.4 L166.2 64.3 L167.9 65.7 L169.0 63.4 L170.4 65.1 L172.0 63.8 L172.2 65.6 L173.5 64.6 L175.3 66.5 L176.1 64.5 L178.3 65.5 L178.4 63.4 L179.8 62.6 L179.1 64.6 L177.6 63.3 L176.7 65.5 L175.4 63.3 L174.2 64.9 L172.9 63.4 L171.8 65.3 L170.9 64.1 L171.3 62.4 L172.9 62.1" stroke-width="1.25"/>
<path d="M173.5 63.2 L174.0 61.5 L175.8 62.1 L176.1 60.3 L177.4 61.3 L178.6 60.0 L179.8 62.0 L180.8 60.6 L180.3 58.0 L178.3 58.9 L180.2 59.4 L180.6 57.5 L182.1 58.3 L182.7 56.9 L184.7 57.1 L183.7 55.3 L185.9 56.1 L185.5 53.4 L188.6 53.0 L186.9 51.9 L188.6 52.5 L189.0 50.4 L190.4 52.4 L191.4 50.0 L192.8 52.3 L193.8 50.4 L195.3 48.7 L193.9 50.5 L193.3 48.5 L192.0 49.7 L191.3 48.1 L190.1 49.3 L190.2 50.6 L189.6 48.0 L191.8 48.9 L191.7 46.9 L193.8 48.2 L194.3 45.6 L196.3 47.1 L196.6 45.0" stroke-width="1.25"/>
<path d="M173.1 62.5 L173.7 61.0 L175.3 61.3 L176.1 59.5 L177.4 60.8 L178.5 59.7 L179.8 60.7 L180.8 60.6 L179.8 59.3 L178.1 58.6 L179.8 58.3 L180.5 57.2 L181.8 57.5 L182.5 56.3 L184.1 56.7 L183.6 55.2 L184.9 54.9 L185.6 53.6 L187.2 53.0 L186.6 51.4 L188.2 51.8 L189.0 50.1 L190.3 51.3 L191.4 50.0 L192.7 50.9 L193.8 49.9 L195.1 50.0 L193.9 50.5 L193.1 49.5 L191.9 50.3 L191.1 49.2 L190.0 49.9 L189.3 49.5 L189.7 48.1 L191.2 48.2 L191.5 46.5 L193.3 46.9 L194.2 45.3 L195.6 45.7 L196.6 45.0" stroke-width="1.25"/>
<path d="M196.6 47.1 L197.7 44.0 L198.7 47.4 L199.9 43.8 L200.9 47.4 L201.3 46.2 L201.7 43.3 L199.5 44.3 L199.8 45.3 L199.3 41.7 L201.6 44.5 L201.5 41.6 L202.7 43.3 L203.6 40.9 L204.8 43.2 L205.7 40.3 L207.7 40.1 L205.8 40.7 L205.5 41.4 L206.2 38.3 L207.7 41.8 L208.4 39.0 L209.8 41.5 L210.6 38.8 L212.0 41.0 L212.8 39.1 L211.8 37.4 L210.5 39.9 L209.7 37.0 L208.4 38.9 L209.8 39.2 L207.6 35.6 L209.7 38.0 L210.1 34.8 L212.2 37.7 L212.5 34.5 L214.2 36.7 L214.2 33.8 L217.2 36.1 L216.7 32.3 L218.9 35.6 L219.0 32.4 L220.7 34.2 L221.1 31.9 L222.5 33.4 L223.1 31.5 L223.3 32.9 L225.5 31.2 L225.3 33.6 L227.4 32.2 L229.5 33.1 L227.0 32.5 L229.4 30.5 L226.8 29.3 L227.8 31.8 L229.0 29.4 L229.9 32.4 L231.1 30.1 L233.6 32.5 L233.8 29.1 L235.1 31.5 L236.3 28.1 L237.4 30.6 L239.0 28.3 L239.7 31.4 L241.4 29.0 L242.1 31.3 L244.2 30.6 L244.9 28.6 L242.4 27.2 L244.5 29.4 L244.4 26.6 L246.8 29.5 L246.3 25.5 L248.2 28.1 L248.5 25.6 L250.3 27.7 L250.3 24.5 L251.3 26.6 L253.1 24.4 L253.6 28.0 L256.4 26.6 L253.7 26.2 L255.4 28.5 L254.2 30.0 L254.5 27.9 L256.3 30.0 L256.1 26.5 L259.2 27.7 L256.4 26.1 L259.9 25.7 L258.1 24.4" stroke-width="1.25"/>
<path d="M196.6 45.5 L197.7 44.0 L198.8 45.7 L199.9 44.0 L200.9 45.5 L201.4 46.1 L201.2 44.0 L199.3 44.6 L199.0 43.6 L199.3 41.5 L200.8 42.5 L201.3 41.1 L202.6 42.0 L203.6 40.4 L204.7 41.9 L205.7 40.4 L207.4 40.5 L205.7 40.9 L205.3 40.4 L206.2 38.8 L207.4 39.6 L208.3 38.4 L209.6 39.4 L210.5 38.4 L211.8 39.3 L212.7 39.4 L211.7 38.5 L210.6 39.2 L209.6 37.9 L208.4 39.1 L207.6 38.5 L207.8 36.2 L209.4 37.2 L210.2 35.2 L211.9 36.4 L212.5 34.3 L214.0 35.6 L214.5 34.2 L216.2 34.6 L216.9 32.9 L218.3 33.7 L218.7 31.8 L220.3 33.0 L220.9 31.2 L222.3 32.6 L222.8 30.6 L223.8 31.9 L225.5 31.2 L225.9 32.7 L227.3 32.3 L228.6 33.4 L226.7 32.6 L227.7 31.1 L226.8 29.3 L227.9 30.6 L229.0 29.5 L230.0 30.9 L231.2 29.2 L232.3 30.5 L233.8 28.3 L235.1 29.5 L236.3 28.1 L237.5 29.5 L238.9 28.8 L239.9 30.4 L241.4 28.9 L242.4 30.2 L243.6 31.0 L244.2 29.1 L242.7 27.8 L244.2 28.6 L244.6 26.9 L246.0 27.6 L246.5 26.0 L247.8 26.6 L248.4 25.4 L249.8 26.3 L250.3 24.6 L251.5 25.7 L253.0 24.8 L254.0 26.3 L256.0 26.4 L254.2 26.5 L254.8 28.1 L254.0 29.3 L254.5 27.8 L255.8 28.5 L256.3 27.0 L258.0 27.4 L256.7 26.2 L258.5 25.5 L258.1 24.4" stroke-width="1.25"/>
<path d="M257.8 25.4 L259.8 23.7 L260.7 25.9 L262.7 25.0 L263.2 26.6 L264.0 26.3 L266.2 26.8 L266.5 24.5 L268.1 25.1 L270.2 23.8 L271.0 25.5 L273.0 26.0 L273.1 28.5 L273.5 26.3 L275.5 27.1 L276.6 24.8 L277.6 26.6 L279.3 25.5 L280.2 27.6 L282.0 26.2 L283.1 28.3 L285.3 26.9 L286.6 28.3" stroke-width="1.25"/>
<path d="M157.3 94.6 L155.7 94.7 L155.1 92.9 L153.0 93.5 L151.7 92.0 L149.8 92.3 L149.3 91.2 L149.2 89.6" stroke-width="1.25"/>
<path d="M179.6 89.8 L178.4 89.7 L178.2 88.3 L175.8 87.4 L176.4 85.8 L177.0 85.2 L174.8 85.0 L175.9 86.9 L174.1 87.8 L173.2 90.0 L171.1 89.1 L170.0 90.8 L168.3 90.7 L167.8 92.4 L166.1 92.3 L164.4 94.0 L162.1 94.2" stroke-width="1.25"/>
<path d="M90.1 91.1 L93.0 93.0 L90.8 92.4 L91.6 96.0 L89.0 93.7 L89.4 96.5 L85.1 96.3 L88.7 96.7 L86.0 98.2 L89.5 99.8 L86.6 98.8 L87.9 101.2 L84.4 99.7 L86.0 100.7 L85.7 104.6 L87.8 101.9 L87.9 104.5 L90.1 103.7 L86.9 103.7 L90.4 105.4 L86.3 107.3 L90.5 107.8 L90.1 110.6 L88.3 107.1 L91.4 108.6 L90.7 105.9 L92.9 106.0" stroke-width="1.25"/>
<path d="M92.5 91.8 L94.2 93.3 L91.6 93.8 L91.8 96.3 L89.9 95.2 L89.9 97.5 L88.3 95.7 L91.0 96.2 L89.0 97.6 L90.3 100.4 L88.2 100.1 L88.9 102.0 L86.3 101.2 L86.4 99.6 L86.7 102.0 L88.3 100.2 L88.5 102.8 L91.8 104.4 L89.6 104.9 L90.9 105.4 L89.1 106.8 L91.6 107.7 L88.5 109.0 L88.0 106.8 L90.2 107.4 L90.1 104.6 L92.9 106.0" stroke-width="1.25"/>
<path d="M66.6 129.7 L64.7 130.0 L64.7 128.3 L62.8 126.3 L64.8 127.2 L65.5 125.4 L67.8 123.3 L65.3 123.8 L67.1 123.6 L67.2 121.7 L68.6 121.6 L70.2 122.1 L69.3 119.8 L67.4 120.7 L66.3 119.0 L63.9 119.2 L66.2 117.2 L65.1 114.7 L66.6 115.9 L68.1 114.5 L69.7 115.8 L71.1 114.2 L72.9 115.3 L73.2 113.4 L75.0 112.3 L73.1 114.0 L72.4 113.3 L72.8 111.3 L74.3 110.4" stroke-width="1.25"/>
<path d="M243.4 85.9 L243.9 85.0 L242.7 82.3 L240.2 84.2 L239.1 80.8 L237.0 82.6 L236.0 80.8 L234.3 79.9" stroke-width="1.25"/>
<path d="M220.3 86.1 L222.0 86.3 L219.6 85.7 L218.3 87.6 L216.5 88.2 L218.0 87.5 L219.0 87.8 L218.0 90.1 L215.5 89.4 L214.5 91.3 L212.8 90.2 L210.7 91.7 L208.7 90.8 L207.0 90.9 L208.4 92.2 L211.0 92.4 L209.3 93.9" stroke-width="1.25"/>
<path d="M195.7 164.8 L198.2 163.9 L197.0 165.1 L199.7 166.5 L198.6 169.1 L200.9 170.0 L201.4 172.0 L203.4 171.4 L203.8 174.0 L206.1 172.8 L206.9 175.1 L209.1 173.9 L209.7 175.8 L211.8 174.9 L211.7 177.7 L214.3 176.1 L214.5 178.4 L216.6 177.7" stroke-width="1.25"/>
<path d="M259.5 195.2 L260.9 194.0 L262.6 195.2 L264.6 195.0 L262.5 195.9 L264.3 197.2 L262.8 199.8 L265.3 201.2 L263.2 199.9 L261.7 199.4 L260.4 201.5 L262.6 201.5 L264.0 203.2 L266.3 203.5 L265.0 204.9 L266.3 206.0 L266.9 208.5 L268.4 207.2 L270.0 208.6 L271.7 208.3 L270.0 207.8 L269.2 209.5 L267.6 208.9 L266.3 209.1 L268.1 209.9 L269.6 208.7 L271.4 209.0" stroke-width="1.25"/>
<path d="M100.8 149.8 L98.7 150.3 L96.8 149.1 L95.3 150.2 L93.7 149.3 L95.6 148.3 L94.7 146.4 L92.8 147.0 L93.8 146.4 L95.4 144.7 L97.5 145.4 L98.7 144.3 L100.2 145.0 L101.5 144.0 L102.6 144.6 L104.4 145.6 L106.6 146.0 L108.2 145.4" stroke-width="1.25"/>
<path d="M243.2 197.4 L242.9 195.0 L244.5 196.2 L243.6 197.3 L244.9 194.8 L243.1 194.9 L242.7 193.3 L240.2 192.0 L241.0 190.7 L242.6 188.8" stroke-width="1.25"/>
<path d="M235.1 209.0 L236.1 208.5 L238.1 209.9 L238.5 207.8 L238.8 210.1 L239.5 211.2 L240.8 210.2 L242.1 209.0 L242.8 210.4 L243.6 211.4 L243.9 209.5 L242.0 207.8 L242.1 205.9 L242.1 204.8 L244.0 207.1 L244.9 206.2 L245.2 204.4 L243.0 205.1 L243.0 203.7 L245.0 202.1 L245.9 203.8 L247.7 203.6 L248.5 204.7" stroke-width="1.25"/>
<path d="M243.1 198.3 L245.7 196.8 L246.4 198.5 L248.1 198.5 L248.8 199.9 L250.6 200.4 L250.8 202.0 L251.3 203.0" stroke-width="1.25"/>
<path d="M85.2 116.1 L86.1 117.6 L85.8 119.3 L86.8 120.5 L86.0 121.8 L86.2 123.6 L84.7 124.6 L84.5 126.6 L83.0 125.9 L81.6 126.9 L79.7 126.4 L78.2 127.8 L76.6 127.2 L75.6 128.4 L74.2 128.2 L73.1 129.1 L71.6 128.8 L70.5 130.0 L69.0 129.5 L67.7 130.6 L66.3 130.1 L64.8 129.9 L64.2 128.6 L62.8 126.3 L64.7 126.9 L66.0 125.8 L67.4 125.4 L67.8 124.6 L65.8 124.3 L66.3 122.8 L67.8 122.3 L68.6 120.6 L70.6 120.7 L69.1 121.4 L68.2 120.3 L66.8 120.5 L65.9 119.4 L64.2 119.3 L65.4 118.6 L65.1 117.5 L65.1 115.7 L66.3 114.8 L67.6 115.4 L68.9 114.6 L70.1 115.4 L71.4 114.5 L72.9 115.3 L73.5 113.8 L74.8 113.1 L73.3 113.3 L72.1 113.1 L72.7 111.2 L74.3 110.7 L75.4 109.6 L76.8 110.2 L77.8 109.0 L78.9 109.7 L80.6 109.5 L81.8 110.6 L83.2 110.0 L84.7 110.4 L86.5 109.7 L86.7 111.4 L88.4 111.7 L88.5 113.2 L89.5 114.6 L87.1 114.7 L85.6 116.0" stroke-width="1.25"/>
<path d="M88.3 138.2 L89.5 137.4 L90.8 137.7 L92.0 137.0 L93.6 137.4 L94.8 136.2 L96.3 136.7 L98.0 136.3 L99.9 136.9 L100.4 134.7 L101.9 134.9 L103.5 134.0 L104.5 134.9 L105.8 134.9 L107.2 135.4 L108.4 134.5 L109.7 134.8 L110.7 133.8 L111.9 134.3 L113.4 133.7 L114.7 134.5 L116.1 133.6 L117.5 134.4 L118.9 133.8 L120.5 134.6 L121.5 133.4 L122.9 133.6 L124.0 132.9 L125.6 133.0 L126.1 131.9 L126.6 130.2 L125.2 131.0 L124.1 130.0 L122.3 130.0 L124.0 129.0 L124.8 127.8 L126.2 128.0 L127.2 126.6 L128.8 124.3 L126.9 123.8 L126.0 121.9 L124.6 122.5 L123.1 122.0 L121.8 122.5 L119.7 123.2 L120.6 121.5 L120.2 119.0 L118.5 118.2 L120.2 118.5 L118.6 117.5 L118.2 115.8 L116.7 115.1 L115.8 113.6 L114.0 114.0 L112.9 112.8 L110.8 111.3 L111.0 109.6 L110.1 108.6 L109.4 107.3 L108.1 107.2 L106.8 105.7 L105.0 105.9 L103.3 105.3 L101.6 105.4 L104.3 105.6 L104.7 104.5 L104.1 103.6 L105.6 101.9 L107.0 101.0 L107.5 99.4 L108.7 98.8 L109.0 98.1 L107.7 96.1 L106.3 96.9 L104.9 96.1 L103.5 96.9 L102.1 96.0 L100.8 96.9 L99.3 96.5 L98.2 97.4 L97.3 97.5 L97.3 95.3 L98.8 95.0 L99.3 93.5 L100.9 93.4 L101.6 92.1 L102.8 91.0 L100.7 92.1 L99.4 91.5 L98.2 91.9 L97.0 91.5 L95.7 92.1 L94.5 91.2 L93.3 92.0 L91.8 91.6 L91.7 93.9 L90.0 93.9 L89.2 95.4 L87.2 95.9 L88.5 97.2 L88.1 98.6 L87.7 100.1 L86.1 100.6 L85.7 101.6 L86.7 102.7 L88.2 102.5 L89.1 103.3 L89.1 104.7 L87.9 105.8 L89.1 107.4 L89.2 109.6 L89.8 107.9 L91.4 107.2 L93.1 106.0 L92.8 107.4 L94.1 108.8 L92.6 109.4 L92.4 110.9 L91.1 112.1 L92.7 111.8 L93.8 112.9 L95.2 112.4 L96.6 113.0 L97.6 111.9 L99.0 112.2 L100.4 111.8 L99.5 114.0 L101.0 114.6 L101.9 116.5 L104.1 115.6 L102.8 117.0 L102.8 118.7 L102.3 119.8 L100.8 120.9 L99.3 120.2 L97.9 120.9 L96.4 120.4 L94.6 119.5 L95.0 121.1 L94.5 122.4 L93.4 123.4 L95.1 122.6 L96.6 123.0 L97.4 124.4 L96.8 125.4 L95.4 126.6 L93.6 126.7 L92.2 127.9 L90.2 128.1 L91.8 128.9 L93.1 129.8 L94.5 128.8 L95.8 129.6 L97.2 129.0 L98.5 129.7 L99.8 129.5 L101.0 130.3 L102.1 129.9 L103.7 130.0 L105.2 129.4 L103.3 130.4 L102.5 131.5 L101.2 131.4 L100.0 132.2 L98.8 131.1 L97.6 131.9 L96.2 131.4 L95.7 132.8 L94.3 133.0 L93.4 134.4 L91.8 134.7 L91.0 136.3 L89.3 136.6 L88.3 137.7" stroke-width="1.25"/>
<path d="M165.8 111.7 L165.2 110.4 L164.6 108.4 L162.2 108.1 L163.2 107.0 L162.4 105.8 L163.1 103.7 L162.9 101.7 L164.4 101.0 L165.3 99.4 L166.8 100.0 L168.2 99.0 L169.9 99.8 L170.3 98.3 L171.9 98.2 L172.6 96.9 L174.5 97.3 L176.7 96.4 L175.5 97.9 L175.8 99.2 L175.3 100.0 L174.1 100.8 L172.7 100.9 L175.0 100.9 L174.4 102.9 L176.3 102.7 L177.6 103.4 L176.7 105.2 L175.5 104.7 L174.8 105.1 L173.7 106.1 L172.9 107.7 L171.4 107.7 L170.5 108.2 L171.1 109.6 L170.4 110.4 L171.7 111.3 L169.9 112.2" stroke-width="1.25"/>
<path d="M179.0 107.7 L180.3 106.3 L182.2 106.6 L183.6 105.4 L185.2 105.5 L187.1 106.0 L186.8 107.7 L185.9 108.7 L184.6 109.2 L186.0 110.2 L183.9 110.1 L182.1 110.6 L180.7 109.7 L179.0 110.2 L179.6 108.6 L178.8 107.4" stroke-width="1.25"/>
<path d="M171.9 108.8 L173.0 107.9 L174.4 108.4 L175.8 107.7 L177.0 109.4 L176.1 111.1 L174.8 110.4 L173.2 110.8 L172.9 109.3 L171.8 108.5" stroke-width="1.25"/>
<path d="M178.3 112.4 L179.7 111.5 L181.2 112.0 L182.8 111.0 L184.3 112.1 L183.1 113.8 L181.9 112.9 L180.2 113.5 L179.5 112.3 L178.3 112.0" stroke-width="1.25"/>
<path d="M219.9 66.3 L219.1 67.8 L217.4 68.3 L215.9 70.3 L214.0 70.3 L212.8 71.2 L212.9 72.8 L212.5 74.1 L211.3 74.9 L211.4 77.2 L211.4 79.1 L211.7 80.1 L213.8 81.0 L215.9 80.7 L216.7 82.1 L218.6 82.2 L218.4 83.9 L219.7 84.4 L220.3 85.5" stroke-width="1.25"/>
<path d="M209.0 93.9 L209.2 95.2 L208.5 96.2 L208.1 97.7 L207.3 99.0 L208.1 100.5 L207.0 102.0 L206.5 103.5 L205.5 104.3 L204.3 105.2 L203.1 104.8 L201.7 105.2 L200.4 104.7 L199.1 105.1 L197.3 105.2 L196.2 106.2 L195.4 107.5 L196.4 108.4 L194.8 108.4 L193.4 109.1 L191.6 108.8 L189.9 109.3 L188.1 109.1" stroke-width="1.25"/>
<path d="M234.5 80.0 L234.6 78.1 L235.1 76.0 L234.0 75.2 L234.1 74.0 L233.9 72.1 L233.2 70.2 L232.6 67.7 L234.2 67.7 L235.4 66.6 L236.7 67.2 L237.9 66.3 L239.5 66.8 L240.0 65.1 L241.5 64.7 L243.4 63.2 L244.8 63.1 L245.8 62.1 L247.3 61.9 L248.2 60.8 L249.8 60.3 L250.7 58.7 L252.4 59.0 L253.7 57.9 L255.6 58.3 L256.2 57.3" stroke-width="1.25"/>
<path d="M251.0 92.5 L248.8 93.7 L247.4 92.7 L245.3 91.9 L246.1 90.7 L245.0 90.1 L245.2 88.8 L246.8 87.7 L248.6 87.7" stroke-width="1.25"/>
<path d="M268.8 80.9 L267.4 81.9 L265.8 81.3 L264.3 82.4 L262.7 81.6 L261.4 82.6 L259.9 81.6 L258.7 82.8 L257.1 81.9 L256.1 83.4 L254.6 82.6 L253.6 83.8 L251.8 83.3 L250.5 84.6 L249.3 83.6 L248.1 84.8 L246.8 83.7 L245.8 85.1 L244.1 84.6 L242.7 85.2" stroke-width="1.25"/>
<path d="M93.8 147.2 L93.6 145.6 L95.0 145.9 L96.1 145.0 L97.5 145.5 L98.7 144.4 L100.2 144.9 L101.5 144.1 L102.5 144.7 L104.4 145.6 L106.6 145.6 L108.2 145.1 L109.6 145.8 L110.9 145.5" stroke-width="1.25"/>
<path d="M69.4 176.6 L69.8 174.3 L71.3 174.7 L72.4 173.7 L73.7 173.8" stroke-width="1.25"/>
<path d="M237.1 93.7 L237.5 92.1 L239.3 92.2 L240.9 91.2 L242.0 92.2 L243.4 91.6 L244.4 91.8 L243.1 93.5 L240.7 93.4 L239.8 94.8 L238.8 95.2 L238.5 94.3 L236.8 93.4" stroke-width="1.25"/>
<path d="M238.2 90.3 L239.3 89.2 L240.7 89.3 L242.2 89.2 L243.1 89.7 L242.2 91.1 L240.9 91.0 L239.4 91.0 L238.1 90.1" stroke-width="1.25"/>
<path d="M226.4 194.1 L228.5 194.4 L229.2 196.9 L231.0 197.3 L232.7 197.7 L231.4 197.9 L231.2 199.6 L232.3 200.3 L234.1 201.5 L235.3 200.7 L236.7 201.1 L238.2 200.0 L239.6 200.9 L241.3 200.7 L242.3 201.9 L243.5 202.5" stroke-width="1.25"/>
<path d="M242.4 188.7 L242.5 189.5 L242.9 190.8 L244.2 191.2 L245.2 192.8 L247.0 190.7 L248.8 192.1 L248.0 189.9 L249.0 191.4 L250.4 191.5 L249.7 190.3 L248.0 190.3 L247.8 188.9 L248.9 187.4 L250.5 187.6 L252.1 186.5 L253.7 187.4 L255.4 186.6 L256.8 187.7 L258.7 187.0 L259.4 188.1" stroke-width="1.25"/>
<path d="M275.3 186.9 L276.7 186.6 L277.7 187.7 L279.1 187.0 L280.1 187.7 L278.8 188.4 L277.3 187.8 L276.8 188.8 L275.4 188.3 L274.4 188.6 L276.0 189.2 L274.7 190.4 L273.4 189.5 L272.2 190.3 L271.0 189.7 L269.5 190.4 L269.1 189.1 L267.7 190.0 L266.1 189.5 L264.6 190.3 L262.8 189.9 L261.6 191.6 L260.0 191.9 L260.1 193.5 L259.5 194.8" stroke-width="1.25"/>
<g fill="#000" stroke-width="0.7"><ellipse cx="245.4" cy="196.5" rx="0.8" ry="0.6"/><ellipse cx="246.7" cy="196.7" rx="0.9" ry="0.6"/><ellipse cx="247.8" cy="196.3" rx="0.7" ry="0.6"/><ellipse cx="251.3" cy="198.1" rx="1.1" ry="1.3"/><ellipse cx="252.9" cy="203.6" rx="1.5" ry="1.0"/><ellipse cx="254.6" cy="204.9" rx="1.0" ry="0.8"/><ellipse cx="255.8" cy="205.7" rx="0.7" ry="0.6"/><ellipse cx="253.2" cy="205.8" rx="0.7" ry="0.7"/><ellipse cx="250.1" cy="204.8" rx="0.7" ry="0.8"/><ellipse cx="250.6" cy="206.0" rx="0.6" ry="0.8"/><ellipse cx="251.1" cy="207.4" rx="0.6" ry="0.6"/><ellipse cx="252.1" cy="208.3" rx="0.6" ry="0.7"/><ellipse cx="250.6" cy="209.8" rx="0.9" ry="0.7"/><ellipse cx="254.7" cy="207.9" rx="0.9" ry="0.9"/><ellipse cx="256.4" cy="207.9" rx="1.0" ry="1.2"/><ellipse cx="255.5" cy="209.7" rx="0.6" ry="0.7"/><ellipse cx="258.6" cy="209.1" rx="1.1" ry="0.6"/><ellipse cx="256.1" cy="211.4" rx="0.7" ry="0.7"/><ellipse cx="257.9" cy="211.6" rx="0.5" ry="0.4"/><ellipse cx="261.0" cy="210.6" rx="0.9" ry="0.5"/><ellipse cx="259.9" cy="204.9" rx="1.3" ry="0.6"/><ellipse cx="263.5" cy="204.2" rx="1.4" ry="0.7"/><ellipse cx="262.1" cy="206.4" rx="0.5" ry="0.5"/><ellipse cx="263.7" cy="207.4" rx="0.5" ry="0.6"/><ellipse cx="264.4" cy="208.2" rx="0.6" ry="0.6"/><ellipse cx="265.1" cy="209.1" rx="1.3" ry="0.6"/><ellipse cx="265.4" cy="210.4" rx="0.5" ry="0.5"/><ellipse cx="266.4" cy="211.2" rx="0.5" ry="0.5"/><ellipse cx="269.0" cy="210.3" rx="0.5" ry="0.5"/><ellipse cx="269.9" cy="212.5" rx="1.3" ry="1.9"/><ellipse cx="265.3" cy="215.7" rx="0.6" ry="1.5"/><ellipse cx="264.0" cy="216.8" rx="0.6" ry="0.4"/><ellipse cx="259.4" cy="200.6" rx="1.0" ry="1.7"/><ellipse cx="256.9" cy="199.7" rx="0.5" ry="0.4"/><ellipse cx="260.5" cy="196.3" rx="2.0" ry="1.3"/><ellipse cx="255.1" cy="192.5" rx="1.3" ry="1.0"/><ellipse cx="253.8" cy="194.6" rx="0.4" ry="0.4"/><ellipse cx="257.0" cy="189.5" rx="0.8" ry="0.6"/><ellipse cx="251.9" cy="188.2" rx="0.9" ry="0.9"/><ellipse cx="258.3" cy="191.1" rx="1.0" ry="0.6"/><ellipse cx="259.4" cy="192.9" rx="0.5" ry="0.5"/><ellipse cx="242.9" cy="212.2" rx="0.7" ry="1.0"/><ellipse cx="244.6" cy="214.3" rx="0.4" ry="0.4"/><ellipse cx="245.7" cy="204.2" rx="0.6" ry="0.6"/><ellipse cx="245.5" cy="206.4" rx="0.8" ry="0.4"/><ellipse cx="243.8" cy="206.8" rx="0.4" ry="0.4"/><ellipse cx="230.3" cy="198.9" rx="0.7" ry="1.2"/><ellipse cx="229.8" cy="201.4" rx="1.2" ry="1.4"/><ellipse cx="230.6" cy="200.6" rx="0.4" ry="0.8"/><ellipse cx="231.1" cy="204.0" rx="0.9" ry="0.8"/><ellipse cx="226.0" cy="194.2" rx="1.0" ry="1.6"/><ellipse cx="227.9" cy="196.3" rx="0.4" ry="0.4"/><ellipse cx="197.7" cy="164.7" rx="0.9" ry="1.0"/><ellipse cx="196.6" cy="165.9" rx="0.7" ry="1.8"/><ellipse cx="198.5" cy="166.3" rx="0.6" ry="0.6"/><ellipse cx="199.8" cy="167.7" rx="0.7" ry="1.4"/><ellipse cx="199.8" cy="170.4" rx="0.6" ry="1.5"/><ellipse cx="208.7" cy="174.1" rx="1.4" ry="0.6"/><ellipse cx="209.0" cy="175.0" rx="1.8" ry="0.5"/><ellipse cx="210.1" cy="176.1" rx="1.4" ry="0.5"/><ellipse cx="206.0" cy="175.6" rx="0.6" ry="0.5"/><ellipse cx="213.6" cy="177.2" rx="1.2" ry="0.4"/><ellipse cx="85.0" cy="98.8" rx="1.6" ry="1.6"/><ellipse cx="82.9" cy="94.2" rx="1.6" ry="2.2"/><ellipse cx="79.7" cy="98.5" rx="1.0" ry="2.2"/><ellipse cx="86.7" cy="103.4" rx="1.4" ry="1.0"/><ellipse cx="85.6" cy="107.1" rx="1.0" ry="1.0"/><ellipse cx="90.7" cy="108.0" rx="0.7" ry="1.0"/><ellipse cx="84.0" cy="100.7" rx="0.6" ry="0.5"/><ellipse cx="85.0" cy="105.5" rx="0.5" ry="0.6"/><ellipse cx="78.6" cy="100.5" rx="0.5" ry="0.5"/><ellipse cx="82.1" cy="72.9" rx="1.8" ry="1.5"/><ellipse cx="81.8" cy="75.6" rx="0.6" ry="0.6"/><ellipse cx="102.3" cy="89.6" rx="1.3" ry="1.0"/><ellipse cx="104.4" cy="88.3" rx="0.8" ry="0.6"/><ellipse cx="112.3" cy="82.6" rx="1.3" ry="2.4"/><ellipse cx="113.9" cy="80.7" rx="0.6" ry="0.9"/><ellipse cx="145.9" cy="84.2" rx="0.8" ry="1.3"/><ellipse cx="145.4" cy="81.5" rx="0.7" ry="1.2"/><ellipse cx="144.9" cy="78.8" rx="0.7" ry="0.8"/><ellipse cx="145.9" cy="74.5" rx="0.8" ry="0.8"/><ellipse cx="149.2" cy="71.8" rx="0.9" ry="0.6"/><ellipse cx="154.0" cy="69.4" rx="1.0" ry="0.6"/><ellipse cx="162.1" cy="65.9" rx="1.2" ry="0.7"/><ellipse cx="166.4" cy="65.1" rx="1.6" ry="0.8"/><ellipse cx="165.4" cy="63.5" rx="1.2" ry="0.6"/><ellipse cx="178.3" cy="57.8" rx="0.8" ry="0.8"/><ellipse cx="182.6" cy="55.7" rx="0.7" ry="0.8"/><ellipse cx="184.8" cy="52.4" rx="0.8" ry="1.0"/><ellipse cx="186.9" cy="49.2" rx="0.9" ry="0.9"/><ellipse cx="190.7" cy="47.0" rx="0.8" ry="0.8"/><ellipse cx="192.8" cy="44.3" rx="0.7" ry="0.7"/><ellipse cx="183.7" cy="44.1" rx="0.5" ry="0.4"/><ellipse cx="190.1" cy="41.4" rx="1.3" ry="0.8"/><ellipse cx="193.9" cy="40.0" rx="1.6" ry="0.9"/><ellipse cx="198.2" cy="39.2" rx="1.7" ry="1.0"/><ellipse cx="200.4" cy="36.5" rx="1.7" ry="1.8"/><ellipse cx="204.7" cy="37.1" rx="1.8" ry="1.6"/><ellipse cx="205.8" cy="34.6" rx="1.0" ry="0.9"/><ellipse cx="212.8" cy="33.8" rx="2.2" ry="1.3"/><ellipse cx="218.7" cy="31.4" rx="1.6" ry="1.0"/><ellipse cx="221.4" cy="30.1" rx="1.3" ry="0.7"/><ellipse cx="226.8" cy="29.3" rx="1.2" ry="0.7"/><ellipse cx="230.6" cy="29.0" rx="0.9" ry="0.6"/><ellipse cx="238.7" cy="28.2" rx="1.2" ry="0.7"/><ellipse cx="242.4" cy="27.1" rx="1.8" ry="0.8"/><ellipse cx="247.8" cy="26.6" rx="1.0" ry="0.7"/><ellipse cx="248.9" cy="24.9" rx="0.8" ry="0.5"/><ellipse cx="257.5" cy="24.7" rx="1.6" ry="0.7"/><ellipse cx="176.1" cy="106.3" rx="0.6" ry="0.8"/><ellipse cx="176.7" cy="111.7" rx="0.8" ry="0.7"/><ellipse cx="175.6" cy="111.4" rx="0.4" ry="0.4"/><ellipse cx="185.3" cy="111.2" rx="0.8" ry="0.6"/><ellipse cx="181.5" cy="102.0" rx="0.6" ry="0.5"/><ellipse cx="178.0" cy="98.9" rx="0.5" ry="0.4"/><ellipse cx="164.8" cy="108.7" rx="0.3" ry="0.5"/><ellipse cx="236.0" cy="83.1" rx="1.3" ry="0.9"/><ellipse cx="233.3" cy="82.6" rx="1.0" ry="0.8"/><ellipse cx="231.1" cy="83.7" rx="0.8" ry="0.6"/><ellipse cx="239.2" cy="84.2" rx="1.2" ry="0.7"/><ellipse cx="226.8" cy="82.9" rx="2.0" ry="1.4"/><ellipse cx="233.8" cy="81.3" rx="0.7" ry="0.6"/><ellipse cx="232.7" cy="66.7" rx="0.8" ry="0.6"/><ellipse cx="232.2" cy="65.9" rx="0.5" ry="0.4"/><ellipse cx="252.1" cy="57.0" rx="0.6" ry="0.5"/><ellipse cx="219.8" cy="86.9" rx="0.7" ry="0.8"/><ellipse cx="220.9" cy="88.5" rx="0.6" ry="0.7"/><ellipse cx="219.3" cy="89.6" rx="0.5" ry="0.5"/><ellipse cx="213.9" cy="91.2" rx="0.5" ry="0.4"/><ellipse cx="222.5" cy="95.3" rx="0.4" ry="0.4"/><ellipse cx="244.0" cy="91.8" rx="0.6" ry="0.5"/><ellipse cx="244.9" cy="89.6" rx="0.4" ry="0.4"/><ellipse cx="174.5" cy="177.0" rx="1.0" ry="0.5"/><ellipse cx="183.7" cy="209.4" rx="0.4" ry="0.3"/><ellipse cx="199.6" cy="200.1" rx="0.4" ry="0.3"/><ellipse cx="195.8" cy="213.3" rx="0.4" ry="0.3"/><ellipse cx="126.8" cy="199.0" rx="0.4" ry="0.3"/><ellipse cx="134.9" cy="196.6" rx="0.3" ry="0.2"/><ellipse cx="106.6" cy="141.1" rx="0.4" ry="0.3"/><ellipse cx="107.4" cy="142.4" rx="0.5" ry="0.3"/><ellipse cx="105.3" cy="141.1" rx="0.3" ry="0.3"/><ellipse cx="101.8" cy="152.5" rx="0.5" ry="0.3"/><ellipse cx="112.0" cy="158.6" rx="0.5" ry="0.3"/><ellipse cx="112.0" cy="160.0" rx="0.5" ry="0.4"/><ellipse cx="106.9" cy="155.9" rx="0.3" ry="0.3"/><ellipse cx="91.5" cy="146.5" rx="0.3" ry="0.2"/><ellipse cx="85.0" cy="138.5" rx="0.3" ry="0.2"/><ellipse cx="145.1" cy="121.4" rx="0.4" ry="0.6"/><ellipse cx="147.6" cy="119.8" rx="0.8" ry="0.3"/><ellipse cx="150.3" cy="119.5" rx="0.5" ry="0.3"/><ellipse cx="164.0" cy="111.7" rx="0.3" ry="0.7"/><ellipse cx="164.8" cy="112.8" rx="0.4" ry="0.4"/><ellipse cx="164.3" cy="110.4" rx="0.3" ry="0.4"/><path d="M85.6 95.0 L90.4 94.2 L92.0 97.2 L92.3 100.4 L94.2 103.1 L94.5 106.3 L92.0 108.7 L88.3 109.0 L87.2 106.3 L84.5 104.2 L83.4 102.5 L86.1 100.4 L82.9 98.8 L84.0 96.6Z"/><path d="M80.2 96.3 L82.3 93.4 L85.6 92.0 L86.4 93.9 L84.0 95.8Z"/><path d="M78.0 100.9 L78.8 96.9 L81.3 96.9 L80.5 100.4Z"/><path d="M242.7 197.7 L245.1 197.1 L247.8 198.7 L250.0 200.4 L251.6 202.0 L251.6 203.0 L249.4 201.7 L246.7 200.4 L244.6 199.3Z"/><path d="M242.7 195.0 L244.0 194.7 L245.1 196.3 L243.8 197.5 L243.2 196.3Z"/><path d="M244.6 190.9 L245.4 192.3 L247.0 191.2 L248.1 192.3 L248.6 190.4 L250.5 191.3 L248.9 189.6 L246.7 189.8Z"/><path d="M245.9 203.0 L247.0 202.5 L248.9 204.7 L247.8 204.4Z"/></g>
<g fill="#fff" stroke="none"><circle cx="88.8" cy="97.4" r="0.5"/><circle cx="89.4" cy="101.7" r="0.5"/><circle cx="90.7" cy="105.2" r="0.5"/><circle cx="85.6" cy="98.0" r="0.4"/><circle cx="87.2" cy="103.1" r="0.4"/><circle cx="91.2" cy="100.1" r="0.4"/></g></g>
</g>
<rect x="308.50" y="19.20" width="253.00" height="204.80" fill="none" stroke="#4a4a4a" stroke-width="0.9"/>
<line x1="65.05" y1="224.0" x2="65.05" y2="228.0" stroke="#222" stroke-width="0.95"/>
<line x1="324.25" y1="224.0" x2="324.25" y2="228.0" stroke="#222" stroke-width="0.95"/>
<line x1="119.05" y1="224.0" x2="119.05" y2="228.0" stroke="#222" stroke-width="0.95"/>
<line x1="378.25" y1="224.0" x2="378.25" y2="228.0" stroke="#222" stroke-width="0.95"/>
<line x1="173.05" y1="224.0" x2="173.05" y2="228.0" stroke="#222" stroke-width="0.95"/>
<line x1="432.25" y1="224.0" x2="432.25" y2="228.0" stroke="#222" stroke-width="0.95"/>
<line x1="227.05" y1="224.0" x2="227.05" y2="228.0" stroke="#222" stroke-width="0.95"/>
<line x1="486.25" y1="224.0" x2="486.25" y2="228.0" stroke="#222" stroke-width="0.95"/>
<line x1="281.05" y1="224.0" x2="281.05" y2="228.0" stroke="#222" stroke-width="0.95"/>
<line x1="540.25" y1="224.0" x2="540.25" y2="228.0" stroke="#222" stroke-width="0.95"/>
<line x1="44.50" y1="192.00" x2="49.30" y2="192.00" stroke="#222" stroke-width="0.95"/>
<line x1="44.50" y1="138.11" x2="49.30" y2="138.11" stroke="#222" stroke-width="0.95"/>
<line x1="44.50" y1="84.22" x2="49.30" y2="84.22" stroke="#222" stroke-width="0.95"/>
<line x1="44.50" y1="30.33" x2="49.30" y2="30.33" stroke="#222" stroke-width="0.95"/>
<text x="39.5" y="194.90" font-size="8" text-anchor="end" font-family="Liberation Sans, Arial, sans-serif" fill="#111" stroke="#111" stroke-width="0.28">40° N</text>
<text x="39.5" y="141.01" font-size="8" text-anchor="end" font-family="Liberation Sans, Arial, sans-serif" fill="#111" stroke="#111" stroke-width="0.28">50° N</text>
<text x="39.5" y="87.12" font-size="8" text-anchor="end" font-family="Liberation Sans, Arial, sans-serif" fill="#111" stroke="#111" stroke-width="0.28">60° N</text>
<text x="39.5" y="33.23" font-size="8" text-anchor="end" font-family="Liberation Sans, Arial, sans-serif" fill="#111" stroke="#111" stroke-width="0.28">70° N</text>
<text x="65.05" y="240.4" font-size="8" text-anchor="middle" font-family="Liberation Sans, Arial, sans-serif" fill="#111" stroke="#111" stroke-width="0.28">– 10° W</text>
<text x="119.05" y="240.4" font-size="8" text-anchor="middle" font-family="Liberation Sans, Arial, sans-serif" fill="#111" stroke="#111" stroke-width="0.28">0° E</text>
<text x="173.05" y="240.4" font-size="8" text-anchor="middle" font-family="Liberation Sans, Arial, sans-serif" fill="#111" stroke="#111" stroke-width="0.28">10° E</text>
<text x="227.05" y="240.4" font-size="8" text-anchor="middle" font-family="Liberation Sans, Arial, sans-serif" fill="#111" stroke="#111" stroke-width="0.28">20° E</text>
<text x="281.05" y="240.4" font-size="8" text-anchor="middle" font-family="Liberation Sans, Arial, sans-serif" fill="#111" stroke="#111" stroke-width="0.28">30° E</text>
<text x="305" y="257.6" font-size="10" text-anchor="middle" font-family="Liberation Sans, Arial, sans-serif" fill="#111" stroke="#111" stroke-width="0.28">Longitude</text>
<text transform="translate(9.6,122.2) rotate(-90)" font-size="10" text-anchor="middle" font-family="Liberation Sans, Arial, sans-serif" fill="#111" stroke="#111" stroke-width="0.28">Latitude</text>
<rect x="566.3" y="7.10" width="15.2" height="21.89" fill="#961A1E"/>
<rect x="566.3" y="28.79" width="15.2" height="21.89" fill="#CB0A0A"/>
<rect x="566.3" y="50.48" width="15.2" height="21.89" fill="#F63B2C"/>
<rect x="566.3" y="72.17" width="15.2" height="21.89" fill="#FF7F12"/>
<rect x="566.3" y="93.86" width="15.2" height="21.89" fill="#F9C24C"/>
<rect x="566.3" y="115.55" width="15.2" height="21.89" fill="#D1ECC7"/>
<rect x="566.3" y="137.24" width="15.2" height="21.89" fill="#A3E2F6"/>
<rect x="566.3" y="158.93" width="15.2" height="21.89" fill="#5BAAF3"/>
<rect x="566.3" y="180.62" width="15.2" height="21.89" fill="#1E62F0"/>
<rect x="566.3" y="202.31" width="15.2" height="21.89" fill="#7B00D8"/>
<rect x="566.3" y="7.1" width="15.2" height="216.90" fill="none" stroke="#222" stroke-width="0.7"/>
<line x1="581.5" y1="7.10" x2="585.8" y2="7.10" stroke="#222" stroke-width="0.95"/>
<text x="588.6" y="10.70" font-size="9.2" font-family="Liberation Sans, Arial, sans-serif" fill="#111" stroke="#111" stroke-width="0.28">1.0</text>
<line x1="581.5" y1="28.79" x2="585.8" y2="28.79" stroke="#222" stroke-width="0.95"/>
<text x="588.6" y="32.39" font-size="9.2" font-family="Liberation Sans, Arial, sans-serif" fill="#111" stroke="#111" stroke-width="0.28">0.9</text>
<line x1="581.5" y1="50.48" x2="585.8" y2="50.48" stroke="#222" stroke-width="0.95"/>
<text x="588.6" y="54.08" font-size="9.2" font-family="Liberation Sans, Arial, sans-serif" fill="#111" stroke="#111" stroke-width="0.28">0.8</text>
<line x1="581.5" y1="72.17" x2="585.8" y2="72.17" stroke="#222" stroke-width="0.95"/>
<text x="588.6" y="75.77" font-size="9.2" font-family="Liberation Sans, Arial, sans-serif" fill="#111" stroke="#111" stroke-width="0.28">0.7</text>
<line x1="581.5" y1="93.86" x2="585.8" y2="93.86" stroke="#222" stroke-width="0.95"/>
<text x="588.6" y="97.46" font-size="9.2" font-family="Liberation Sans, Arial, sans-serif" fill="#111" stroke="#111" stroke-width="0.28">0.6</text>
<line x1="581.5" y1="115.55" x2="585.8" y2="115.55" stroke="#222" stroke-width="0.95"/>
<text x="588.6" y="119.15" font-size="9.2" font-family="Liberation Sans, Arial, sans-serif" fill="#111" stroke="#111" stroke-width="0.28">0.5</text>
<line x1="581.5" y1="137.24" x2="585.8" y2="137.24" stroke="#222" stroke-width="0.95"/>
<text x="588.6" y="140.84" font-size="9.2" font-family="Liberation Sans, Arial, sans-serif" fill="#111" stroke="#111" stroke-width="0.28">0.4</text>
<line x1="581.5" y1="158.93" x2="585.8" y2="158.93" stroke="#222" stroke-width="0.95"/>
<text x="588.6" y="162.53" font-size="9.2" font-family="Liberation Sans, Arial, sans-serif" fill="#111" stroke="#111" stroke-width="0.28">0.3</text>
<line x1="581.5" y1="180.62" x2="585.8" y2="180.62" stroke="#222" stroke-width="0.95"/>
<text x="588.6" y="184.22" font-size="9.2" font-family="Liberation Sans, Arial, sans-serif" fill="#111" stroke="#111" stroke-width="0.28">0.2</text>
<line x1="581.5" y1="202.31" x2="585.8" y2="202.31" stroke="#222" stroke-width="0.95"/>
<text x="588.6" y="205.91" font-size="9.2" font-family="Liberation Sans, Arial, sans-serif" fill="#111" stroke="#111" stroke-width="0.28">0.1</text>
<line x1="581.5" y1="224.00" x2="585.8" y2="224.00" stroke="#222" stroke-width="0.95"/>
<text x="588.6" y="227.60" font-size="9.2" font-family="Liberation Sans, Arial, sans-serif" fill="#111" stroke="#111" stroke-width="0.28">0.0</text>
</svg>
</body></html>
